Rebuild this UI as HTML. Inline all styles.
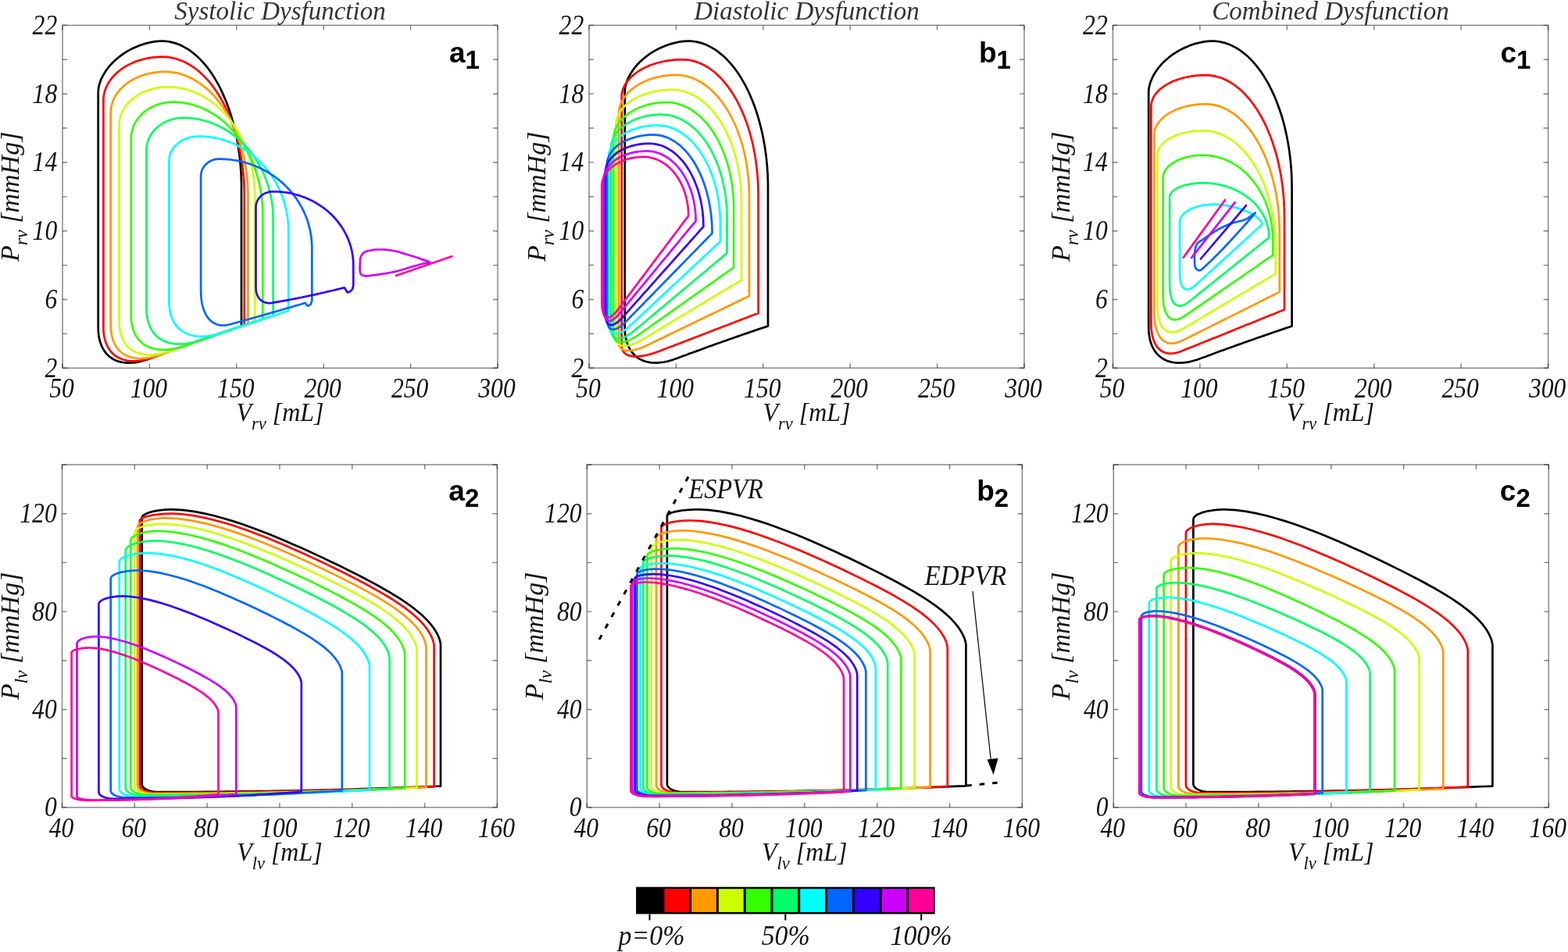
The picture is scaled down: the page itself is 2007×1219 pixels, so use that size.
<!DOCTYPE html><html><head><meta charset="utf-8"><style>html,body{margin:0;padding:0;background:#fff;overflow:hidden;}svg{display:block} .tk{font-family:"Liberation Serif", serif;font-style:italic;font-size:35.5px;fill:#111} .lab{font-family:"Liberation Serif", serif;font-style:italic;font-size:34px;fill:#111} .ttl{font-family:"Liberation Serif", serif;font-style:italic;font-size:33px;fill:#333} .pl{font-family:"Liberation Sans", sans-serif;font-weight:bold;font-size:37px;fill:#000}</style></head><body>
<svg width="2007" height="1219" viewBox="0 0 2007 1219">
<rect width="2007" height="1219" fill="#fff"/>
<text x="358.5" y="25" text-anchor="middle" class="ttl">Systolic Dysfunction</text>
<text x="1032.5" y="25" text-anchor="middle" class="ttl">Diastolic Dysfunction</text>
<text x="1703.0" y="25" text-anchor="middle" class="ttl">Combined Dysfunction</text>
<g fill="none" stroke-width="2.7" stroke-linejoin="round" stroke-linecap="round"><path d="M309.0 417.6L309.0 240.9L309.0 235.0L308.8 229.1L308.6 223.2L308.2 217.3L307.8 211.4L307.2 205.6L306.6 199.8L305.8 194.1L305.0 188.3L304.0 182.7L303.0 177.1L301.9 171.6L300.6 166.1L299.3 160.7L297.9 155.4L296.4 150.2L294.8 145.0L293.2 140.0L291.4 135.0L289.6 130.2L287.6 125.5L285.6 120.9L283.5 116.4L281.4 112.0L279.2 107.7L276.8 103.6L274.5 99.6L272.0 95.8L269.5 92.1L267.0 88.5L264.4 85.1L261.7 81.9L258.9 78.8L256.2 75.9L253.3 73.1L250.4 70.5L247.5 68.1L244.6 65.8L241.6 63.7L238.5 61.8L235.5 60.1L232.4 58.5L229.3 57.1L226.1 55.9L223.0 54.9L219.8 54.1L216.6 53.4L213.4 53.0L210.2 52.7L207.0 52.6L204.5 52.7L201.6 52.9L198.5 53.2L195.4 53.7L192.1 54.3L188.9 55.1L185.6 55.9L182.3 57.0L179.0 58.1L175.8 59.4L172.5 60.7L169.3 62.2L166.2 63.9L163.1 65.6L160.1 67.4L157.2 69.4L154.4 71.4L151.7 73.5L149.0 75.7L146.5 78.0L144.1 80.3L141.8 82.7L139.7 85.2L137.7 87.7L135.8 90.3L134.1 92.9L132.5 95.5L131.1 98.1L129.8 100.8L128.7 103.4L127.8 106.0L127.0 108.6L126.4 111.2L126.0 113.6L125.8 116.0L125.7 118.0L125.7 418.6L125.8 422.5L126.0 426.2L126.4 429.7L127.0 433.1L127.8 436.3L128.7 439.3L129.8 442.2L131.0 444.9L132.4 447.5L134.0 449.9L135.6 452.1L137.5 454.1L139.4 456.0L141.5 457.7L143.7 459.2L146.1 460.5L148.6 461.7L151.2 462.6L154.0 463.4L156.8 464.0L159.8 464.4L162.9 464.6L166.1 464.7L169.4 464.5L172.8 464.1L176.4 463.6L180.0 462.8L183.7 461.8L187.5 460.7L191.4 459.3L194.7 458.1L197.9 456.9L201.2 455.7L204.5 454.4L207.7 453.2L211.0 452.0L214.3 450.8L217.5 449.6L220.8 448.5L224.1 447.3L227.3 446.1L230.6 444.9L233.9 443.7L237.1 442.5L240.4 441.4L243.7 440.2L247.0 439.0L250.2 437.9L253.5 436.7L256.8 435.6L260.0 434.4L263.3 433.3L266.6 432.1L269.8 431.0L273.1 429.9L276.4 428.7L279.6 427.6L282.9 426.5L286.2 425.3L289.4 424.2L292.7 423.1L296.0 422.0L299.2 420.9L302.5 419.8L305.8 418.7L309.0 417.6Z" stroke="#000000"/><path d="M312.8 416.3L312.8 251.8L312.8 246.2L312.6 240.6L312.4 235.0L312.0 229.4L311.5 223.8L311.0 218.3L310.3 212.8L309.5 207.3L308.7 201.9L307.7 196.5L306.6 191.2L305.5 185.9L304.2 180.7L302.8 175.6L301.4 170.6L299.8 165.6L298.2 160.7L296.5 155.9L294.7 151.2L292.8 146.6L290.8 142.1L288.7 137.7L286.6 133.4L284.4 129.3L282.1 125.2L279.7 121.3L277.3 117.5L274.8 113.9L272.2 110.4L269.6 107.0L266.9 103.7L264.1 100.7L261.3 97.7L258.4 94.9L255.5 92.3L252.6 89.8L249.6 87.5L246.5 85.4L243.4 83.4L240.3 81.5L237.2 79.9L234.0 78.4L230.8 77.1L227.6 76.0L224.3 75.0L221.0 74.2L217.8 73.6L214.5 73.1L211.2 72.9L207.9 72.8L204.6 72.8L201.3 73.0L198.0 73.3L194.8 73.6L191.5 74.1L188.3 74.7L185.2 75.4L182.1 76.2L179.0 77.1L176.0 78.0L173.0 79.1L170.1 80.3L167.3 81.6L164.6 82.9L161.9 84.4L159.3 85.9L156.9 87.5L154.5 89.2L152.2 91.0L150.0 92.8L148.0 94.8L146.0 96.7L144.2 98.8L142.5 100.9L140.9 103.0L139.4 105.2L138.1 107.5L136.9 109.7L135.9 112.1L134.9 114.4L134.1 116.8L133.5 119.2L133.0 121.6L132.6 124.1L132.4 126.5L132.4 129.0L132.4 418.6L132.4 422.3L132.7 425.8L133.1 429.2L133.7 432.5L134.5 435.5L135.4 438.4L136.5 441.2L137.7 443.8L139.1 446.2L140.6 448.5L142.3 450.6L144.1 452.5L146.1 454.3L148.2 455.9L150.4 457.3L152.8 458.6L155.3 459.6L157.9 460.5L160.7 461.2L163.5 461.8L166.5 462.1L169.6 462.3L172.8 462.3L176.1 462.1L179.5 461.7L183.0 461.1L186.7 460.3L190.4 459.4L194.2 458.2L198.1 456.8L201.3 455.6L204.5 454.5L207.6 453.3L210.8 452.1L214.0 450.9L217.2 449.8L220.4 448.6L223.6 447.4L226.8 446.3L230.0 445.1L233.1 444.0L236.3 442.8L239.5 441.7L242.7 440.6L245.9 439.4L249.1 438.3L252.3 437.2L255.5 436.0L258.6 434.9L261.8 433.8L265.0 432.7L268.2 431.6L271.4 430.4L274.6 429.3L277.8 428.2L281.0 427.1L284.1 426.0L287.3 424.9L290.5 423.9L293.7 422.8L296.9 421.7L300.1 420.6L303.3 419.5L306.5 418.5L309.6 417.4L312.8 416.3Z" stroke="#ff0000"/><path d="M317.5 414.8L317.5 251.8L317.5 246.8L317.3 241.8L317.0 236.8L316.7 231.8L316.2 226.8L315.6 221.9L314.9 217.0L314.2 212.1L313.3 207.2L312.3 202.4L311.2 197.7L310.0 193.0L308.7 188.3L307.4 183.7L305.9 179.2L304.3 174.8L302.7 170.4L300.9 166.1L299.1 161.9L297.2 157.8L295.2 153.8L293.1 149.9L290.9 146.1L288.6 142.3L286.3 138.7L283.9 135.2L281.4 131.8L278.9 128.6L276.3 125.4L273.6 122.4L270.9 119.5L268.1 116.8L265.2 114.1L262.3 111.7L259.4 109.3L256.4 107.1L253.3 105.0L250.2 103.1L247.1 101.3L243.9 99.7L240.7 98.2L237.5 96.9L234.2 95.7L231.0 94.7L227.7 93.8L224.4 93.1L221.0 92.6L217.7 92.2L214.4 91.9L211.0 91.9L208.0 91.9L205.0 92.1L202.0 92.3L199.0 92.7L196.0 93.1L193.1 93.7L190.2 94.3L187.3 95.0L184.5 95.9L181.7 96.8L179.0 97.8L176.4 98.9L173.8 100.1L171.3 101.4L168.8 102.7L166.5 104.1L164.2 105.7L162.0 107.2L159.9 108.9L157.9 110.6L156.0 112.4L154.2 114.2L152.6 116.1L151.0 118.1L149.5 120.1L148.2 122.2L147.0 124.2L145.9 126.4L144.9 128.5L144.1 130.7L143.4 133.0L142.8 135.2L142.3 137.5L142.0 139.7L141.8 142.0L141.7 144.3L141.7 416.4L141.8 420.0L142.1 423.5L142.5 426.8L143.1 429.9L143.8 432.9L144.7 435.8L145.8 438.5L147.0 441.0L148.4 443.4L149.9 445.6L151.6 447.6L153.4 449.5L155.4 451.2L157.4 452.8L159.7 454.2L162.0 455.4L164.5 456.4L167.1 457.3L169.8 458.0L172.7 458.5L175.6 458.8L178.7 459.0L181.9 458.9L185.2 458.7L188.6 458.3L192.1 457.8L195.7 457.0L199.3 456.0L203.1 454.9L207.0 453.5L210.1 452.4L213.1 451.3L216.2 450.1L219.3 449.0L222.3 447.9L225.4 446.8L228.5 445.7L231.6 444.6L234.6 443.5L237.7 442.3L240.8 441.2L243.8 440.2L246.9 439.1L250.0 438.0L253.0 436.9L256.1 435.8L259.2 434.7L262.3 433.6L265.3 432.6L268.4 431.5L271.5 430.4L274.5 429.4L277.6 428.3L280.7 427.2L283.7 426.2L286.8 425.1L289.9 424.1L292.9 423.0L296.0 422.0L299.1 420.9L302.2 419.9L305.2 418.9L308.3 417.8L311.4 416.8L314.4 415.8L317.5 414.8Z" stroke="#ff9900"/><path d="M326.2 411.9L326.2 251.8L326.1 247.4L326.0 243.0L325.7 238.6L325.3 234.2L324.8 229.9L324.2 225.5L323.5 221.2L322.7 216.9L321.8 212.7L320.8 208.4L319.6 204.3L318.4 200.1L317.1 196.1L315.6 192.1L314.1 188.1L312.4 184.2L310.7 180.4L308.9 176.6L307.0 172.9L305.0 169.3L302.9 165.8L300.7 162.3L298.4 159.0L296.1 155.7L293.6 152.5L291.1 149.5L288.5 146.5L285.9 143.6L283.2 140.9L280.4 138.2L277.5 135.7L274.6 133.3L271.6 131.0L268.6 128.8L265.5 126.7L262.4 124.8L259.2 123.0L255.9 121.3L252.7 119.7L249.4 118.3L246.0 117.0L242.7 115.8L239.3 114.8L235.8 113.9L232.4 113.1L229.0 112.5L225.5 112.0L222.0 111.7L218.5 111.5L215.0 111.4L212.3 111.4L209.6 111.6L206.9 111.8L204.2 112.1L201.5 112.5L198.9 113.0L196.3 113.6L193.7 114.3L191.1 115.1L188.7 115.9L186.2 116.9L183.8 117.9L181.5 119.0L179.2 120.1L177.0 121.4L174.9 122.7L172.9 124.1L170.9 125.5L169.0 127.1L167.2 128.6L165.5 130.3L163.9 132.0L162.4 133.7L161.0 135.5L159.7 137.4L158.5 139.3L157.4 141.2L156.4 143.2L155.5 145.2L154.8 147.2L154.1 149.2L153.6 151.3L153.2 153.4L152.9 155.5L152.7 157.6L152.6 159.7L152.6 412.0L152.7 415.6L153.0 419.1L153.4 422.4L154.0 425.6L154.8 428.5L155.8 431.4L156.9 434.1L158.2 436.6L159.6 439.0L161.2 441.2L162.9 443.2L164.8 445.1L166.8 446.8L169.0 448.3L171.3 449.7L173.7 450.9L176.3 451.9L179.0 452.7L181.8 453.4L184.7 453.9L187.8 454.2L191.0 454.3L194.3 454.3L197.7 454.0L201.2 453.6L204.9 453.0L208.6 452.2L212.4 451.2L216.3 450.0L220.4 448.6L223.3 447.5L226.2 446.5L229.2 445.4L232.1 444.4L235.1 443.3L238.0 442.2L240.9 441.2L243.9 440.1L246.8 439.1L249.8 438.0L252.7 437.0L255.6 436.0L258.6 434.9L261.5 433.9L264.5 432.9L267.4 431.8L270.3 430.8L273.3 429.8L276.2 428.8L279.2 427.8L282.1 426.7L285.0 425.7L288.0 424.7L290.9 423.7L293.9 422.7L296.8 421.7L299.7 420.7L302.7 419.7L305.6 418.7L308.6 417.7L311.5 416.8L314.4 415.8L317.4 414.8L320.3 413.8L323.3 412.8L326.2 411.9Z" stroke="#ccff00"/><path d="M336.2 408.6L336.2 273.8L336.2 269.3L336.0 264.8L335.7 260.3L335.3 255.9L334.8 251.4L334.2 247.0L333.5 242.6L332.6 238.2L331.7 233.9L330.6 229.6L329.4 225.3L328.2 221.1L326.8 217.0L325.3 212.9L323.7 208.8L322.0 204.9L320.2 201.0L318.4 197.1L316.4 193.4L314.3 189.7L312.1 186.1L309.9 182.6L307.5 179.2L305.1 175.8L302.6 172.6L300.0 169.5L297.4 166.5L294.6 163.5L291.8 160.7L288.9 158.0L286.0 155.5L283.0 153.0L279.9 150.6L276.8 148.4L273.6 146.3L270.3 144.3L267.0 142.5L263.7 140.8L260.3 139.2L256.9 137.7L253.5 136.4L250.0 135.2L246.5 134.2L243.0 133.2L239.4 132.5L235.9 131.8L232.3 131.3L228.7 131.0L225.1 130.8L221.5 130.7L219.1 130.8L216.8 130.9L214.5 131.1L212.2 131.4L209.9 131.8L207.6 132.3L205.3 132.9L203.1 133.5L200.9 134.3L198.8 135.1L196.7 136.0L194.6 136.9L192.6 138.0L190.7 139.1L188.8 140.3L187.0 141.6L185.2 142.9L183.5 144.3L181.9 145.8L180.3 147.3L178.9 148.9L177.5 150.6L176.2 152.2L175.0 154.0L173.9 155.8L172.8 157.6L171.9 159.4L171.0 161.3L170.3 163.2L169.6 165.2L169.1 167.2L168.6 169.2L168.2 171.2L168.0 173.2L167.8 175.2L167.8 177.2L167.8 403.3L167.9 407.0L168.2 410.7L168.6 414.1L169.3 417.4L170.1 420.6L171.0 423.6L172.2 426.4L173.5 429.0L175.0 431.5L176.6 433.8L178.4 436.0L180.4 438.0L182.5 439.8L184.8 441.4L187.1 442.8L189.7 444.1L192.4 445.2L195.2 446.1L198.1 446.8L201.2 447.4L204.4 447.7L207.7 447.9L211.1 447.9L214.6 447.6L218.3 447.2L222.1 446.6L226.0 445.8L229.9 444.8L234.0 443.6L238.2 442.2L240.9 441.2L243.6 440.2L246.4 439.3L249.1 438.3L251.8 437.3L254.5 436.4L257.2 435.4L260.0 434.4L262.7 433.5L265.4 432.5L268.1 431.6L270.9 430.6L273.6 429.7L276.3 428.7L279.0 427.8L281.8 426.9L284.5 425.9L287.2 425.0L289.9 424.1L292.7 423.1L295.4 422.2L298.1 421.3L300.8 420.4L303.5 419.4L306.3 418.5L309.0 417.6L311.7 416.7L314.4 415.8L317.2 414.9L319.9 414.0L322.6 413.1L325.3 412.2L328.1 411.3L330.8 410.4L333.5 409.5L336.2 408.6Z" stroke="#33ff00"/><path d="M349.6 404.2L349.6 280.4L349.5 276.3L349.4 272.2L349.1 268.2L348.7 264.2L348.2 260.1L347.6 256.1L346.8 252.1L346.0 248.2L345.0 244.3L344.0 240.4L342.8 236.5L341.5 232.7L340.1 229.0L338.6 225.3L337.1 221.6L335.4 218.0L333.6 214.5L331.7 211.0L329.7 207.6L327.6 204.3L325.5 201.0L323.2 197.8L320.9 194.8L318.4 191.7L315.9 188.8L313.3 186.0L310.7 183.3L307.9 180.6L305.1 178.1L302.2 175.6L299.2 173.3L296.2 171.1L293.1 168.9L290.0 166.9L286.8 165.0L283.6 163.2L280.3 161.6L276.9 160.0L273.6 158.6L270.1 157.2L266.7 156.0L263.2 155.0L259.7 154.0L256.2 153.2L252.6 152.5L249.0 151.9L245.4 151.5L241.8 151.2L238.2 151.0L234.6 150.9L232.6 150.9L230.5 151.1L228.5 151.3L226.4 151.5L224.4 151.9L222.4 152.3L220.4 152.8L218.5 153.4L216.5 154.1L214.7 154.8L212.8 155.6L211.0 156.5L209.2 157.4L207.5 158.4L205.9 159.5L204.3 160.7L202.7 161.9L201.2 163.1L199.8 164.4L198.4 165.8L197.2 167.2L195.9 168.7L194.8 170.2L193.7 171.8L192.7 173.3L191.8 175.0L191.0 176.6L190.2 178.3L189.6 180.1L189.0 181.8L188.5 183.6L188.1 185.4L187.8 187.2L187.6 189.0L187.4 190.8L187.4 192.6L187.4 394.5L187.5 398.3L187.8 402.0L188.2 405.6L188.9 409.0L189.7 412.2L190.7 415.2L191.8 418.1L193.2 420.9L194.7 423.4L196.3 425.8L198.1 428.0L200.1 430.1L202.2 431.9L204.5 433.6L206.9 435.1L209.4 436.4L212.1 437.6L214.9 438.6L217.9 439.3L221.0 439.9L224.2 440.3L227.5 440.5L231.0 440.5L234.5 440.3L238.2 440.0L242.0 439.4L245.9 438.6L249.9 437.6L254.0 436.4L258.2 435.0L260.8 434.2L263.3 433.3L265.9 432.4L268.4 431.5L270.9 430.6L273.5 429.7L276.0 428.8L278.5 428.0L281.1 427.1L283.6 426.2L286.2 425.3L288.7 424.5L291.2 423.6L293.8 422.7L296.3 421.9L298.8 421.0L301.4 420.2L303.9 419.3L306.5 418.5L309.0 417.6L311.5 416.7L314.1 415.9L316.6 415.1L319.1 414.2L321.7 413.4L324.2 412.5L326.8 411.7L329.3 410.9L331.8 410.0L334.4 409.2L336.9 408.4L339.4 407.5L342.0 406.7L344.5 405.9L347.1 405.1L349.6 404.2Z" stroke="#00ff66"/><path d="M369.2 398.0L369.2 295.7L369.1 291.9L369.0 288.1L368.7 284.3L368.3 280.6L367.8 276.8L367.2 273.0L366.4 269.3L365.6 265.6L364.6 261.9L363.6 258.3L362.4 254.7L361.1 251.1L359.8 247.6L358.3 244.2L356.7 240.7L355.0 237.4L353.2 234.1L351.3 230.8L349.4 227.7L347.3 224.5L345.1 221.5L342.9 218.5L340.5 215.6L338.1 212.8L335.6 210.1L333.0 207.4L330.3 204.9L327.6 202.4L324.8 200.0L321.9 197.7L318.9 195.6L315.9 193.5L312.9 191.5L309.7 189.6L306.5 187.8L303.3 186.1L300.0 184.6L296.7 183.1L293.3 181.8L289.9 180.5L286.5 179.4L283.0 178.4L279.5 177.5L276.0 176.7L272.4 176.1L268.8 175.6L265.3 175.1L261.7 174.8L258.1 174.7L254.5 174.6L252.8 174.6L251.1 174.7L249.5 174.9L247.8 175.1L246.2 175.3L244.6 175.7L243.0 176.0L241.4 176.5L239.9 177.0L238.4 177.5L236.9 178.1L235.4 178.8L234.0 179.5L232.6 180.2L231.3 181.0L230.0 181.9L228.7 182.8L227.5 183.7L226.4 184.7L225.3 185.7L224.2 186.8L223.2 187.9L222.3 189.0L221.5 190.2L220.7 191.4L219.9 192.6L219.3 193.8L218.7 195.1L218.1 196.4L217.7 197.7L217.3 199.0L216.9 200.4L216.7 201.7L216.5 203.0L216.4 204.4L216.4 205.8L216.4 385.7L216.4 389.5L216.7 393.0L217.2 396.5L217.8 399.8L218.6 402.9L219.5 405.9L220.7 408.7L221.9 411.4L223.4 413.9L225.0 416.2L226.7 418.4L228.7 420.4L230.7 422.2L232.9 423.9L235.2 425.3L237.7 426.7L240.3 427.8L243.0 428.8L245.9 429.5L248.9 430.1L252.0 430.5L255.2 430.8L258.6 430.8L262.0 430.7L265.6 430.3L269.3 429.8L273.0 429.1L276.9 428.2L280.9 427.1L285.0 425.8L287.3 424.9L289.7 424.1L292.0 423.3L294.3 422.6L296.7 421.8L299.0 421.0L301.4 420.2L303.7 419.4L306.0 418.6L308.4 417.8L310.7 417.0L313.0 416.2L315.4 415.5L317.7 414.7L320.1 413.9L322.4 413.1L324.7 412.4L327.1 411.6L329.4 410.8L331.8 410.0L334.1 409.3L336.4 408.5L338.8 407.7L341.1 407.0L343.5 406.2L345.8 405.5L348.1 404.7L350.5 404.0L352.8 403.2L355.2 402.5L357.5 401.7L359.8 401.0L362.2 400.2L364.5 399.5L366.9 398.7L369.2 398.0Z" stroke="#00ffff"/><path d="M399.3 385.3L399.3 317.7L399.2 314.1L399.0 310.5L398.7 306.9L398.3 303.4L397.8 299.8L397.2 296.3L396.4 292.8L395.5 289.3L394.6 285.8L393.5 282.4L392.3 279.0L390.9 275.7L389.5 272.4L388.0 269.1L386.3 265.9L384.6 262.7L382.7 259.6L380.8 256.5L378.7 253.5L376.6 250.6L374.4 247.7L372.0 244.9L369.6 242.2L367.1 239.6L364.5 237.0L361.8 234.5L359.1 232.1L356.2 229.8L353.3 227.5L350.3 225.4L347.3 223.3L344.2 221.3L341.0 219.5L337.7 217.7L334.4 216.0L331.1 214.4L327.7 213.0L324.2 211.6L320.7 210.3L317.2 209.2L313.7 208.1L310.1 207.2L306.4 206.3L302.8 205.6L299.1 205.0L295.4 204.5L291.7 204.1L288.0 203.8L284.3 203.6L280.5 203.6L279.5 203.6L278.5 203.7L277.5 203.8L276.5 203.9L275.5 204.1L274.5 204.3L273.5 204.6L272.5 204.9L271.6 205.2L270.6 205.6L269.7 206.1L268.8 206.5L268.0 207.0L267.1 207.5L266.3 208.1L265.5 208.7L264.7 209.3L264.0 210.0L263.3 210.7L262.6 211.4L262.0 212.2L261.4 212.9L260.8 213.7L260.3 214.5L259.8 215.4L259.3 216.2L258.9 217.1L258.5 218.0L258.2 218.9L257.9 219.8L257.7 220.8L257.5 221.7L257.3 222.7L257.2 223.6L257.1 224.6L257.1 225.5L257.1 372.5L257.2 375.7L257.3 378.7L257.6 381.6L257.9 384.4L258.3 387.2L258.8 389.8L259.4 392.3L260.1 394.7L260.9 396.9L261.8 399.1L262.7 401.2L263.7 403.1L264.8 404.9L266.0 406.6L267.2 408.2L268.6 409.6L270.0 410.9L271.4 412.1L273.0 413.1L274.6 414.1L276.2 414.8L278.0 415.5L279.7 416.0L281.6 416.3L283.5 416.6L285.5 416.6L287.5 416.6L289.6 416.4L291.7 416.0L293.9 415.5L296.8 414.7L299.7 413.9L302.7 413.1L305.6 412.3L308.5 411.5L311.5 410.6L314.4 409.8L317.3 409.0L320.2 408.2L323.2 407.4L326.1 406.6L329.0 405.7L331.9 404.9L334.9 404.1L337.8 403.3L340.7 402.4L343.7 401.6L346.6 400.8L349.5 399.9L352.4 399.1L355.4 398.2L358.3 397.4L361.2 396.5L364.1 395.7L367.1 394.8L370.0 394.0L372.9 393.1L375.9 392.3L378.8 391.4L381.7 390.5L384.6 389.7L387.6 388.8L390.5 387.9L394.1 391.9L397.5 389.9Z" stroke="#0066ff"/><path d="M452.3 365.3L452.3 339.6L452.2 336.7L452.1 333.7L451.8 330.7L451.5 327.8L451.0 324.9L450.5 321.9L449.8 319.0L449.1 316.2L448.2 313.3L447.3 310.5L446.2 307.7L445.1 304.9L443.9 302.2L442.5 299.5L441.1 296.8L439.6 294.2L438.0 291.6L436.3 289.1L434.5 286.6L432.7 284.2L430.7 281.8L428.7 279.5L426.6 277.2L424.5 275.0L422.2 272.9L419.9 270.8L417.5 268.8L415.1 266.9L412.5 265.1L410.0 263.3L407.3 261.6L404.6 260.0L401.9 258.4L399.1 256.9L396.2 255.6L393.3 254.2L390.4 253.0L387.4 251.9L384.4 250.8L381.3 249.9L378.2 249.0L375.1 248.2L372.0 247.5L368.8 246.9L365.7 246.4L362.5 246.0L359.3 245.7L356.0 245.5L352.8 245.3L349.6 245.3L348.6 245.3L347.7 245.3L346.7 245.4L345.8 245.6L344.8 245.7L343.9 245.9L343.0 246.2L342.0 246.5L341.1 246.8L340.3 247.1L339.4 247.5L338.6 247.9L337.7 248.4L336.9 248.8L336.2 249.3L335.4 249.9L334.7 250.5L334.0 251.1L333.3 251.7L332.7 252.3L332.1 253.0L331.5 253.7L331.0 254.4L330.5 255.1L330.0 255.9L329.6 256.7L329.2 257.5L328.9 258.3L328.6 259.1L328.3 259.9L328.1 260.7L327.9 261.6L327.7 262.4L327.6 263.3L327.6 264.2L327.5 265.0L327.5 368.2L327.6 369.5L327.6 370.9L327.8 372.2L328.0 373.4L328.2 374.6L328.5 375.8L328.9 376.9L329.3 377.9L329.7 378.9L330.3 379.9L330.8 380.8L331.4 381.7L332.0 382.5L332.7 383.3L333.5 384.0L334.3 384.6L335.1 385.2L335.9 385.8L336.8 386.3L337.8 386.7L338.8 387.1L339.8 387.4L340.8 387.7L341.9 387.8L343.0 388.0L344.2 388.1L345.4 388.1L346.6 388.0L347.9 387.9L349.1 387.7L352.0 387.2L354.9 386.7L357.7 386.2L360.6 385.7L363.5 385.1L366.3 384.6L369.2 384.1L372.1 383.5L374.9 383.0L377.8 382.4L380.7 381.9L383.5 381.3L386.4 380.7L389.3 380.1L392.1 379.5L395.0 378.9L397.9 378.3L400.7 377.7L403.6 377.1L406.5 376.4L409.3 375.8L412.2 375.1L415.0 374.5L417.9 373.8L420.8 373.1L423.6 372.5L426.5 371.8L429.4 371.1L432.2 370.4L435.1 369.7L438.0 369.0L440.8 368.3L444.7 374.5L448.1 373.4L451.2 370.1Z" stroke="#3300ff"/><path d="M550.0 335.9L549.7 335.5L548.9 335.1L547.7 334.6L546.2 334.1L544.6 333.5L542.8 332.9L541.2 332.4L539.7 331.9L538.2 331.4L536.7 330.9L535.2 330.3L533.6 329.8L532.1 329.3L530.6 328.8L529.1 328.3L527.7 327.9L526.6 327.6L525.6 327.3L524.7 327.0L523.7 326.7L522.7 326.4L521.8 326.1L520.8 325.8L519.7 325.5L518.3 325.1L516.9 324.6L515.4 324.1L513.9 323.6L512.4 323.2L510.8 322.7L509.3 322.3L507.8 321.9L506.3 321.6L504.8 321.3L503.3 321.0L501.8 320.7L500.3 320.5L498.8 320.3L497.3 320.1L495.8 319.9L494.3 319.8L492.8 319.7L491.2 319.6L489.7 319.5L488.2 319.5L486.7 319.5L485.3 319.5L483.9 319.5L482.8 319.5L481.8 319.6L480.8 319.7L479.8 319.7L478.9 319.8L477.9 320.0L476.9 320.1L475.9 320.3L474.7 320.5L473.4 320.8L472.1 321.0L470.8 321.3L469.6 321.7L468.4 322.1L467.3 322.5L466.3 323.1L465.6 323.6L464.9 324.3L464.3 324.9L463.7 325.6L463.2 326.4L462.7 327.1L462.3 327.9L461.9 328.7L461.6 329.5L461.4 330.3L461.2 331.2L461.1 332.1L461.1 333.0L461.0 333.9L461.0 334.9L460.9 335.9L460.8 337.3L460.7 338.8L460.7 340.5L460.6 342.1L460.6 343.7L460.6 345.3L460.7 346.6L460.9 347.8L461.0 348.4L461.1 348.9L461.2 349.4L461.4 349.9L461.5 350.3L461.7 350.7L462.0 351.1L462.3 351.4L462.8 351.8L463.4 352.2L464.0 352.5L464.8 352.7L465.5 353.0L466.3 353.1L467.1 353.3L467.9 353.4L468.8 353.5L469.8 353.4L470.7 353.4L471.7 353.2L472.7 353.1L473.8 352.9L474.8 352.7L475.9 352.6L477.3 352.4L478.7 352.3L480.2 352.1L481.7 351.9L483.2 351.7L484.8 351.4L486.3 351.2L487.8 351.0L489.3 350.8L490.8 350.5L492.3 350.3L493.8 350.1L495.3 349.8L496.8 349.6L498.3 349.3L499.8 349.0L501.3 348.7L502.8 348.4L504.2 348.1L505.7 347.8L507.2 347.4L508.7 347.1L510.2 346.7L511.8 346.3L513.7 345.8L515.6 345.2L517.6 344.6L519.6 344.0L521.6 343.3L523.7 342.7L525.7 342.1L527.7 341.5L529.7 340.9L531.9 340.3L534.0 339.7L536.1 339.1L538.2 338.5L540.2 338.0L542.0 337.5L543.7 337.1L544.7 336.9L545.8 336.8L546.8 336.6L547.8 336.5L548.7 336.4L549.4 336.3L549.8 336.1Z" stroke="#cc00ff"/><path d="M507 353L578.4 328.3" stroke="#ff0099"/></g>
<g fill="none" stroke-width="2.7" stroke-linejoin="round" stroke-linecap="round"><path d="M983.0 417.5L983.0 240.8L983.0 234.9L982.8 229.0L982.6 223.1L982.2 217.2L981.8 211.4L981.2 205.6L980.6 199.8L979.8 194.0L979.0 188.3L978.0 182.7L977.0 177.1L975.9 171.5L974.6 166.1L973.3 160.7L971.9 155.4L970.4 150.1L968.8 145.0L967.2 140.0L965.4 135.0L963.6 130.2L961.6 125.5L959.6 120.8L957.5 116.3L955.4 112.0L953.2 107.7L950.8 103.6L948.5 99.6L946.0 95.8L943.5 92.1L941.0 88.5L938.4 85.1L935.7 81.9L932.9 78.8L930.2 75.9L927.3 73.1L924.4 70.5L921.5 68.1L918.6 65.8L915.6 63.7L912.5 61.8L909.5 60.1L906.4 58.5L903.3 57.1L900.1 55.9L897.0 54.9L893.8 54.1L890.6 53.4L887.4 53.0L884.2 52.7L881.0 52.6L878.5 52.7L875.6 52.9L872.5 53.2L869.4 53.7L866.1 54.3L862.9 55.1L859.6 55.9L856.3 57.0L853.0 58.1L849.8 59.4L846.5 60.7L843.3 62.2L840.2 63.9L837.1 65.6L834.1 67.4L831.2 69.3L828.4 71.4L825.7 73.5L823.0 75.7L820.5 78.0L818.1 80.3L815.8 82.7L813.7 85.2L811.7 87.7L809.8 90.3L808.1 92.9L806.5 95.5L805.1 98.1L803.8 100.8L802.7 103.4L801.8 106.0L801.0 108.6L800.4 111.2L800.0 113.6L799.8 116.0L799.7 118.0L799.7 418.5L799.8 422.4L800.0 426.1L800.4 429.6L801.0 433.0L801.8 436.2L802.7 439.2L803.8 442.1L805.0 444.8L806.4 447.4L808.0 449.8L809.6 452.0L811.5 454.0L813.4 455.9L815.5 457.6L817.7 459.1L820.1 460.4L822.6 461.6L825.2 462.5L828.0 463.3L830.8 463.9L833.8 464.3L836.9 464.5L840.1 464.6L843.4 464.4L846.8 464.0L850.4 463.5L854.0 462.7L857.7 461.7L861.5 460.6L865.4 459.2L868.7 458.0L871.9 456.8L875.2 455.6L878.5 454.4L881.7 453.1L885.0 451.9L888.3 450.7L891.5 449.6L894.8 448.4L898.1 447.2L901.3 446.0L904.6 444.8L907.9 443.6L911.1 442.5L914.4 441.3L917.7 440.1L921.0 438.9L924.2 437.8L927.5 436.6L930.8 435.5L934.0 434.3L937.3 433.2L940.6 432.0L943.8 430.9L947.1 429.8L950.4 428.6L953.6 427.5L956.9 426.4L960.2 425.3L963.4 424.1L966.7 423.0L970.0 421.9L973.2 420.8L976.5 419.7L979.8 418.6L983.0 417.5Z" stroke="#000000"/><path d="M970.6 401.0L970.6 249.6L970.5 244.2L970.4 238.7L970.1 233.3L969.8 227.9L969.4 222.5L968.8 217.1L968.2 211.8L967.5 206.5L966.7 201.2L965.8 196.0L964.8 190.9L963.8 185.8L962.6 180.8L961.3 175.8L960.0 170.9L958.6 166.1L957.1 161.4L955.5 156.7L953.8 152.2L952.1 147.7L950.2 143.4L948.3 139.1L946.3 135.0L944.3 131.0L942.2 127.0L940.0 123.3L937.7 119.6L935.4 116.1L933.0 112.7L930.6 109.4L928.1 106.3L925.6 103.3L923.0 100.4L920.3 97.7L917.6 95.2L914.9 92.8L912.1 90.5L909.3 88.5L906.5 86.5L903.6 84.8L900.7 83.2L897.7 81.7L894.8 80.5L891.8 79.4L888.8 78.4L885.8 77.6L882.8 77.0L879.7 76.6L876.7 76.4L873.6 76.3L870.2 76.3L866.8 76.5L863.5 76.7L860.1 77.0L856.8 77.4L853.5 77.9L850.2 78.5L847.0 79.2L843.8 80.0L840.7 80.8L837.6 81.7L834.7 82.7L831.7 83.8L828.9 85.0L826.2 86.3L823.5 87.6L821.0 89.0L818.5 90.4L816.2 91.9L813.9 93.5L811.8 95.2L809.8 96.9L807.9 98.6L806.1 100.4L804.5 102.3L803.0 104.1L801.6 106.1L800.4 108.0L799.3 110.0L798.3 112.1L797.5 114.1L796.8 116.2L796.3 118.2L796.0 120.3L795.7 122.4L795.7 124.5L795.7 442.7L795.7 444.2L795.9 445.6L796.2 446.9L796.7 448.1L797.2 449.3L797.9 450.3L798.7 451.3L799.6 452.2L800.6 453.0L801.7 453.8L803.0 454.4L804.3 454.9L805.7 455.4L807.3 455.8L808.9 456.1L810.6 456.3L812.5 456.4L814.4 456.4L816.4 456.3L818.5 456.2L820.7 455.9L822.9 455.6L825.3 455.2L827.7 454.7L830.2 454.1L832.8 453.4L835.4 452.6L838.1 451.7L840.9 450.7L843.8 449.7L847.3 448.3L850.8 447.0L854.4 445.6L857.9 444.3L861.4 442.9L864.9 441.6L868.4 440.2L872.0 438.9L875.5 437.5L879.0 436.2L882.5 434.8L886.0 433.5L889.6 432.1L893.1 430.7L896.6 429.4L900.1 428.0L903.7 426.7L907.2 425.3L910.7 424.0L914.2 422.6L917.7 421.3L921.3 419.9L924.8 418.6L928.3 417.2L931.8 415.9L935.3 414.5L938.9 413.2L942.4 411.8L945.9 410.5L949.4 409.1L953.0 407.8L956.5 406.4L960.0 405.0L963.5 403.7L967.0 402.3L970.6 401.0Z" stroke="#ff0000"/><path d="M959.0 379.1L959.0 251.8L958.9 246.9L958.8 242.0L958.6 237.1L958.2 232.3L957.8 227.4L957.3 222.6L956.7 217.8L956.0 213.1L955.3 208.3L954.4 203.7L953.4 199.0L952.4 194.5L951.3 189.9L950.1 185.5L948.8 181.1L947.4 176.8L945.9 172.5L944.4 168.3L942.8 164.2L941.1 160.2L939.3 156.3L937.5 152.5L935.6 148.8L933.6 145.2L931.6 141.7L929.5 138.2L927.3 135.0L925.0 131.8L922.8 128.7L920.4 125.8L918.0 123.0L915.5 120.3L913.0 117.7L910.5 115.3L907.9 113.0L905.2 110.9L902.6 108.8L899.8 107.0L897.1 105.2L894.3 103.7L891.5 102.2L888.7 100.9L885.8 99.8L882.9 98.8L880.0 97.9L877.1 97.3L874.2 96.7L871.3 96.3L868.3 96.1L865.4 96.0L862.2 96.1L859.0 96.2L855.8 96.5L852.6 96.8L849.5 97.2L846.4 97.7L843.3 98.4L840.3 99.1L837.3 99.9L834.3 100.8L831.5 101.7L828.6 102.8L825.9 103.9L823.2 105.2L820.6 106.5L818.1 107.8L815.7 109.3L813.4 110.8L811.2 112.4L809.1 114.1L807.1 115.8L805.2 117.5L803.4 119.4L801.7 121.3L800.2 123.2L798.8 125.2L797.5 127.2L796.3 129.2L795.3 131.3L794.4 133.4L793.6 135.6L793.0 137.7L792.5 139.9L792.2 142.1L791.9 144.3L791.9 146.5L791.9 438.3L791.9 439.5L792.1 440.7L792.3 441.8L792.6 442.8L793.1 443.8L793.6 444.6L794.2 445.4L794.9 446.1L795.6 446.8L796.5 447.3L797.4 447.8L798.5 448.2L799.6 448.5L800.7 448.8L802.0 448.9L803.3 449.0L804.7 449.0L806.2 449.0L807.7 448.8L809.3 448.6L811.0 448.3L812.7 447.9L814.5 447.4L816.3 446.9L818.3 446.3L820.2 445.6L822.2 444.8L824.3 443.9L826.5 443.0L828.6 441.9L832.3 440.2L835.9 438.4L839.5 436.7L843.1 435.0L846.7 433.2L850.4 431.5L854.0 429.7L857.6 428.0L861.2 426.2L864.8 424.5L868.5 422.7L872.1 421.0L875.7 419.2L879.3 417.5L882.9 415.7L886.6 414.0L890.2 412.2L893.8 410.5L897.4 408.8L901.0 407.0L904.7 405.3L908.3 403.5L911.9 401.8L915.5 400.0L919.2 398.3L922.8 396.5L926.4 394.8L930.0 393.0L933.6 391.3L937.3 389.5L940.9 387.8L944.5 386.0L948.1 384.3L951.7 382.5L955.4 380.8L959.0 379.1Z" stroke="#ff9900"/><path d="M949.0 358.6L949.0 258.4L948.9 253.9L948.8 249.4L948.6 244.9L948.3 240.4L947.9 235.9L947.4 231.5L946.8 227.1L946.2 222.7L945.4 218.4L944.6 214.0L943.7 209.8L942.7 205.6L941.7 201.4L940.5 197.3L939.3 193.2L938.0 189.3L936.6 185.3L935.1 181.5L933.6 177.7L932.0 174.0L930.3 170.4L928.6 166.9L926.8 163.5L924.9 160.2L923.0 156.9L921.0 153.8L918.9 150.8L916.8 147.8L914.6 145.0L912.4 142.3L910.1 139.7L907.8 137.2L905.4 134.9L903.0 132.6L900.5 130.5L898.0 128.6L895.5 126.7L892.9 125.0L890.3 123.4L887.7 121.9L885.0 120.6L882.3 119.4L879.6 118.4L876.9 117.4L874.1 116.7L871.4 116.0L868.6 115.5L865.8 115.2L863.1 115.0L860.3 114.9L857.1 114.9L854.0 115.1L850.9 115.3L847.8 115.6L844.7 116.0L841.7 116.4L838.7 117.0L835.7 117.6L832.8 118.3L830.0 119.1L827.1 120.0L824.4 120.9L821.7 121.9L819.1 123.0L816.6 124.1L814.2 125.4L811.8 126.7L809.5 128.0L807.4 129.4L805.3 130.9L803.4 132.4L801.5 134.0L799.8 135.6L798.1 137.3L796.6 139.0L795.3 140.7L794.0 142.5L792.9 144.3L791.9 146.2L791.0 148.1L790.2 150.0L789.6 151.9L789.1 153.8L788.8 155.8L788.6 157.7L788.5 159.7L788.5 431.7L788.6 433.1L788.7 434.3L788.9 435.5L789.3 436.6L789.7 437.6L790.1 438.5L790.7 439.4L791.3 440.1L792.1 440.8L792.9 441.3L793.8 441.8L794.7 442.2L795.8 442.5L796.9 442.8L798.0 442.9L799.3 442.9L800.6 442.9L802.0 442.8L803.4 442.5L804.9 442.2L806.5 441.8L808.1 441.4L809.8 440.8L811.5 440.1L813.3 439.4L815.2 438.5L817.1 437.6L819.0 436.6L821.0 435.5L823.1 434.3L826.6 432.2L830.1 430.1L833.6 428.0L837.1 425.9L840.6 423.8L844.0 421.7L847.5 419.6L851.0 417.5L854.5 415.4L858.0 413.3L861.5 411.2L865.0 409.1L868.5 407.0L872.0 404.9L875.5 402.8L879.0 400.7L882.5 398.6L886.0 396.5L889.5 394.4L893.0 392.3L896.5 390.2L900.0 388.1L903.5 386.0L907.0 383.9L910.5 381.8L914.0 379.7L917.5 377.6L921.0 375.5L924.5 373.4L928.0 371.3L931.5 369.2L935.0 367.0L938.5 364.9L942.0 362.8L945.5 360.7L949.0 358.6Z" stroke="#ccff00"/><path d="M939.1 342.4L939.1 267.2L939.1 262.9L939.0 258.6L938.8 254.4L938.5 250.1L938.1 245.9L937.6 241.7L937.1 237.5L936.5 233.3L935.7 229.2L934.9 225.1L934.1 221.1L933.1 217.1L932.1 213.1L931.0 209.2L929.8 205.4L928.5 201.6L927.2 197.9L925.8 194.3L924.3 190.7L922.8 187.2L921.1 183.8L919.5 180.5L917.7 177.2L915.9 174.0L914.0 171.0L912.1 168.0L910.1 165.1L908.0 162.3L905.9 159.7L903.8 157.1L901.6 154.7L899.3 152.3L897.0 150.1L894.7 148.0L892.3 146.0L889.9 144.1L887.4 142.3L884.9 140.7L882.4 139.2L879.9 137.8L877.3 136.5L874.7 135.4L872.1 134.4L869.4 133.5L866.8 132.8L864.1 132.2L861.4 131.7L858.8 131.4L856.1 131.2L853.4 131.1L850.4 131.2L847.4 131.3L844.5 131.5L841.5 131.8L838.6 132.2L835.7 132.7L832.9 133.3L830.1 133.9L827.3 134.7L824.6 135.5L821.9 136.4L819.3 137.4L816.7 138.4L814.3 139.6L811.9 140.8L809.5 142.1L807.3 143.4L805.2 144.8L803.1 146.3L801.1 147.8L799.3 149.4L797.5 151.1L795.9 152.8L794.3 154.5L792.9 156.3L791.6 158.1L790.4 160.0L789.3 161.9L788.3 163.8L787.5 165.8L786.8 167.7L786.2 169.7L785.8 171.8L785.5 173.8L785.3 175.8L785.2 177.9L785.2 427.3L785.2 428.7L785.4 430.0L785.6 431.2L785.9 432.4L786.3 433.4L786.8 434.3L787.3 435.1L788.0 435.9L788.7 436.5L789.5 437.0L790.4 437.5L791.3 437.8L792.3 438.1L793.4 438.2L794.6 438.3L795.8 438.2L797.1 438.1L798.4 437.8L799.9 437.5L801.4 437.1L802.9 436.5L804.5 435.9L806.2 435.2L807.9 434.4L809.7 433.4L811.5 432.4L813.4 431.3L815.3 430.1L817.3 428.8L819.3 427.4L822.6 425.0L825.9 422.7L829.3 420.3L832.6 418.0L835.9 415.6L839.3 413.2L842.6 410.9L845.9 408.5L849.2 406.2L852.6 403.8L855.9 401.4L859.2 399.1L862.6 396.7L865.9 394.3L869.2 392.0L872.6 389.6L875.9 387.3L879.2 384.9L882.5 382.5L885.9 380.2L889.2 377.8L892.5 375.5L895.9 373.1L899.2 370.7L902.5 368.4L905.9 366.0L909.2 363.7L912.5 361.3L915.8 358.9L919.2 356.6L922.5 354.2L925.8 351.9L929.2 349.5L932.5 347.1L935.8 344.8L939.1 342.4Z" stroke="#33ff00"/><path d="M930.5 324.2L930.5 278.1L930.4 274.0L930.3 269.9L930.1 265.8L929.8 261.7L929.4 257.6L929.0 253.5L928.4 249.5L927.8 245.4L927.1 241.5L926.3 237.5L925.5 233.6L924.6 229.7L923.5 225.9L922.5 222.2L921.3 218.5L920.1 214.8L918.8 211.2L917.4 207.7L915.9 204.3L914.4 200.9L912.8 197.6L911.2 194.4L909.5 191.2L907.7 188.2L905.9 185.2L904.0 182.3L902.0 179.5L900.0 176.9L897.9 174.3L895.8 171.8L893.7 169.4L891.5 167.2L889.2 165.0L886.9 163.0L884.6 161.0L882.2 159.2L879.8 157.5L877.4 155.9L874.9 154.5L872.4 153.1L869.9 151.9L867.4 150.8L864.8 149.9L862.2 149.0L859.6 148.3L857.0 147.7L854.4 147.3L851.7 147.0L849.1 146.8L846.5 146.7L843.7 146.7L840.9 146.9L838.1 147.1L835.3 147.4L832.5 147.7L829.8 148.2L827.1 148.7L824.4 149.3L821.8 150.0L819.2 150.8L816.7 151.6L814.3 152.5L811.9 153.5L809.5 154.5L807.3 155.6L805.1 156.8L803.0 158.1L800.9 159.4L799.0 160.7L797.1 162.1L795.4 163.6L793.7 165.1L792.2 166.7L790.7 168.3L789.3 170.0L788.1 171.7L787.0 173.4L786.0 175.1L785.1 176.9L784.3 178.7L783.6 180.6L783.1 182.4L782.6 184.3L782.3 186.2L782.1 188.0L782.1 189.9L782.1 420.7L782.1 422.3L782.2 423.8L782.4 425.2L782.7 426.5L783.1 427.7L783.5 428.8L784.0 429.7L784.6 430.6L785.3 431.3L786.0 432.0L786.8 432.5L787.7 432.9L788.6 433.3L789.6 433.5L790.7 433.6L791.8 433.6L793.0 433.4L794.3 433.2L795.6 432.9L797.0 432.5L798.4 431.9L799.9 431.3L801.4 430.5L803.0 429.6L804.6 428.6L806.3 427.6L808.0 426.4L809.8 425.0L811.6 423.6L813.5 422.1L816.7 419.4L820.0 416.7L823.2 414.0L826.5 411.2L829.7 408.5L833.0 405.8L836.2 403.1L839.5 400.4L842.7 397.6L846.0 394.9L849.2 392.2L852.5 389.5L855.7 386.8L859.0 384.0L862.2 381.3L865.5 378.6L868.7 375.9L872.0 373.2L875.2 370.4L878.5 367.7L881.7 365.0L885.0 362.3L888.2 359.6L891.5 356.8L894.7 354.1L898.0 351.4L901.2 348.7L904.5 346.0L907.7 343.2L911.0 340.5L914.2 337.8L917.5 335.1L920.7 332.4L924.0 329.6L927.2 326.9L930.5 324.2Z" stroke="#00ff66"/><path d="M922.0 309.1L922.0 286.9L922.0 282.9L921.8 279.0L921.6 275.0L921.4 271.1L921.0 267.1L920.6 263.2L920.0 259.3L919.5 255.5L918.8 251.6L918.0 247.9L917.2 244.1L916.3 240.4L915.4 236.7L914.3 233.1L913.2 229.5L912.0 226.0L910.8 222.6L909.4 219.2L908.0 215.9L906.6 212.6L905.1 209.4L903.5 206.3L901.8 203.3L900.1 200.4L898.4 197.5L896.5 194.8L894.7 192.1L892.7 189.5L890.8 187.0L888.7 184.7L886.7 182.4L884.6 180.2L882.4 178.1L880.2 176.2L878.0 174.3L875.7 172.6L873.4 170.9L871.0 169.4L868.7 168.0L866.3 166.7L863.8 165.5L861.4 164.5L858.9 163.6L856.5 162.8L854.0 162.1L851.4 161.5L848.9 161.1L846.4 160.8L843.9 160.6L841.3 160.5L838.6 160.6L835.9 160.7L833.3 160.9L830.6 161.1L827.9 161.5L825.3 161.9L822.7 162.4L820.2 162.9L817.6 163.6L815.2 164.3L812.7 165.0L810.4 165.8L808.1 166.7L805.8 167.7L803.6 168.7L801.5 169.8L799.5 171.0L797.5 172.2L795.7 173.4L793.9 174.7L792.2 176.1L790.6 177.5L789.1 178.9L787.7 180.4L786.4 181.9L785.2 183.5L784.1 185.0L783.1 186.7L782.3 188.3L781.5 190.0L780.9 191.6L780.3 193.3L779.9 195.1L779.6 196.8L779.5 198.5L779.4 200.2L779.4 414.2L779.4 415.8L779.5 417.3L779.7 418.8L780.0 420.1L780.3 421.3L780.7 422.4L781.2 423.4L781.7 424.3L782.3 425.1L782.9 425.7L783.7 426.3L784.4 426.7L785.3 427.1L786.2 427.3L787.1 427.5L788.1 427.5L789.2 427.4L790.3 427.2L791.5 426.9L792.7 426.4L794.0 425.9L795.3 425.3L796.7 424.5L798.1 423.7L799.5 422.7L801.0 421.6L802.6 420.4L804.2 419.1L805.8 417.7L807.5 416.2L810.7 413.2L813.8 410.2L817.0 407.3L820.2 404.3L823.4 401.3L826.6 398.3L829.7 395.4L832.9 392.4L836.1 389.4L839.3 386.4L842.5 383.5L845.6 380.5L848.8 377.5L852.0 374.5L855.2 371.6L858.4 368.6L861.6 365.6L864.7 362.6L867.9 359.7L871.1 356.7L874.3 353.7L877.5 350.7L880.6 347.8L883.8 344.8L887.0 341.8L890.2 338.8L893.4 335.8L896.5 332.9L899.7 329.9L902.9 326.9L906.1 323.9L909.3 321.0L912.4 318.0L915.6 315.0L918.8 312.0L922.0 309.1Z" stroke="#00ffff"/><path d="M911.5 298.8L911.5 294.8L911.4 290.8L911.2 286.9L910.9 282.9L910.6 279.0L910.2 275.1L909.7 271.2L909.2 267.4L908.5 263.6L907.8 259.8L907.1 256.0L906.2 252.3L905.3 248.6L904.4 245.0L903.3 241.5L902.2 238.0L901.0 234.5L899.8 231.2L898.5 227.8L897.1 224.6L895.7 221.4L894.2 218.3L892.7 215.3L891.1 212.4L889.5 209.5L887.8 206.8L886.0 204.1L884.2 201.5L882.4 199.1L880.5 196.7L878.5 194.4L876.6 192.2L874.5 190.2L872.5 188.2L870.4 186.3L868.3 184.6L866.1 183.0L863.9 181.5L861.7 180.1L859.5 178.8L857.2 177.6L854.9 176.6L852.6 175.6L850.3 174.8L848.0 174.1L845.7 173.6L843.3 173.2L840.9 172.8L838.6 172.7L836.2 172.6L833.6 172.6L831.0 172.7L828.5 172.9L825.9 173.2L823.4 173.5L820.9 173.9L818.4 174.4L815.9 174.9L813.5 175.5L811.2 176.2L808.8 176.9L806.6 177.7L804.4 178.5L802.2 179.5L800.1 180.4L798.1 181.5L796.2 182.6L794.3 183.7L792.5 184.9L790.8 186.2L789.2 187.4L787.7 188.8L786.2 190.2L784.9 191.6L783.6 193.0L782.5 194.5L781.5 196.0L780.5 197.6L779.7 199.1L779.0 200.7L778.4 202.3L777.8 204.0L777.5 205.6L777.2 207.2L777.0 208.9L776.9 210.6L776.9 407.6L777.0 409.3L777.1 410.8L777.2 412.3L777.5 413.7L777.7 415.0L778.1 416.1L778.5 417.2L778.9 418.1L779.4 419.0L780.0 419.7L780.6 420.3L781.3 420.8L782.0 421.3L782.8 421.6L783.6 421.8L784.5 421.8L785.4 421.8L786.4 421.7L787.4 421.5L788.5 421.1L789.6 420.7L790.7 420.1L791.9 419.4L793.1 418.7L794.4 417.8L795.7 416.8L797.0 415.7L798.4 414.5L799.8 413.1L801.2 411.7L804.3 408.6L807.4 405.4L810.4 402.3L813.5 399.1L816.6 396.0L819.6 392.9L822.7 389.7L825.7 386.6L828.8 383.5L831.9 380.3L834.9 377.2L838.0 374.0L841.1 370.9L844.1 367.8L847.2 364.6L850.2 361.5L853.3 358.4L856.4 355.2L859.4 352.1L862.5 349.0L865.6 345.8L868.6 342.7L871.7 339.5L874.8 336.4L877.8 333.3L880.9 330.1L883.9 327.0L887.0 323.9L890.1 320.7L893.1 317.6L896.2 314.4L899.3 311.3L902.3 308.2L905.4 305.0L908.5 301.9L911.5 298.8Z" stroke="#0066ff"/><path d="M900.4 290.2L900.3 286.9L900.2 283.5L900.1 280.2L899.8 276.9L899.5 273.5L899.2 270.3L898.7 267.0L898.2 263.7L897.6 260.5L897.0 257.3L896.3 254.2L895.5 251.0L894.7 247.9L893.8 244.9L892.8 241.9L891.8 238.9L890.7 236.0L889.6 233.2L888.4 230.4L887.1 227.6L885.8 225.0L884.5 222.4L883.1 219.8L881.6 217.4L880.1 215.0L878.5 212.6L876.9 210.4L875.3 208.2L873.6 206.1L871.8 204.1L870.0 202.2L868.2 200.4L866.4 198.6L864.5 196.9L862.5 195.4L860.6 193.9L858.6 192.5L856.6 191.3L854.6 190.1L852.5 189.0L850.4 188.0L848.3 187.1L846.2 186.3L844.1 185.7L841.9 185.1L839.8 184.6L837.6 184.3L835.4 184.0L833.3 183.8L831.1 183.8L828.6 183.8L826.2 183.9L823.7 184.1L821.3 184.4L818.9 184.7L816.5 185.1L814.1 185.5L811.8 186.0L809.5 186.6L807.3 187.3L805.1 188.0L802.9 188.8L800.8 189.6L798.8 190.5L796.8 191.5L794.9 192.5L793.0 193.6L791.2 194.7L789.5 195.9L787.9 197.1L786.4 198.4L784.9 199.7L783.5 201.0L782.3 202.4L781.1 203.9L780.0 205.3L779.0 206.8L778.1 208.3L777.3 209.9L776.6 211.4L776.1 213.0L775.6 214.6L775.2 216.2L774.9 217.8L774.8 219.5L774.7 221.1L774.7 401.0L774.7 402.8L774.8 404.4L775.0 406.0L775.2 407.4L775.4 408.7L775.8 410.0L776.1 411.1L776.5 412.1L777.0 413.0L777.5 413.8L778.1 414.4L778.7 415.0L779.4 415.5L780.1 415.8L780.8 416.1L781.6 416.2L782.5 416.2L783.4 416.1L784.3 415.9L785.3 415.6L786.3 415.2L787.3 414.6L788.4 414.0L789.5 413.2L790.7 412.3L791.9 411.3L793.1 410.2L794.4 409.0L795.7 407.7L797.0 406.2L799.9 403.0L802.7 399.8L805.6 396.6L808.5 393.4L811.4 390.1L814.2 386.9L817.1 383.7L820.0 380.5L822.8 377.2L825.7 374.0L828.6 370.8L831.5 367.6L834.3 364.3L837.2 361.1L840.1 357.9L842.9 354.7L845.8 351.4L848.7 348.2L851.6 345.0L854.4 341.8L857.3 338.6L860.2 335.3L863.0 332.1L865.9 328.9L868.8 325.7L871.7 322.4L874.5 319.2L877.4 316.0L880.3 312.8L883.1 309.5L886.0 306.3L888.9 303.1L891.8 299.9L894.6 296.6L897.5 293.4L900.4 290.2Z" stroke="#3300ff"/><path d="M890.6 283.0L890.5 280.1L890.5 277.3L890.3 274.5L890.1 271.7L889.8 269.0L889.5 266.2L889.1 263.4L888.6 260.7L888.1 258.0L887.5 255.3L886.9 252.6L886.2 250.0L885.4 247.4L884.6 244.8L883.7 242.3L882.8 239.8L881.8 237.4L880.8 235.0L879.7 232.6L878.6 230.3L877.4 228.1L876.2 225.9L874.9 223.8L873.5 221.7L872.2 219.7L870.8 217.7L869.3 215.8L867.8 214.0L866.3 212.2L864.7 210.5L863.1 208.9L861.4 207.4L859.7 205.9L858.0 204.5L856.3 203.2L854.5 202.0L852.7 200.8L850.9 199.7L849.0 198.7L847.2 197.8L845.3 197.0L843.4 196.3L841.5 195.6L839.5 195.0L837.6 194.5L835.6 194.1L833.7 193.8L831.7 193.6L829.7 193.5L827.7 193.4L825.3 193.5L822.9 193.6L820.5 193.8L818.2 194.0L815.8 194.3L813.5 194.7L811.2 195.1L808.9 195.6L806.6 196.2L804.4 196.9L802.3 197.6L800.2 198.3L798.1 199.1L796.1 200.0L794.2 201.0L792.3 202.0L790.5 203.0L788.8 204.1L787.1 205.3L785.5 206.4L784.0 207.7L782.6 209.0L781.2 210.3L780.0 211.6L778.8 213.0L777.8 214.5L776.8 215.9L775.9 217.4L775.2 218.9L774.5 220.4L773.9 222.0L773.4 223.5L773.1 225.1L772.8 226.7L772.7 228.3L772.6 229.9L772.6 394.4L772.6 396.2L772.7 398.0L772.8 399.6L773.0 401.1L773.3 402.5L773.5 403.8L773.9 405.0L774.2 406.1L774.6 407.0L775.1 407.9L775.6 408.7L776.2 409.3L776.8 409.8L777.4 410.2L778.1 410.6L778.8 410.8L779.6 410.8L780.4 410.8L781.2 410.7L782.1 410.4L783.0 410.1L783.9 409.6L784.9 409.0L785.9 408.3L786.9 407.5L788.0 406.6L789.1 405.5L790.2 404.4L791.4 403.1L792.5 401.7L795.3 398.4L798.0 395.1L800.7 391.8L803.4 388.5L806.2 385.2L808.9 381.9L811.6 378.6L814.3 375.3L817.1 372.0L819.8 368.7L822.5 365.4L825.2 362.1L827.9 358.8L830.7 355.5L833.4 352.2L836.1 348.9L838.8 345.6L841.6 342.3L844.3 339.0L847.0 335.7L849.7 332.4L852.5 329.1L855.2 325.8L857.9 322.5L860.6 319.2L863.3 315.9L866.1 312.6L868.8 309.3L871.5 306.0L874.2 302.7L877.0 299.4L879.7 296.1L882.4 292.8L885.1 289.6L887.9 286.3L890.6 283.0Z" stroke="#cc00ff"/><path d="M881.2 276.4L881.2 274.0L881.1 271.6L881.0 269.3L880.8 266.9L880.5 264.6L880.2 262.2L879.8 259.9L879.4 257.6L878.9 255.3L878.4 253.1L877.8 250.8L877.2 248.6L876.5 246.4L875.7 244.2L875.0 242.1L874.1 240.0L873.2 238.0L872.3 235.9L871.3 234.0L870.2 232.0L869.2 230.1L868.0 228.3L866.9 226.5L865.6 224.7L864.4 223.0L863.1 221.4L861.8 219.8L860.4 218.2L859.0 216.7L857.5 215.3L856.0 214.0L854.5 212.6L853.0 211.4L851.4 210.2L849.8 209.1L848.2 208.1L846.6 207.1L844.9 206.2L843.2 205.4L841.5 204.6L839.8 203.9L838.0 203.3L836.3 202.7L834.5 202.2L832.7 201.8L830.9 201.5L829.1 201.2L827.3 201.0L825.5 200.9L823.7 200.9L821.4 200.9L819.1 201.0L816.8 201.2L814.5 201.5L812.2 201.8L809.9 202.2L807.7 202.6L805.4 203.1L803.3 203.7L801.1 204.4L799.0 205.1L797.0 205.9L795.0 206.7L793.1 207.6L791.2 208.6L789.4 209.6L787.6 210.6L785.9 211.8L784.3 212.9L782.8 214.1L781.3 215.4L779.9 216.7L778.6 218.1L777.4 219.4L776.3 220.9L775.3 222.3L774.3 223.8L773.5 225.3L772.7 226.8L772.1 228.4L771.5 230.0L771.1 231.5L770.7 233.1L770.5 234.7L770.3 236.4L770.3 238.0L770.3 385.6L770.3 387.9L770.4 390.0L770.5 392.0L770.7 393.8L770.9 395.6L771.2 397.2L771.5 398.7L771.9 400.0L772.3 401.3L772.8 402.4L773.3 403.4L773.9 404.2L774.5 405.0L775.1 405.6L775.8 406.0L776.5 406.4L777.3 406.6L778.1 406.7L778.9 406.6L779.8 406.4L780.7 406.1L781.6 405.7L782.6 405.1L783.6 404.4L784.7 403.5L785.7 402.5L786.8 401.4L788.0 400.1L789.1 398.7L790.3 397.2L792.8 393.9L795.4 390.5L797.9 387.1L800.4 383.8L802.9 380.4L805.5 377.1L808.0 373.7L810.5 370.4L813.0 367.0L815.6 363.7L818.1 360.3L820.6 356.9L823.1 353.6L825.7 350.2L828.2 346.9L830.7 343.5L833.2 340.2L835.8 336.8L838.3 333.4L840.8 330.1L843.3 326.7L845.9 323.4L848.4 320.0L850.9 316.7L853.4 313.3L856.0 309.9L858.5 306.6L861.0 303.2L863.5 299.9L866.1 296.5L868.6 293.2L871.1 289.8L873.6 286.4L876.2 283.1L878.7 279.7L881.2 276.4Z" stroke="#ff0099"/></g>
<g fill="none" stroke-width="2.7" stroke-linejoin="round" stroke-linecap="round"><path d="M1653.6 417.6L1653.6 240.9L1653.5 235.0L1653.4 229.1L1653.1 223.2L1652.8 217.3L1652.3 211.4L1651.8 205.6L1651.1 199.8L1650.4 194.1L1649.5 188.3L1648.6 182.7L1647.5 177.1L1646.4 171.6L1645.2 166.1L1643.9 160.7L1642.5 155.4L1641.0 150.2L1639.4 145.0L1637.7 140.0L1635.9 135.0L1634.1 130.2L1632.2 125.5L1630.2 120.9L1628.1 116.4L1625.9 112.0L1623.7 107.7L1621.4 103.6L1619.0 99.6L1616.6 95.8L1614.1 92.1L1611.5 88.5L1608.9 85.1L1606.2 81.9L1603.5 78.8L1600.7 75.9L1597.9 73.1L1595.0 70.5L1592.1 68.1L1589.1 65.8L1586.1 63.7L1583.1 61.8L1580.0 60.1L1576.9 58.5L1573.8 57.1L1570.6 55.9L1567.5 54.9L1564.3 54.1L1561.1 53.4L1557.9 53.0L1554.7 52.7L1551.5 52.6L1549.0 52.7L1546.1 52.9L1543.1 53.2L1539.9 53.7L1536.7 54.3L1533.4 55.1L1530.1 55.9L1526.8 57.0L1523.5 58.1L1520.3 59.4L1517.1 60.7L1513.9 62.2L1510.7 63.9L1507.7 65.6L1504.7 67.4L1501.7 69.4L1498.9 71.4L1496.2 73.5L1493.5 75.7L1491.0 78.0L1488.6 80.3L1486.4 82.7L1484.2 85.2L1482.2 87.7L1480.3 90.3L1478.6 92.9L1477.0 95.5L1475.6 98.1L1474.4 100.8L1473.3 103.4L1472.3 106.0L1471.6 108.6L1471.0 111.2L1470.5 113.6L1470.3 116.0L1470.2 118.0L1470.2 418.6L1470.3 422.5L1470.5 426.2L1471.0 429.7L1471.6 433.1L1472.3 436.3L1473.2 439.3L1474.3 442.2L1475.5 444.9L1476.9 447.5L1478.5 449.9L1480.1 452.1L1482.0 454.1L1483.9 456.0L1486.0 457.7L1488.3 459.2L1490.6 460.5L1493.1 461.7L1495.7 462.6L1498.5 463.4L1501.3 464.0L1504.3 464.4L1507.4 464.6L1510.6 464.7L1513.9 464.5L1517.4 464.1L1520.9 463.6L1524.5 462.8L1528.2 461.8L1532.0 460.7L1535.9 459.3L1539.2 458.1L1542.5 456.9L1545.7 455.7L1549.0 454.4L1552.3 453.2L1555.5 452.0L1558.8 450.8L1562.1 449.6L1565.3 448.5L1568.6 447.3L1571.9 446.1L1575.1 444.9L1578.4 443.7L1581.7 442.5L1584.9 441.4L1588.2 440.2L1591.5 439.0L1594.7 437.9L1598.0 436.7L1601.3 435.6L1604.6 434.4L1607.8 433.3L1611.1 432.1L1614.4 431.0L1617.6 429.9L1620.9 428.7L1624.2 427.6L1627.4 426.5L1630.7 425.3L1634.0 424.2L1637.2 423.1L1640.5 422.0L1643.8 420.9L1647.0 419.8L1650.3 418.7L1653.6 417.6Z" stroke="#000000"/><path d="M1644.0 396.5L1644.0 278.2L1643.9 272.5L1643.8 266.8L1643.5 261.1L1643.2 255.4L1642.8 249.7L1642.2 244.1L1641.6 238.5L1640.8 232.9L1640.0 227.4L1639.1 222.0L1638.0 216.6L1636.9 211.2L1635.7 205.9L1634.4 200.7L1633.0 195.6L1631.5 190.5L1629.9 185.6L1628.3 180.7L1626.5 175.9L1624.7 171.3L1622.8 166.7L1620.8 162.2L1618.8 157.9L1616.6 153.6L1614.4 149.5L1612.2 145.6L1609.8 141.7L1607.4 138.0L1604.9 134.4L1602.4 131.0L1599.8 127.7L1597.1 124.6L1594.4 121.6L1591.7 118.8L1588.9 116.1L1586.0 113.6L1583.1 111.2L1580.2 109.0L1577.2 107.0L1574.2 105.2L1571.2 103.5L1568.2 102.0L1565.1 100.6L1562.0 99.5L1558.8 98.5L1555.7 97.7L1552.6 97.1L1549.4 96.6L1546.2 96.3L1543.1 96.3L1540.0 96.3L1537.0 96.4L1533.9 96.6L1530.9 96.9L1528.0 97.2L1525.0 97.6L1522.1 98.1L1519.2 98.7L1516.4 99.3L1513.6 100.0L1510.8 100.8L1508.2 101.7L1505.6 102.6L1503.0 103.6L1500.6 104.6L1498.2 105.7L1495.9 106.9L1493.7 108.1L1491.6 109.4L1489.6 110.7L1487.7 112.1L1485.9 113.5L1484.2 114.9L1482.6 116.4L1481.2 118.0L1479.8 119.6L1478.6 121.2L1477.5 122.8L1476.5 124.5L1475.7 126.2L1475.0 127.9L1474.4 129.6L1473.9 131.4L1473.6 133.1L1473.4 134.9L1473.3 136.6L1473.3 412.9L1473.4 416.1L1473.5 419.2L1473.7 422.1L1474.1 424.9L1474.5 427.6L1475.0 430.2L1475.7 432.6L1476.4 434.9L1477.2 437.0L1478.1 439.1L1479.0 440.9L1480.1 442.7L1481.3 444.3L1482.5 445.8L1483.8 447.1L1485.2 448.3L1486.7 449.4L1488.2 450.3L1489.8 451.0L1491.5 451.6L1493.3 452.1L1495.2 452.4L1497.1 452.6L1499.1 452.6L1501.2 452.5L1503.3 452.2L1505.5 451.8L1507.8 451.2L1510.1 450.5L1512.5 449.6L1516.2 448.1L1519.8 446.6L1523.5 445.1L1527.1 443.7L1530.8 442.2L1534.4 440.7L1538.1 439.2L1541.7 437.8L1545.4 436.3L1549.0 434.8L1552.7 433.3L1556.3 431.9L1560.0 430.4L1563.7 428.9L1567.3 427.4L1571.0 426.0L1574.6 424.5L1578.3 423.0L1581.9 421.5L1585.6 420.1L1589.2 418.6L1592.9 417.1L1596.5 415.6L1600.2 414.2L1603.8 412.7L1607.5 411.2L1611.1 409.7L1614.8 408.3L1618.4 406.8L1622.1 405.3L1625.7 403.8L1629.4 402.4L1633.0 400.9L1636.7 399.4L1640.3 397.9L1644.0 396.5Z" stroke="#ff0000"/><path d="M1637.8 373.9L1637.8 297.9L1637.7 292.8L1637.6 287.6L1637.3 282.4L1637.0 277.3L1636.6 272.2L1636.1 267.1L1635.5 262.0L1634.8 257.0L1634.0 252.0L1633.1 247.1L1632.2 242.2L1631.1 237.3L1630.0 232.6L1628.7 227.9L1627.4 223.2L1626.0 218.6L1624.6 214.2L1623.0 209.7L1621.4 205.4L1619.7 201.2L1617.9 197.1L1616.0 193.0L1614.1 189.1L1612.1 185.3L1610.0 181.6L1607.9 178.0L1605.7 174.5L1603.4 171.1L1601.1 167.9L1598.7 164.8L1596.3 161.8L1593.8 159.0L1591.3 156.3L1588.7 153.7L1586.0 151.3L1583.4 149.0L1580.7 146.9L1577.9 144.9L1575.1 143.1L1572.3 141.4L1569.5 139.9L1566.6 138.5L1563.7 137.3L1560.8 136.3L1557.9 135.4L1554.9 134.6L1552.0 134.1L1549.0 133.7L1546.0 133.4L1543.1 133.3L1540.2 133.4L1537.3 133.5L1534.5 133.7L1531.6 133.9L1528.8 134.3L1526.0 134.7L1523.3 135.2L1520.6 135.7L1517.9 136.4L1515.3 137.0L1512.7 137.8L1510.2 138.6L1507.7 139.5L1505.3 140.5L1503.0 141.5L1500.8 142.6L1498.6 143.7L1496.6 144.9L1494.6 146.2L1492.7 147.5L1490.9 148.8L1489.2 150.2L1487.6 151.6L1486.1 153.1L1484.7 154.6L1483.5 156.2L1482.3 157.7L1481.3 159.3L1480.4 161.0L1479.6 162.6L1478.9 164.3L1478.3 166.0L1477.9 167.7L1477.6 169.4L1477.4 171.1L1477.3 172.8L1477.3 398.9L1477.4 402.2L1477.5 405.5L1477.7 408.5L1478.0 411.5L1478.4 414.3L1478.9 417.0L1479.5 419.5L1480.2 421.9L1480.9 424.1L1481.8 426.2L1482.7 428.2L1483.7 430.0L1484.7 431.6L1485.9 433.1L1487.1 434.5L1488.4 435.7L1489.8 436.7L1491.2 437.6L1492.7 438.3L1494.3 438.9L1496.0 439.3L1497.7 439.6L1499.5 439.7L1501.4 439.6L1503.3 439.4L1505.3 439.0L1507.3 438.5L1509.4 437.8L1511.6 436.9L1513.9 435.8L1517.3 434.1L1520.7 432.4L1524.2 430.7L1527.6 429.0L1531.1 427.2L1534.5 425.5L1538.0 423.8L1541.4 422.1L1544.8 420.4L1548.3 418.6L1551.7 416.9L1555.2 415.2L1558.6 413.5L1562.0 411.7L1565.5 410.0L1568.9 408.3L1572.4 406.6L1575.8 404.9L1579.2 403.1L1582.7 401.4L1586.1 399.7L1589.6 398.0L1593.0 396.2L1596.5 394.5L1599.9 392.8L1603.3 391.1L1606.8 389.4L1610.2 387.6L1613.7 385.9L1617.1 384.2L1620.5 382.5L1624.0 380.8L1627.4 379.0L1630.9 377.3L1634.3 375.6L1637.8 373.9Z" stroke="#ff9900"/><path d="M1632.9 350.4L1632.9 317.7L1632.8 313.0L1632.7 308.2L1632.4 303.5L1632.1 298.8L1631.7 294.2L1631.2 289.5L1630.6 284.9L1629.9 280.3L1629.2 275.7L1628.3 271.2L1627.4 266.8L1626.3 262.3L1625.2 258.0L1624.0 253.7L1622.7 249.4L1621.4 245.3L1619.9 241.2L1618.4 237.1L1616.8 233.2L1615.1 229.3L1613.4 225.6L1611.5 221.9L1609.6 218.3L1607.7 214.8L1605.6 211.4L1603.5 208.1L1601.4 204.9L1599.2 201.9L1596.9 198.9L1594.6 196.1L1592.2 193.4L1589.7 190.8L1587.2 188.3L1584.7 186.0L1582.1 183.7L1579.5 181.7L1576.8 179.7L1574.1 177.9L1571.4 176.2L1568.6 174.7L1565.9 173.3L1563.0 172.1L1560.2 171.0L1557.3 170.0L1554.5 169.2L1551.6 168.5L1548.7 168.0L1545.8 167.7L1542.8 167.4L1539.9 167.4L1537.4 167.4L1534.8 167.5L1532.3 167.6L1529.8 167.8L1527.3 168.1L1524.8 168.4L1522.4 168.8L1520.0 169.2L1517.6 169.7L1515.3 170.2L1513.0 170.8L1510.7 171.5L1508.6 172.2L1506.4 172.9L1504.4 173.7L1502.4 174.5L1500.5 175.4L1498.6 176.4L1496.9 177.3L1495.2 178.3L1493.6 179.4L1492.1 180.5L1490.7 181.6L1489.4 182.7L1488.1 183.9L1487.0 185.1L1486.0 186.3L1485.1 187.6L1484.2 188.8L1483.5 190.1L1482.9 191.4L1482.4 192.7L1482.0 194.1L1481.8 195.4L1481.6 196.7L1481.5 198.1L1481.5 391.6L1481.6 394.6L1481.7 397.4L1481.9 400.1L1482.2 402.7L1482.6 405.1L1483.0 407.4L1483.6 409.6L1484.2 411.6L1484.9 413.5L1485.6 415.3L1486.5 416.9L1487.4 418.4L1488.4 419.7L1489.4 420.9L1490.5 422.0L1491.7 422.9L1493.0 423.7L1494.3 424.3L1495.7 424.8L1497.2 425.2L1498.7 425.3L1500.3 425.4L1502.0 425.3L1503.7 425.0L1505.5 424.6L1507.3 424.1L1509.2 423.4L1511.1 422.5L1513.1 421.5L1515.2 420.4L1518.5 418.4L1521.7 416.5L1525.0 414.5L1528.3 412.6L1531.5 410.6L1534.8 408.7L1538.1 406.8L1541.3 404.8L1544.6 402.9L1547.9 400.9L1551.1 399.0L1554.4 397.0L1557.7 395.1L1561.0 393.2L1564.2 391.2L1567.5 389.3L1570.8 387.3L1574.0 385.4L1577.3 383.4L1580.6 381.5L1583.8 379.5L1587.1 377.6L1590.4 375.7L1593.6 373.7L1596.9 371.8L1600.2 369.8L1603.4 367.9L1606.7 365.9L1610.0 364.0L1613.2 362.0L1616.5 360.1L1619.8 358.2L1623.1 356.2L1626.3 354.3L1629.6 352.3L1632.9 350.4Z" stroke="#ccff00"/><path d="M1629.3 326.7L1629.3 307.8L1629.2 304.4L1629.1 301.0L1628.9 297.5L1628.6 294.1L1628.2 290.7L1627.7 287.4L1627.1 284.0L1626.5 280.7L1625.7 277.4L1624.9 274.1L1624.0 270.9L1623.0 267.7L1621.9 264.5L1620.8 261.4L1619.6 258.3L1618.2 255.3L1616.8 252.3L1615.4 249.4L1613.8 246.5L1612.2 243.7L1610.5 241.0L1608.8 238.3L1607.0 235.7L1605.1 233.1L1603.1 230.7L1601.1 228.3L1599.0 226.0L1596.9 223.8L1594.7 221.6L1592.5 219.6L1590.2 217.6L1587.8 215.7L1585.4 213.9L1583.0 212.2L1580.5 210.6L1578.0 209.1L1575.4 207.7L1572.8 206.4L1570.2 205.2L1567.5 204.1L1564.9 203.1L1562.2 202.2L1559.4 201.4L1556.7 200.7L1553.9 200.1L1551.1 199.6L1548.3 199.2L1545.5 199.0L1542.7 198.8L1539.9 198.7L1537.7 198.8L1535.5 198.9L1533.2 199.0L1531.0 199.2L1528.8 199.4L1526.7 199.7L1524.5 200.1L1522.4 200.5L1520.3 200.9L1518.3 201.5L1516.3 202.0L1514.3 202.6L1512.4 203.3L1510.5 204.0L1508.7 204.7L1507.0 205.5L1505.3 206.4L1503.7 207.2L1502.1 208.1L1500.7 209.1L1499.3 210.1L1497.9 211.1L1496.7 212.1L1495.5 213.2L1494.5 214.3L1493.5 215.5L1492.6 216.6L1491.8 217.8L1491.1 219.0L1490.4 220.2L1489.9 221.4L1489.5 222.7L1489.1 223.9L1488.9 225.2L1488.7 226.4L1488.7 227.7L1488.7 377.6L1488.7 380.4L1488.8 383.1L1489.0 385.6L1489.2 388.1L1489.5 390.4L1489.9 392.5L1490.4 394.6L1490.9 396.5L1491.4 398.3L1492.1 399.9L1492.8 401.5L1493.5 402.9L1494.3 404.1L1495.2 405.3L1496.1 406.3L1497.1 407.1L1498.2 407.8L1499.3 408.4L1500.4 408.9L1501.6 409.2L1502.9 409.4L1504.2 409.4L1505.6 409.3L1507.0 409.0L1508.5 408.7L1510.0 408.1L1511.6 407.4L1513.2 406.6L1514.8 405.6L1516.5 404.5L1519.7 402.4L1522.8 400.2L1525.9 398.0L1529.1 395.9L1532.2 393.7L1535.3 391.5L1538.5 389.4L1541.6 387.2L1544.7 385.1L1547.9 382.9L1551.0 380.7L1554.1 378.6L1557.3 376.4L1560.4 374.3L1563.5 372.1L1566.6 369.9L1569.8 367.8L1572.9 365.6L1576.0 363.4L1579.2 361.3L1582.3 359.1L1585.4 357.0L1588.6 354.8L1591.7 352.6L1594.8 350.5L1598.0 348.3L1601.1 346.1L1604.2 344.0L1607.4 341.8L1610.5 339.7L1613.6 337.5L1616.8 335.3L1619.9 333.2L1623.0 331.0L1626.2 328.8L1629.3 326.7Z" stroke="#33ff00"/><path d="M1624.4 304.1L1624.3 301.9L1624.2 299.7L1624.0 297.5L1623.7 295.3L1623.3 293.2L1622.9 291.0L1622.4 288.9L1621.7 286.7L1621.0 284.6L1620.3 282.5L1619.4 280.4L1618.5 278.4L1617.4 276.4L1616.3 274.4L1615.2 272.4L1613.9 270.5L1612.6 268.6L1611.2 266.7L1609.8 264.9L1608.3 263.1L1606.7 261.3L1605.0 259.6L1603.3 257.9L1601.5 256.3L1599.7 254.7L1597.7 253.2L1595.8 251.7L1593.8 250.3L1591.7 248.9L1589.6 247.6L1587.4 246.4L1585.2 245.2L1582.9 244.0L1580.6 242.9L1578.3 241.9L1575.9 240.9L1573.5 240.0L1571.0 239.2L1568.5 238.4L1566.0 237.7L1563.5 237.1L1560.9 236.5L1558.4 236.0L1555.8 235.5L1553.1 235.2L1550.5 234.8L1547.9 234.6L1545.2 234.4L1542.6 234.3L1539.9 234.3L1538.1 234.3L1536.2 234.4L1534.3 234.4L1532.5 234.6L1530.7 234.7L1528.9 234.9L1527.1 235.1L1525.3 235.4L1523.6 235.7L1521.8 236.0L1520.2 236.3L1518.5 236.7L1516.9 237.1L1515.4 237.5L1513.9 238.0L1512.4 238.5L1511.0 239.0L1509.7 239.6L1508.4 240.1L1507.2 240.7L1506.0 241.3L1504.9 242.0L1503.8 242.6L1502.9 243.3L1502.0 244.0L1501.2 244.7L1500.4 245.4L1499.7 246.1L1499.1 246.9L1498.6 247.6L1498.2 248.4L1497.8 249.2L1497.5 249.9L1497.3 250.7L1497.2 251.5L1497.1 252.3L1497.1 363.6L1497.2 366.1L1497.3 368.6L1497.4 370.9L1497.6 373.2L1497.9 375.3L1498.3 377.2L1498.7 379.1L1499.1 380.8L1499.6 382.4L1500.2 383.9L1500.8 385.3L1501.5 386.5L1502.2 387.6L1503.0 388.5L1503.9 389.4L1504.8 390.1L1505.7 390.7L1506.7 391.1L1507.8 391.4L1508.9 391.6L1510.0 391.7L1511.2 391.6L1512.4 391.4L1513.7 391.0L1515.0 390.5L1516.4 389.9L1517.8 389.1L1519.3 388.2L1520.8 387.2L1522.3 386.0L1525.2 383.7L1528.0 381.4L1530.8 379.2L1533.7 376.9L1536.5 374.6L1539.3 372.3L1542.2 370.1L1545.0 367.8L1547.8 365.5L1550.7 363.2L1553.5 361.0L1556.3 358.7L1559.2 356.4L1562.0 354.1L1564.9 351.9L1567.7 349.6L1570.5 347.3L1573.4 345.0L1576.2 342.8L1579.0 340.5L1581.9 338.2L1584.7 335.9L1587.5 333.7L1590.4 331.4L1593.2 329.1L1596.0 326.8L1598.9 324.6L1601.7 322.3L1604.5 320.0L1607.4 317.7L1610.2 315.5L1613.0 313.2L1615.9 310.9L1618.7 308.6L1621.6 306.4L1624.4 304.1Z" stroke="#00ff66"/><path d="M1615.5 287.4L1615.4 287.0L1615.3 286.4L1615.2 285.8L1614.9 285.2L1614.6 284.5L1614.2 283.8L1613.7 283.1L1613.2 282.4L1612.6 281.7L1611.9 281.0L1611.2 280.2L1610.4 279.5L1609.5 278.7L1608.6 278.0L1607.6 277.3L1606.6 276.5L1605.5 275.8L1604.3 275.1L1603.1 274.4L1601.9 273.7L1600.5 273.0L1599.2 272.3L1597.8 271.6L1596.3 271.0L1594.8 270.3L1593.3 269.7L1591.7 269.1L1590.1 268.5L1588.4 267.9L1586.8 267.4L1585.1 266.9L1583.4 266.4L1581.6 265.9L1579.9 265.4L1578.1 265.0L1576.4 264.6L1574.6 264.2L1572.8 263.8L1571.0 263.5L1569.3 263.2L1567.5 262.9L1565.8 262.7L1564.0 262.5L1562.4 262.3L1560.7 262.1L1559.1 262.0L1557.6 261.9L1556.1 261.8L1554.8 261.7L1553.7 261.7L1551.8 261.7L1549.9 261.8L1548.0 261.9L1546.2 262.1L1544.3 262.3L1542.4 262.5L1540.6 262.8L1538.8 263.1L1537.0 263.4L1535.3 263.8L1533.6 264.3L1531.9 264.8L1530.3 265.3L1528.7 265.8L1527.2 266.4L1525.7 267.0L1524.2 267.7L1522.9 268.3L1521.5 269.1L1520.3 269.8L1519.1 270.6L1518.0 271.4L1516.9 272.2L1515.9 273.0L1515.0 273.9L1514.2 274.8L1513.4 275.7L1512.7 276.6L1512.1 277.5L1511.6 278.5L1511.1 279.4L1510.7 280.4L1510.4 281.4L1510.2 282.4L1510.1 283.3L1510.1 284.3L1510.1 349.5L1510.1 351.6L1510.2 353.5L1510.3 355.4L1510.5 357.1L1510.7 358.8L1511.0 360.3L1511.3 361.7L1511.7 363.1L1512.1 364.3L1512.6 365.4L1513.1 366.4L1513.7 367.3L1514.3 368.1L1514.9 368.8L1515.6 369.4L1516.4 369.8L1517.1 370.2L1517.9 370.4L1518.8 370.6L1519.7 370.6L1520.7 370.5L1521.6 370.3L1522.6 370.0L1523.7 369.6L1524.8 369.0L1525.9 368.4L1527.1 367.6L1528.3 366.7L1529.5 365.7L1530.8 364.6L1533.1 362.5L1535.5 360.3L1537.9 358.2L1540.2 356.0L1542.6 353.9L1544.9 351.8L1547.3 349.6L1549.6 347.5L1552.0 345.3L1554.3 343.2L1556.7 341.0L1559.0 338.9L1561.4 336.7L1563.7 334.6L1566.1 332.4L1568.4 330.3L1570.8 328.2L1573.1 326.0L1575.5 323.9L1577.8 321.7L1580.2 319.6L1582.5 317.4L1584.9 315.3L1587.2 313.1L1589.6 311.0L1592.0 308.9L1594.3 306.7L1596.7 304.6L1599.0 302.4L1601.4 300.3L1603.7 298.1L1606.1 296.0L1608.4 293.8L1610.8 291.7L1613.1 289.5L1615.5 287.4Z" stroke="#00ffff"/><path d="M1606.8 272.5L1606.7 272.8L1606.1 273.6L1605.2 274.6L1604.1 275.9L1602.8 277.4L1601.3 279.0L1599.8 280.7L1598.4 282.3L1595.6 285.5L1592.3 289.2L1588.6 293.3L1584.7 297.7L1580.6 302.2L1576.6 306.6L1572.6 310.9L1568.9 314.8L1565.7 318.2L1562.4 321.6L1559.1 325.0L1555.8 328.3L1552.6 331.5L1549.6 334.5L1546.8 337.1L1544.3 339.4L1543.0 340.6L1541.8 341.8L1540.6 342.9L1539.5 344.0L1538.4 344.9L1537.4 345.6L1536.4 346.1L1535.4 346.3L1534.7 346.3L1534.0 346.1L1533.3 345.8L1532.7 345.5L1532.0 345.0L1531.5 344.5L1530.9 343.9L1530.5 343.3L1530.0 342.4L1529.7 341.3L1529.4 340.2L1529.3 338.9L1529.2 337.6L1529.1 336.2L1529.1 334.8L1529.0 333.5L1528.9 332.0L1528.9 330.4L1528.9 328.7L1528.9 327.0L1529.0 325.4L1529.1 323.8L1529.3 322.2L1529.5 320.7L1529.7 319.5L1530.0 318.3L1530.3 317.1L1530.6 316.0L1531.0 314.8L1531.4 313.8L1531.9 312.8L1532.5 311.9L1533.2 311.1L1533.9 310.4L1534.7 309.8L1535.6 309.2L1536.5 308.7L1537.5 308.1L1538.5 307.5L1539.4 306.9L1540.5 306.1L1541.7 305.3L1542.8 304.4L1544.0 303.5L1545.3 302.7L1546.5 301.8L1547.9 300.9L1549.2 300.0L1550.9 298.9L1552.7 297.8L1554.5 296.6L1556.4 295.5L1558.3 294.3L1560.2 293.2L1562.1 292.2L1564.0 291.2L1565.8 290.3L1567.6 289.5L1569.5 288.7L1571.3 288.0L1573.1 287.3L1575.0 286.6L1576.8 285.9L1578.7 285.3L1580.6 284.7L1582.5 284.2L1584.5 283.8L1586.4 283.3L1588.3 282.9L1590.2 282.4L1591.9 281.9L1593.5 281.3L1594.7 280.8L1595.7 280.2L1596.8 279.6L1597.8 278.9L1598.7 278.3L1599.6 277.6L1600.5 277.0L1601.4 276.4L1602.2 275.8L1603.1 275.2L1603.9 274.5L1604.8 273.9L1605.5 273.3L1606.1 272.8L1606.6 272.5Z" stroke="#0066ff"/><path d="M1536.9 331.5L1595 263.1" stroke="#3300ff"/><path d="M1525.1 330.1L1580.7 259.2" stroke="#cc00ff"/><path d="M1514.8 329.6L1567.9 256.2" stroke="#ff0099"/></g>
<g fill="none" stroke-width="2.7" stroke-linejoin="round" stroke-linecap="round"><path d="M564.0 1006.6L564.0 825.7L563.9 824.2L563.5 822.0L562.8 819.4L561.8 816.6L560.6 813.7L559.1 810.7L557.3 807.6L555.2 804.5L552.9 801.3L550.3 798.1L547.4 794.8L544.2 791.6L540.8 788.3L537.1 785.0L533.1 781.7L528.9 778.3L524.4 775.0L519.6 771.6L514.5 768.2L509.1 764.7L503.5 761.3L497.6 757.7L491.4 754.2L485.0 750.5L478.3 746.9L471.3 743.1L464.0 739.3L456.5 735.4L448.6 731.5L440.5 727.4L432.2 723.3L423.5 719.2L414.6 714.9L405.4 710.6L396.0 706.2L386.2 701.8L376.2 697.4L365.9 692.9L355.3 688.5L344.5 684.1L333.4 679.7L322.0 675.4L310.4 671.3L298.4 667.4L286.2 663.7L273.7 660.3L261.0 657.4L247.9 654.9L234.6 653.2L221.0 652.4L219.3 652.4L217.6 652.4L215.9 652.5L214.2 652.5L212.5 652.6L210.8 652.7L209.2 652.9L207.6 653.0L205.9 653.2L204.4 653.4L202.8 653.6L201.3 653.8L199.9 654.1L198.4 654.4L197.0 654.6L195.7 654.9L194.4 655.3L193.2 655.6L192.0 655.9L190.8 656.3L189.7 656.7L188.7 657.0L187.8 657.4L186.9 657.9L186.1 658.3L185.3 658.7L184.6 659.1L184.0 659.6L183.4 660.0L182.9 660.5L182.5 661.0L182.2 661.4L181.9 661.9L181.7 662.4L181.6 662.9L181.6 663.3L181.6 1003.8L181.6 1004.5L181.8 1005.2L182.0 1005.8L182.3 1006.5L182.7 1007.1L183.2 1007.8L183.8 1008.4L184.4 1009.0L185.1 1009.6L185.9 1010.1L186.8 1010.6L187.7 1011.1L188.7 1011.6L189.8 1012.0L190.9 1012.4L192.0 1012.8L193.2 1013.1L194.5 1013.4L195.8 1013.6L197.1 1013.8L198.4 1014.0L199.8 1014.1L201.1 1014.1L202.5 1014.1L212.5 1014.1L222.6 1014.1L232.6 1014.1L242.7 1014.1L252.7 1014.0L262.7 1013.9L272.8 1013.9L282.8 1013.8L292.9 1013.7L302.9 1013.6L312.9 1013.4L323.0 1013.3L333.0 1013.2L343.1 1013.0L353.1 1012.8L363.2 1012.7L373.2 1012.5L383.2 1012.3L393.3 1012.1L403.3 1011.8L413.4 1011.6L423.4 1011.3L433.5 1011.1L443.5 1010.8L453.5 1010.5L463.6 1010.2L473.6 1009.9L483.7 1009.6L493.7 1009.3L503.7 1008.9L513.8 1008.6L523.8 1008.2L533.9 1007.8L543.9 1007.4L554.0 1007.0L564.0 1006.6Z" stroke="#000000"/><path d="M555.6 1007.3L555.6 827.0L555.5 825.5L555.1 823.3L554.4 820.8L553.5 818.1L552.3 815.3L550.8 812.3L549.1 809.3L547.1 806.2L544.8 803.1L542.3 800.0L539.5 796.8L536.4 793.6L533.0 790.4L529.4 787.2L525.5 783.9L521.4 780.7L517.0 777.4L512.3 774.1L507.3 770.8L502.1 767.4L496.6 764.0L490.9 760.6L484.8 757.1L478.6 753.6L472.0 750.0L465.2 746.3L458.1 742.6L450.7 738.8L443.1 734.9L435.2 731.0L427.0 727.0L418.6 722.9L409.9 718.8L400.9 714.6L391.7 710.3L382.2 706.0L372.4 701.7L362.4 697.3L352.1 693.0L341.5 688.6L330.7 684.4L319.6 680.2L308.2 676.2L296.5 672.3L284.6 668.7L272.4 665.5L260.0 662.6L247.3 660.2L234.3 658.5L221.0 657.7L219.2 657.7L217.4 657.7L215.5 657.8L213.7 657.8L211.9 657.9L210.1 658.0L208.3 658.1L206.6 658.3L204.9 658.4L203.2 658.6L201.5 658.8L199.9 659.0L198.4 659.2L196.8 659.4L195.3 659.6L193.9 659.9L192.5 660.2L191.2 660.5L189.9 660.8L188.7 661.1L187.5 661.4L186.5 661.7L185.4 662.1L184.5 662.4L183.6 662.8L182.8 663.1L182.0 663.5L181.4 663.9L180.8 664.3L180.3 664.7L179.8 665.1L179.5 665.5L179.2 665.9L179.0 666.3L178.9 666.7L178.8 667.1L178.8 1004.7L178.9 1005.4L179.0 1006.1L179.2 1006.8L179.5 1007.4L179.9 1008.1L180.4 1008.7L181.0 1009.3L181.6 1009.9L182.3 1010.5L183.1 1011.0L184.0 1011.6L184.9 1012.1L185.9 1012.5L187.0 1013.0L188.1 1013.3L189.3 1013.7L190.5 1014.0L191.7 1014.3L193.0 1014.5L194.3 1014.7L195.6 1014.9L197.0 1015.0L198.3 1015.1L199.7 1015.1L209.6 1015.1L219.5 1015.1L229.4 1015.0L239.2 1015.0L249.1 1014.9L259.0 1014.9L268.9 1014.8L278.8 1014.7L288.7 1014.6L298.6 1014.5L308.5 1014.4L318.3 1014.2L328.2 1014.1L338.1 1013.9L348.0 1013.7L357.9 1013.5L367.8 1013.3L377.7 1013.1L387.6 1012.9L397.4 1012.7L407.3 1012.4L417.2 1012.2L427.1 1011.9L437.0 1011.6L446.9 1011.3L456.8 1011.0L466.7 1010.7L476.5 1010.3L486.4 1010.0L496.3 1009.6L506.2 1009.3L516.1 1008.9L526.0 1008.5L535.9 1008.1L545.8 1007.7L555.6 1007.3Z" stroke="#ff0000"/><path d="M545.4 1007.9L545.4 828.6L545.3 827.1L544.9 825.0L544.2 822.5L543.3 819.9L542.1 817.1L540.7 814.2L539.0 811.3L537.0 808.3L534.7 805.3L532.2 802.2L529.4 799.1L526.4 796.0L523.1 792.9L519.5 789.7L515.7 786.6L511.6 783.4L507.2 780.2L502.6 777.0L497.7 773.7L492.5 770.4L487.1 767.1L481.4 763.7L475.4 760.3L469.2 756.9L462.7 753.4L456.0 749.8L449.0 746.2L441.7 742.5L434.1 738.7L426.3 734.9L418.2 731.0L409.9 727.0L401.3 722.9L392.4 718.8L383.3 714.7L373.9 710.5L364.2 706.2L354.3 702.0L344.1 697.8L333.7 693.5L322.9 689.4L312.0 685.3L300.7 681.4L289.2 677.6L277.4 674.1L265.4 670.9L253.1 668.1L240.5 665.8L227.7 664.1L214.5 663.3L212.9 663.4L211.2 663.4L209.5 663.4L207.9 663.5L206.2 663.6L204.6 663.7L203.0 663.9L201.4 664.0L199.8 664.2L198.3 664.4L196.8 664.7L195.3 664.9L193.9 665.2L192.5 665.4L191.1 665.7L189.8 666.1L188.5 666.4L187.3 666.7L186.1 667.1L185.0 667.5L184.0 667.9L183.0 668.3L182.1 668.7L181.2 669.1L180.4 669.6L179.6 670.0L179.0 670.5L178.4 671.0L177.8 671.5L177.3 671.9L176.9 672.4L176.6 672.9L176.4 673.4L176.2 673.9L176.1 674.4L176.0 674.9L176.0 1005.7L176.1 1006.4L176.2 1007.0L176.4 1007.7L176.7 1008.4L177.1 1009.0L177.6 1009.6L178.2 1010.3L178.8 1010.9L179.5 1011.4L180.3 1012.0L181.2 1012.5L182.1 1013.0L183.1 1013.5L184.2 1013.9L185.3 1014.3L186.5 1014.6L187.7 1015.0L188.9 1015.2L190.2 1015.5L191.5 1015.7L192.8 1015.8L194.2 1015.9L195.5 1016.0L196.9 1016.0L206.6 1016.0L216.3 1016.0L226.0 1016.0L235.6 1015.9L245.3 1015.9L255.0 1015.8L264.7 1015.7L274.4 1015.6L284.0 1015.5L293.7 1015.4L303.4 1015.3L313.1 1015.1L322.8 1015.0L332.5 1014.8L342.1 1014.6L351.8 1014.4L361.5 1014.2L371.2 1014.0L380.9 1013.8L390.5 1013.5L400.2 1013.3L409.9 1013.0L419.6 1012.7L429.3 1012.4L438.9 1012.1L448.6 1011.8L458.3 1011.4L468.0 1011.1L477.7 1010.7L487.4 1010.4L497.0 1010.0L506.7 1009.6L516.4 1009.2L526.1 1008.8L535.8 1008.3L545.4 1007.9Z" stroke="#ff9900"/><path d="M533.4 1008.5L533.4 831.7L533.2 830.3L532.9 828.2L532.2 825.8L531.3 823.2L530.1 820.5L528.7 817.8L527.0 814.9L525.1 812.0L522.9 809.0L520.4 806.0L517.7 803.0L514.7 800.0L511.4 796.9L507.9 793.9L504.2 790.8L500.2 787.7L495.9 784.6L491.3 781.5L486.5 778.3L481.5 775.1L476.2 771.9L470.6 768.6L464.7 765.3L458.6 761.9L452.3 758.5L445.7 755.0L438.8 751.5L431.6 747.9L424.2 744.2L416.6 740.5L408.7 736.7L400.5 732.8L392.1 728.9L383.4 724.9L374.4 720.8L365.2 716.7L355.7 712.6L346.0 708.5L336.0 704.4L325.8 700.3L315.3 696.2L304.5 692.3L293.5 688.4L282.2 684.8L270.6 681.4L258.8 678.2L246.7 675.5L234.4 673.2L221.8 671.6L209.0 670.9L207.4 670.9L205.8 670.9L204.2 671.0L202.6 671.0L201.0 671.1L199.5 671.2L198.0 671.4L196.4 671.5L194.9 671.7L193.5 671.9L192.1 672.1L190.6 672.3L189.3 672.6L188.0 672.9L186.7 673.1L185.4 673.4L184.2 673.7L183.1 674.1L181.9 674.4L180.9 674.8L179.9 675.2L178.9 675.5L178.1 675.9L177.2 676.4L176.5 676.8L175.8 677.2L175.1 677.6L174.5 678.1L174.0 678.5L173.6 679.0L173.2 679.5L172.9 679.9L172.6 680.4L172.5 680.9L172.4 681.4L172.3 681.8L172.3 1006.3L172.4 1007.0L172.5 1007.7L172.7 1008.4L173.0 1009.1L173.4 1009.7L173.9 1010.4L174.5 1011.0L175.1 1011.6L175.8 1012.2L176.6 1012.8L177.5 1013.3L178.4 1013.8L179.4 1014.3L180.5 1014.8L181.6 1015.2L182.8 1015.5L184.0 1015.9L185.2 1016.2L186.5 1016.4L187.8 1016.6L189.1 1016.8L190.5 1016.9L191.8 1016.9L193.2 1017.0L202.6 1017.0L212.1 1016.9L221.5 1016.9L231.0 1016.9L240.4 1016.8L249.9 1016.7L259.3 1016.7L268.8 1016.6L278.2 1016.4L287.7 1016.3L297.1 1016.2L306.6 1016.0L316.0 1015.9L325.5 1015.7L334.9 1015.5L344.4 1015.3L353.8 1015.1L363.3 1014.9L372.7 1014.6L382.2 1014.4L391.6 1014.1L401.1 1013.8L410.5 1013.5L420.0 1013.2L429.4 1012.9L438.9 1012.6L448.3 1012.2L457.8 1011.9L467.2 1011.5L476.7 1011.1L486.1 1010.7L495.6 1010.3L505.0 1009.9L514.5 1009.4L523.9 1009.0L533.4 1008.5Z" stroke="#ccff00"/><path d="M518.1 1009.1L518.1 837.3L517.9 835.9L517.6 833.9L516.9 831.6L516.0 829.1L514.9 826.4L513.5 823.7L511.9 820.9L510.0 818.0L507.9 815.1L505.5 812.2L502.9 809.3L500.0 806.3L496.8 803.3L493.4 800.3L489.8 797.3L485.9 794.3L481.7 791.2L477.3 788.2L472.7 785.1L467.8 782.0L462.6 778.8L457.2 775.6L451.6 772.4L445.7 769.1L439.5 765.7L433.1 762.3L426.4 758.9L419.5 755.3L412.4 751.8L405.0 748.1L397.3 744.4L389.4 740.6L381.2 736.7L372.8 732.8L364.1 728.9L355.2 724.9L346.0 720.8L336.6 716.8L326.9 712.7L317.0 708.7L306.8 704.8L296.4 700.9L285.7 697.1L274.8 693.6L263.6 690.2L252.1 687.2L240.4 684.5L228.5 682.3L216.3 680.7L203.9 680.0L202.3 680.0L200.7 680.0L199.1 680.1L197.5 680.1L195.9 680.2L194.4 680.4L192.8 680.5L191.3 680.7L189.8 680.9L188.4 681.1L186.9 681.3L185.5 681.6L184.2 681.9L182.8 682.2L181.6 682.5L180.3 682.8L179.1 683.2L177.9 683.5L176.8 683.9L175.8 684.3L174.8 684.7L173.8 685.2L173.0 685.6L172.1 686.1L171.4 686.5L170.6 687.0L170.0 687.5L169.4 688.0L168.9 688.5L168.5 689.0L168.1 689.5L167.8 690.1L167.5 690.6L167.4 691.1L167.2 691.7L167.2 692.2L167.2 1007.6L167.3 1008.2L167.4 1008.9L167.6 1009.6L167.9 1010.2L168.3 1010.9L168.8 1011.5L169.4 1012.1L170.0 1012.7L170.7 1013.3L171.5 1013.9L172.4 1014.4L173.3 1014.9L174.3 1015.3L175.4 1015.8L176.5 1016.2L177.7 1016.5L178.9 1016.8L180.1 1017.1L181.4 1017.4L182.7 1017.6L184.0 1017.7L185.4 1017.8L186.7 1017.9L188.1 1017.9L197.3 1017.9L206.4 1017.9L215.6 1017.9L224.8 1017.8L233.9 1017.7L243.1 1017.7L252.3 1017.6L261.4 1017.5L270.6 1017.4L279.8 1017.2L288.9 1017.1L298.1 1016.9L307.2 1016.8L316.4 1016.6L325.6 1016.4L334.7 1016.2L343.9 1016.0L353.1 1015.7L362.2 1015.5L371.4 1015.2L380.6 1014.9L389.7 1014.6L398.9 1014.3L408.1 1014.0L417.2 1013.7L426.4 1013.3L435.6 1013.0L444.7 1012.6L453.9 1012.2L463.1 1011.8L472.2 1011.4L481.4 1011.0L490.6 1010.5L499.7 1010.1L508.9 1009.6L518.1 1009.1Z" stroke="#33ff00"/><path d="M498.6 1010.1L498.6 842.7L498.4 841.3L498.1 839.4L497.5 837.2L496.7 834.8L495.6 832.3L494.3 829.7L492.7 827.0L490.9 824.3L488.9 821.5L486.6 818.7L484.1 815.9L481.4 813.1L478.4 810.2L475.1 807.4L471.7 804.5L468.0 801.6L464.0 798.7L459.8 795.8L455.4 792.8L450.7 789.8L445.8 786.8L440.7 783.8L435.3 780.7L429.7 777.5L423.8 774.3L417.8 771.1L411.4 767.8L404.8 764.4L398.0 761.0L391.0 757.5L383.7 754.0L376.2 750.3L368.4 746.7L360.4 742.9L352.1 739.2L343.6 735.3L334.9 731.5L325.9 727.6L316.7 723.8L307.3 719.9L297.6 716.2L287.7 712.5L277.5 708.9L267.1 705.5L256.5 702.3L245.6 699.4L234.5 696.8L223.1 694.7L211.5 693.2L199.7 692.5L198.0 692.5L196.3 692.5L194.6 692.6L192.9 692.7L191.3 692.8L189.6 692.9L188.0 693.1L186.4 693.3L184.8 693.5L183.2 693.7L181.7 693.9L180.2 694.2L178.8 694.5L177.3 694.8L176.0 695.1L174.6 695.4L173.4 695.8L172.1 696.2L171.0 696.6L169.8 697.0L168.8 697.4L167.8 697.8L166.8 698.3L165.9 698.8L165.1 699.2L164.4 699.7L163.7 700.2L163.1 700.7L162.5 701.3L162.0 701.8L161.6 702.3L161.3 702.9L161.0 703.4L160.9 703.9L160.8 704.5L160.7 705.0L160.7 1008.8L160.8 1009.5L160.9 1010.1L161.1 1010.8L161.4 1011.4L161.8 1012.0L162.3 1012.7L162.9 1013.3L163.5 1013.8L164.2 1014.4L165.0 1014.9L165.9 1015.4L166.8 1015.9L167.8 1016.4L168.9 1016.8L170.0 1017.2L171.2 1017.5L172.4 1017.8L173.6 1018.1L174.9 1018.3L176.2 1018.5L177.5 1018.7L178.9 1018.8L180.2 1018.8L181.6 1018.9L190.4 1018.8L199.2 1018.8L208.0 1018.8L216.8 1018.7L225.6 1018.7L234.4 1018.6L243.2 1018.5L252.0 1018.4L260.8 1018.3L269.6 1018.2L278.4 1018.0L287.3 1017.9L296.1 1017.7L304.9 1017.5L313.7 1017.3L322.5 1017.1L331.3 1016.9L340.1 1016.7L348.9 1016.4L357.7 1016.1L366.5 1015.9L375.3 1015.6L384.1 1015.3L392.9 1015.0L401.7 1014.6L410.5 1014.3L419.3 1013.9L428.1 1013.5L436.9 1013.2L445.7 1012.8L454.5 1012.3L463.3 1011.9L472.2 1011.5L481.0 1011.0L489.8 1010.6L498.6 1010.1Z" stroke="#00ff66"/><path d="M473.0 1011.3L473.0 853.3L472.9 852.0L472.6 850.2L472.0 848.0L471.2 845.7L470.2 843.3L469.0 840.7L467.5 838.2L465.8 835.5L463.9 832.9L461.7 830.2L459.4 827.4L456.8 824.7L453.9 822.0L450.9 819.2L447.6 816.4L444.1 813.6L440.4 810.8L436.4 808.0L432.2 805.1L427.8 802.2L423.2 799.3L418.3 796.4L413.2 793.4L407.9 790.4L402.4 787.3L396.6 784.1L390.6 781.0L384.4 777.7L378.0 774.4L371.3 771.0L364.4 767.6L357.3 764.1L349.9 760.5L342.4 756.9L334.6 753.3L326.5 749.6L318.3 745.9L309.8 742.1L301.1 738.4L292.2 734.7L283.0 731.1L273.6 727.5L264.0 724.0L254.2 720.7L244.1 717.6L233.8 714.8L223.3 712.3L212.6 710.3L201.6 708.8L190.4 708.2L188.8 708.2L187.1 708.2L185.5 708.3L183.9 708.3L182.3 708.4L180.7 708.6L179.1 708.7L177.6 708.9L176.0 709.0L174.5 709.2L173.1 709.4L171.6 709.7L170.2 709.9L168.9 710.2L167.5 710.5L166.3 710.8L165.0 711.1L163.8 711.5L162.7 711.8L161.6 712.2L160.6 712.6L159.6 713.0L158.7 713.4L157.9 713.8L157.1 714.2L156.3 714.7L155.7 715.1L155.1 715.6L154.6 716.1L154.1 716.5L153.7 717.0L153.4 717.5L153.1 718.0L153.0 718.5L152.9 719.0L152.8 719.5L152.8 1010.1L152.9 1010.7L153.0 1011.4L153.2 1012.0L153.5 1012.7L153.9 1013.3L154.4 1013.9L155.0 1014.5L155.6 1015.1L156.3 1015.6L157.1 1016.2L158.0 1016.7L158.9 1017.2L159.9 1017.6L161.0 1018.0L162.1 1018.4L163.3 1018.8L164.5 1019.1L165.7 1019.3L167.0 1019.6L168.3 1019.8L169.6 1019.9L171.0 1020.0L172.3 1020.1L173.7 1020.1L182.0 1020.1L190.3 1020.1L198.7 1020.0L207.0 1020.0L215.3 1019.9L223.6 1019.9L231.9 1019.8L240.2 1019.7L248.5 1019.6L256.9 1019.4L265.2 1019.3L273.5 1019.1L281.8 1019.0L290.1 1018.8L298.4 1018.6L306.7 1018.4L315.1 1018.1L323.4 1017.9L331.7 1017.7L340.0 1017.4L348.3 1017.1L356.6 1016.8L364.9 1016.5L373.3 1016.2L381.6 1015.9L389.9 1015.5L398.2 1015.2L406.5 1014.8L414.8 1014.4L423.2 1014.0L431.5 1013.6L439.8 1013.2L448.1 1012.7L456.4 1012.3L464.7 1011.8L473.0 1011.3Z" stroke="#00ffff"/><path d="M437.8 1012.3L437.8 861.8L437.7 860.6L437.4 858.9L436.8 857.0L436.1 854.9L435.2 852.7L434.0 850.4L432.7 848.1L431.1 845.7L429.3 843.3L427.4 840.8L425.2 838.4L422.8 835.9L420.2 833.4L417.4 830.9L414.3 828.4L411.1 825.9L407.7 823.3L404.0 820.8L400.2 818.2L396.1 815.6L391.8 812.9L387.4 810.3L382.7 807.6L377.8 804.8L372.7 802.0L367.4 799.2L361.9 796.3L356.1 793.4L350.2 790.4L344.0 787.3L337.7 784.2L331.1 781.0L324.4 777.8L317.4 774.6L310.2 771.2L302.8 767.9L295.2 764.5L287.4 761.2L279.4 757.8L271.1 754.4L262.7 751.1L254.1 747.9L245.2 744.8L236.2 741.8L226.9 739.0L217.4 736.5L207.7 734.2L197.8 732.4L187.7 731.0L177.4 730.4L175.9 730.4L174.3 730.5L172.8 730.5L171.2 730.6L169.7 730.7L168.2 730.8L166.7 730.9L165.2 731.1L163.7 731.2L162.3 731.4L160.9 731.6L159.6 731.9L158.2 732.1L156.9 732.4L155.7 732.6L154.5 732.9L153.3 733.2L152.2 733.6L151.1 733.9L150.0 734.2L149.1 734.6L148.1 735.0L147.3 735.4L146.5 735.8L145.7 736.2L145.0 736.6L144.4 737.0L143.8 737.4L143.3 737.9L142.9 738.3L142.5 738.8L142.2 739.2L142.0 739.7L141.8 740.2L141.7 740.6L141.7 741.1L141.7 1012.3L141.7 1012.9L141.9 1013.5L142.1 1014.0L142.4 1014.6L142.8 1015.2L143.3 1015.7L143.8 1016.3L144.5 1016.8L145.2 1017.3L146.0 1017.8L146.9 1018.3L147.8 1018.7L148.8 1019.1L149.9 1019.5L151.0 1019.8L152.1 1020.1L153.3 1020.4L154.6 1020.7L155.9 1020.9L157.2 1021.1L158.5 1021.2L159.8 1021.3L161.2 1021.3L162.6 1021.4L170.2 1021.4L177.9 1021.3L185.5 1021.3L193.1 1021.2L200.8 1021.2L208.4 1021.1L216.1 1021.0L223.7 1020.9L231.4 1020.8L239.0 1020.7L246.7 1020.5L254.3 1020.3L261.9 1020.2L269.6 1020.0L277.2 1019.8L284.9 1019.6L292.5 1019.3L300.2 1019.1L307.8 1018.8L315.5 1018.6L323.1 1018.3L330.7 1018.0L338.4 1017.6L346.0 1017.3L353.7 1017.0L361.3 1016.6L369.0 1016.2L376.6 1015.9L384.3 1015.5L391.9 1015.0L399.5 1014.6L407.2 1014.2L414.8 1013.7L422.5 1013.3L430.1 1012.8L437.8 1012.3Z" stroke="#0066ff"/><path d="M385.8 1013.8L385.8 874.6L385.7 873.7L385.4 872.2L385.0 870.6L384.3 868.8L383.5 866.9L382.5 865.0L381.3 863.0L379.9 861.0L378.4 858.9L376.7 856.9L374.7 854.8L372.6 852.7L370.4 850.6L367.9 848.5L365.2 846.3L362.4 844.2L359.4 842.1L356.2 839.9L352.8 837.7L349.3 835.5L345.5 833.2L341.6 831.0L337.5 828.7L333.2 826.4L328.7 824.0L324.1 821.6L319.2 819.2L314.2 816.7L309.0 814.1L303.6 811.5L298.0 808.9L292.3 806.2L286.3 803.5L280.2 800.7L273.9 797.9L267.4 795.1L260.8 792.2L253.9 789.4L246.9 786.5L239.7 783.7L232.3 780.9L224.7 778.2L216.9 775.5L209.0 773.0L200.8 770.6L192.5 768.4L184.0 766.6L175.4 765.0L166.5 763.9L157.5 763.3L156.1 763.4L154.8 763.4L153.4 763.4L152.1 763.5L150.7 763.6L149.4 763.7L148.1 763.8L146.8 764.0L145.6 764.1L144.3 764.3L143.1 764.5L141.9 764.7L140.8 765.0L139.6 765.2L138.5 765.5L137.5 765.8L136.5 766.1L135.5 766.4L134.5 766.7L133.6 767.0L132.8 767.4L132.0 767.8L131.2 768.1L130.5 768.5L129.9 768.9L129.3 769.3L128.7 769.7L128.2 770.2L127.8 770.6L127.4 771.0L127.1 771.5L126.8 771.9L126.6 772.3L126.5 772.8L126.4 773.2L126.4 773.7L126.4 1014.5L126.4 1015.0L126.6 1015.6L126.8 1016.1L127.1 1016.7L127.5 1017.2L128.0 1017.7L128.5 1018.2L129.2 1018.7L129.9 1019.2L130.7 1019.6L131.6 1020.0L132.5 1020.4L133.5 1020.8L134.5 1021.2L135.7 1021.5L136.8 1021.8L138.0 1022.1L139.3 1022.3L140.5 1022.5L141.9 1022.6L143.2 1022.8L144.5 1022.9L145.9 1022.9L147.3 1022.9L153.9 1022.9L160.5 1022.9L167.1 1022.9L173.8 1022.8L180.4 1022.8L187.0 1022.7L193.6 1022.6L200.3 1022.5L206.9 1022.4L213.5 1022.2L220.1 1022.1L226.8 1021.9L233.4 1021.7L240.0 1021.6L246.6 1021.3L253.3 1021.1L259.9 1020.9L266.5 1020.7L273.2 1020.4L279.8 1020.1L286.4 1019.8L293.0 1019.5L299.7 1019.2L306.3 1018.9L312.9 1018.5L319.5 1018.2L326.2 1017.8L332.8 1017.4L339.4 1017.0L346.0 1016.6L352.7 1016.2L359.3 1015.7L365.9 1015.3L372.5 1014.8L379.2 1014.3L385.8 1013.8Z" stroke="#3300ff"/><path d="M302.3 1017.0L302.3 905.4L302.2 904.6L302.0 903.4L301.6 902.1L301.1 900.6L300.5 899.1L299.7 897.5L298.8 895.9L297.7 894.3L296.5 892.6L295.1 891.0L293.6 889.3L292.0 887.6L290.2 885.9L288.3 884.1L286.2 882.4L284.0 880.7L281.6 878.9L279.1 877.2L276.5 875.4L273.7 873.6L270.7 871.8L267.7 869.9L264.5 868.1L261.1 866.2L257.6 864.3L253.9 862.3L250.2 860.3L246.2 858.3L242.2 856.3L237.9 854.2L233.6 852.0L229.1 849.9L224.4 847.6L219.6 845.4L214.7 843.1L209.6 840.8L204.4 838.5L199.1 836.2L193.6 833.9L187.9 831.6L182.1 829.3L176.2 827.1L170.1 824.9L163.9 822.9L157.5 821.0L151.0 819.2L144.4 817.7L137.6 816.4L130.7 815.5L123.6 815.1L122.5 815.1L121.4 815.1L120.3 815.2L119.2 815.2L118.2 815.3L117.1 815.4L116.1 815.5L115.0 815.6L114.0 815.8L113.0 815.9L112.0 816.1L111.1 816.3L110.1 816.5L109.2 816.7L108.3 817.0L107.5 817.2L106.7 817.5L105.9 817.7L105.1 818.0L104.4 818.3L103.7 818.6L103.1 819.0L102.5 819.3L101.9 819.6L101.4 820.0L100.9 820.3L100.4 820.7L100.0 821.1L99.7 821.4L99.4 821.8L99.1 822.2L98.9 822.6L98.7 823.0L98.6 823.4L98.6 823.8L98.5 824.2L98.5 1019.8L98.6 1020.1L98.7 1020.4L98.9 1020.7L99.2 1021.0L99.6 1021.3L100.1 1021.6L100.7 1021.9L101.3 1022.1L102.0 1022.4L102.8 1022.7L103.7 1022.9L104.6 1023.1L105.6 1023.3L106.7 1023.5L107.8 1023.7L109.0 1023.9L110.2 1024.0L111.4 1024.1L112.7 1024.2L114.0 1024.3L115.3 1024.4L116.7 1024.5L118.0 1024.5L119.4 1024.5L124.5 1024.5L129.6 1024.5L134.6 1024.4L139.7 1024.4L144.8 1024.3L149.9 1024.3L155.0 1024.2L160.0 1024.1L165.1 1024.0L170.2 1023.9L175.3 1023.8L180.4 1023.7L185.4 1023.5L190.5 1023.4L195.6 1023.2L200.7 1023.0L205.8 1022.8L210.8 1022.6L215.9 1022.4L221.0 1022.2L226.1 1021.9L231.2 1021.7L236.2 1021.4L241.3 1021.2L246.4 1020.9L251.5 1020.6L256.5 1020.3L261.6 1019.9L266.7 1019.6L271.8 1019.3L276.9 1018.9L281.9 1018.6L287.0 1018.2L292.1 1017.8L297.2 1017.4L302.3 1017.0Z" stroke="#cc00ff"/><path d="M279.5 1017.3L279.5 912.6L279.5 911.8L279.3 910.8L278.9 909.5L278.5 908.2L277.9 906.8L277.2 905.4L276.3 903.9L275.3 902.4L274.2 900.9L272.9 899.3L271.6 897.8L270.1 896.2L268.4 894.6L266.6 893.0L264.7 891.5L262.7 889.9L260.5 888.2L258.2 886.6L255.8 885.0L253.2 883.3L250.5 881.7L247.7 880.0L244.8 878.3L241.7 876.5L238.4 874.8L235.1 873.0L231.6 871.2L228.0 869.3L224.3 867.4L220.4 865.5L216.4 863.5L212.2 861.5L208.0 859.5L203.6 857.4L199.0 855.3L194.4 853.2L189.6 851.1L184.6 848.9L179.6 846.8L174.4 844.7L169.1 842.6L163.6 840.5L158.0 838.6L152.3 836.7L146.4 834.9L140.5 833.3L134.4 831.9L128.1 830.7L121.7 829.9L115.2 829.5L114.2 829.5L113.2 829.5L112.1 829.6L111.1 829.6L110.1 829.6L109.1 829.7L108.1 829.8L107.1 829.9L106.2 830.0L105.2 830.1L104.3 830.2L103.4 830.3L102.5 830.5L101.7 830.6L100.8 830.8L100.0 831.0L99.2 831.1L98.5 831.3L97.8 831.5L97.1 831.7L96.5 832.0L95.8 832.2L95.3 832.4L94.7 832.6L94.2 832.9L93.8 833.1L93.4 833.4L93.0 833.6L92.7 833.9L92.4 834.1L92.1 834.4L91.9 834.7L91.8 834.9L91.7 835.2L91.6 835.5L91.6 835.8L91.6 1019.2L91.6 1019.5L91.7 1019.9L92.0 1020.3L92.3 1020.6L92.7 1021.0L93.2 1021.3L93.7 1021.7L94.4 1022.0L95.1 1022.3L95.9 1022.6L96.7 1022.9L97.7 1023.2L98.7 1023.4L99.7 1023.6L100.8 1023.9L102.0 1024.1L103.2 1024.2L104.5 1024.4L105.7 1024.5L107.0 1024.6L108.4 1024.7L109.7 1024.8L111.1 1024.8L112.4 1024.8L117.1 1024.8L121.7 1024.8L126.4 1024.8L131.0 1024.7L135.7 1024.7L140.3 1024.6L144.9 1024.5L149.6 1024.4L154.2 1024.3L158.9 1024.2L163.5 1024.1L168.1 1024.0L172.8 1023.8L177.4 1023.7L182.1 1023.5L186.7 1023.3L191.3 1023.1L196.0 1022.9L200.6 1022.7L205.3 1022.5L209.9 1022.2L214.5 1022.0L219.2 1021.7L223.8 1021.5L228.5 1021.2L233.1 1020.9L237.8 1020.6L242.4 1020.3L247.0 1019.9L251.7 1019.6L256.3 1019.2L261.0 1018.9L265.6 1018.5L270.2 1018.1L274.9 1017.7L279.5 1017.3Z" stroke="#ff0099"/></g>
<g fill="none" stroke-width="2.7" stroke-linejoin="round" stroke-linecap="round"><path d="M1236.4 1006.3L1236.4 826.0L1236.3 824.5L1235.9 822.3L1235.2 819.7L1234.3 816.9L1233.0 814.0L1231.5 811.0L1229.7 807.9L1227.7 804.8L1225.4 801.6L1222.8 798.3L1219.9 795.1L1216.8 791.8L1213.3 788.5L1209.7 785.2L1205.7 781.9L1201.5 778.6L1196.9 775.2L1192.2 771.8L1187.1 768.4L1181.8 764.9L1176.2 761.5L1170.3 757.9L1164.1 754.3L1157.7 750.7L1151.0 747.0L1144.0 743.3L1136.8 739.5L1129.3 735.6L1121.5 731.6L1113.4 727.6L1105.1 723.5L1096.5 719.3L1087.6 715.0L1078.4 710.7L1069.0 706.3L1059.3 701.9L1049.3 697.5L1039.1 693.0L1028.6 688.5L1017.8 684.1L1006.7 679.7L995.3 675.5L983.7 671.3L971.8 667.4L959.7 663.7L947.2 660.3L934.5 657.4L921.5 654.9L908.3 653.2L894.8 652.4L893.0 652.4L891.2 652.4L889.4 652.4L887.7 652.5L885.9 652.6L884.2 652.7L882.5 652.8L880.8 652.9L879.1 653.0L877.5 653.2L875.9 653.3L874.3 653.5L872.8 653.7L871.3 653.9L869.9 654.1L868.5 654.4L867.2 654.6L865.9 654.8L864.6 655.1L863.5 655.4L862.3 655.7L861.3 656.0L860.3 656.3L859.4 656.6L858.5 656.9L857.7 657.3L857.0 657.6L856.4 657.9L855.8 658.3L855.3 658.6L854.9 659.0L854.5 659.4L854.2 659.7L854.1 660.1L853.9 660.5L853.9 660.8L853.9 1003.8L853.9 1004.5L854.1 1005.2L854.3 1005.8L854.6 1006.5L855.0 1007.1L855.5 1007.8L856.1 1008.4L856.7 1009.0L857.4 1009.6L858.2 1010.1L859.1 1010.6L860.0 1011.1L861.0 1011.6L862.1 1012.0L863.2 1012.4L864.3 1012.8L865.6 1013.1L866.8 1013.4L868.1 1013.6L869.4 1013.8L870.7 1014.0L872.1 1014.1L873.4 1014.1L874.8 1014.1L884.8 1014.1L894.9 1014.1L904.9 1014.1L915.0 1014.1L925.0 1014.0L935.1 1013.9L945.1 1013.9L955.2 1013.8L965.2 1013.7L975.2 1013.5L985.3 1013.4L995.3 1013.3L1005.4 1013.1L1015.4 1013.0L1025.5 1012.8L1035.5 1012.6L1045.6 1012.4L1055.6 1012.2L1065.7 1012.0L1075.7 1011.7L1085.8 1011.5L1095.8 1011.2L1105.8 1011.0L1115.9 1010.7L1125.9 1010.4L1136.0 1010.1L1146.0 1009.7L1156.1 1009.4L1166.1 1009.1L1176.2 1008.7L1186.2 1008.3L1196.3 1008.0L1206.3 1007.6L1216.3 1007.2L1226.4 1006.7L1236.4 1006.3Z" stroke="#000000"/><path d="M1212.8 1006.9L1212.8 829.5L1212.6 828.0L1212.2 825.9L1211.6 823.5L1210.7 820.9L1209.5 818.2L1208.0 815.4L1206.3 812.5L1204.4 809.5L1202.1 806.5L1199.6 803.5L1196.9 800.4L1193.9 797.4L1190.6 794.3L1187.0 791.2L1183.2 788.1L1179.2 784.9L1174.8 781.8L1170.2 778.6L1165.4 775.4L1160.2 772.1L1154.9 768.9L1149.2 765.6L1143.3 762.2L1137.1 758.8L1130.7 755.3L1124.0 751.8L1117.1 748.2L1109.8 744.6L1102.3 740.8L1094.6 737.1L1086.6 733.2L1078.3 729.3L1069.8 725.3L1061.0 721.2L1051.9 717.1L1042.6 713.0L1033.0 708.8L1023.2 704.6L1013.1 700.4L1002.7 696.3L992.1 692.2L981.2 688.2L970.0 684.3L958.6 680.6L946.9 677.1L935.0 673.9L922.7 671.2L910.3 668.9L897.5 667.2L884.5 666.5L882.9 666.5L881.2 666.5L879.6 666.6L877.9 666.6L876.3 666.7L874.7 666.8L873.1 666.9L871.5 667.0L870.0 667.2L868.5 667.4L867.0 667.5L865.5 667.7L864.1 668.0L862.7 668.2L861.4 668.4L860.1 668.7L858.8 668.9L857.6 669.2L856.5 669.5L855.4 669.8L854.3 670.2L853.4 670.5L852.4 670.8L851.6 671.2L850.8 671.5L850.0 671.9L849.4 672.3L848.8 672.7L848.2 673.1L847.8 673.4L847.4 673.8L847.0 674.2L846.8 674.7L846.6 675.1L846.5 675.5L846.5 675.9L846.5 1004.7L846.5 1005.4L846.6 1006.1L846.9 1006.7L847.2 1007.3L847.6 1008.0L848.1 1008.6L848.6 1009.2L849.3 1009.8L850.0 1010.3L850.8 1010.9L851.7 1011.4L852.6 1011.8L853.6 1012.3L854.6 1012.7L855.8 1013.1L856.9 1013.4L858.1 1013.7L859.4 1014.0L860.6 1014.2L862.0 1014.4L863.3 1014.6L864.6 1014.7L866.0 1014.8L867.4 1014.8L877.0 1014.8L886.6 1014.8L896.1 1014.7L905.7 1014.7L915.3 1014.6L924.9 1014.6L934.5 1014.5L944.1 1014.4L953.7 1014.3L963.3 1014.2L972.9 1014.0L982.5 1013.9L992.1 1013.8L1001.7 1013.6L1011.3 1013.4L1020.9 1013.2L1030.5 1013.0L1040.1 1012.8L1049.7 1012.6L1059.3 1012.4L1068.8 1012.1L1078.4 1011.8L1088.0 1011.6L1097.6 1011.3L1107.2 1011.0L1116.8 1010.7L1126.4 1010.4L1136.0 1010.0L1145.6 1009.7L1155.2 1009.3L1164.8 1009.0L1174.4 1008.6L1184.0 1008.2L1193.6 1007.8L1203.2 1007.4L1212.8 1006.9Z" stroke="#ff0000"/><path d="M1190.5 1007.9L1190.5 833.3L1190.4 831.9L1190.0 829.9L1189.3 827.6L1188.5 825.2L1187.3 822.6L1185.9 819.9L1184.3 817.2L1182.4 814.4L1180.3 811.6L1177.9 808.7L1175.2 805.8L1172.3 802.9L1169.1 800.0L1165.7 797.1L1162.1 794.1L1158.2 791.2L1154.0 788.2L1149.6 785.2L1144.9 782.2L1140.0 779.1L1134.8 776.0L1129.4 772.9L1123.7 769.7L1117.7 766.5L1111.6 763.2L1105.1 759.9L1098.4 756.5L1091.5 753.1L1084.3 749.6L1076.8 746.0L1069.1 742.3L1061.2 738.6L1053.0 734.9L1044.5 731.0L1035.8 727.2L1026.8 723.2L1017.6 719.3L1008.1 715.3L998.4 711.4L988.4 707.5L978.2 703.6L967.7 699.8L957.0 696.1L946.0 692.6L934.8 689.4L923.3 686.4L911.5 683.8L899.5 681.6L887.3 680.0L874.8 679.3L873.3 679.3L871.8 679.4L870.2 679.4L868.7 679.5L867.3 679.6L865.8 679.7L864.3 679.8L862.9 680.0L861.5 680.1L860.1 680.3L858.7 680.5L857.4 680.7L856.1 681.0L854.8 681.2L853.6 681.5L852.4 681.8L851.3 682.0L850.2 682.4L849.1 682.7L848.1 683.0L847.2 683.4L846.3 683.7L845.4 684.1L844.6 684.5L843.9 684.9L843.2 685.3L842.6 685.7L842.1 686.1L841.6 686.6L841.2 687.0L840.8 687.4L840.5 687.9L840.3 688.3L840.1 688.8L840.0 689.2L840.0 689.7L840.0 1005.7L840.0 1006.3L840.2 1007.0L840.4 1007.6L840.7 1008.2L841.1 1008.8L841.6 1009.4L842.1 1010.0L842.8 1010.5L843.5 1011.1L844.3 1011.6L845.2 1012.1L846.1 1012.6L847.1 1013.0L848.1 1013.4L849.3 1013.8L850.4 1014.1L851.6 1014.4L852.9 1014.7L854.1 1014.9L855.5 1015.1L856.8 1015.2L858.1 1015.3L859.5 1015.4L860.9 1015.4L870.0 1015.4L879.2 1015.4L888.3 1015.4L897.5 1015.3L906.6 1015.3L915.8 1015.2L925.0 1015.1L934.1 1015.0L943.3 1014.9L952.4 1014.8L961.6 1014.7L970.7 1014.6L979.9 1014.4L989.0 1014.3L998.2 1014.1L1007.4 1013.9L1016.5 1013.7L1025.7 1013.5L1034.8 1013.3L1044.0 1013.1L1053.1 1012.8L1062.3 1012.6L1071.5 1012.3L1080.6 1012.1L1089.8 1011.8L1098.9 1011.5L1108.1 1011.2L1117.2 1010.9L1126.4 1010.5L1135.5 1010.2L1144.7 1009.8L1153.9 1009.5L1163.0 1009.1L1172.2 1008.7L1181.3 1008.3L1190.5 1007.9Z" stroke="#ff9900"/><path d="M1170.5 1008.8L1170.5 838.6L1170.4 837.3L1170.0 835.4L1169.4 833.2L1168.6 830.9L1167.5 828.4L1166.2 825.8L1164.6 823.2L1162.8 820.5L1160.8 817.8L1158.5 815.1L1156.0 812.3L1153.2 809.5L1150.2 806.8L1146.9 803.9L1143.4 801.1L1139.7 798.3L1135.7 795.4L1131.5 792.6L1127.1 789.7L1122.4 786.7L1117.5 783.8L1112.3 780.8L1106.9 777.8L1101.2 774.7L1095.3 771.5L1089.2 768.4L1082.8 765.1L1076.2 761.8L1069.3 758.5L1062.2 755.0L1054.9 751.6L1047.3 748.0L1039.5 744.4L1031.4 740.7L1023.1 737.0L1014.6 733.3L1005.8 729.5L996.8 725.7L987.5 721.9L978.0 718.2L968.2 714.5L958.2 710.8L948.0 707.3L937.6 704.0L926.8 700.9L915.9 698.0L904.7 695.5L893.3 693.4L881.6 691.9L869.7 691.2L868.1 691.3L866.6 691.3L865.0 691.3L863.5 691.4L861.9 691.5L860.4 691.6L858.9 691.7L857.5 691.9L856.0 692.1L854.6 692.2L853.2 692.4L851.8 692.7L850.5 692.9L849.2 693.2L847.9 693.4L846.7 693.7L845.5 694.0L844.4 694.4L843.3 694.7L842.3 695.1L841.3 695.4L840.4 695.8L839.5 696.2L838.7 696.6L838.0 697.0L837.3 697.4L836.7 697.8L836.1 698.3L835.6 698.7L835.2 699.1L834.8 699.6L834.5 700.1L834.2 700.5L834.1 701.0L834.0 701.4L833.9 701.9L833.9 1006.6L834.0 1007.2L834.1 1007.9L834.3 1008.5L834.6 1009.1L835.0 1009.6L835.5 1010.2L836.1 1010.8L836.7 1011.3L837.5 1011.9L838.3 1012.4L839.1 1012.8L840.1 1013.3L841.1 1013.7L842.1 1014.1L843.2 1014.4L844.4 1014.8L845.6 1015.1L846.8 1015.3L848.1 1015.5L849.4 1015.7L850.8 1015.8L852.1 1016.0L853.5 1016.0L854.8 1016.0L863.6 1016.0L872.4 1016.0L881.1 1016.0L889.9 1015.9L898.7 1015.9L907.4 1015.8L916.2 1015.8L925.0 1015.7L933.8 1015.6L942.5 1015.5L951.3 1015.4L960.1 1015.2L968.8 1015.1L977.6 1014.9L986.4 1014.8L995.1 1014.6L1003.9 1014.4L1012.7 1014.2L1021.4 1014.0L1030.2 1013.8L1039.0 1013.6L1047.7 1013.3L1056.5 1013.1L1065.3 1012.8L1074.1 1012.6L1082.8 1012.3L1091.6 1012.0L1100.4 1011.7L1109.1 1011.4L1117.9 1011.0L1126.7 1010.7L1135.4 1010.3L1144.2 1010.0L1153.0 1009.6L1161.7 1009.2L1170.5 1008.8Z" stroke="#ccff00"/><path d="M1153.3 1009.4L1153.3 844.2L1153.2 843.0L1152.9 841.1L1152.3 839.0L1151.5 836.8L1150.5 834.4L1149.2 831.9L1147.7 829.4L1145.9 826.8L1144.0 824.2L1141.8 821.6L1139.4 818.9L1136.7 816.2L1133.8 813.5L1130.7 810.8L1127.4 808.1L1123.8 805.4L1120.0 802.6L1115.9 799.9L1111.6 797.1L1107.1 794.3L1102.4 791.4L1097.4 788.5L1092.2 785.6L1086.8 782.6L1081.1 779.6L1075.3 776.5L1069.1 773.4L1062.8 770.2L1056.2 767.0L1049.4 763.7L1042.3 760.3L1035.1 756.9L1027.6 753.4L1019.8 749.9L1011.8 746.3L1003.6 742.7L995.2 739.1L986.6 735.4L977.7 731.8L968.5 728.2L959.2 724.6L949.6 721.1L939.8 717.7L929.7 714.5L919.4 711.5L908.9 708.7L898.2 706.3L887.2 704.3L876.0 702.9L864.6 702.2L863.0 702.2L861.4 702.3L859.9 702.3L858.3 702.4L856.7 702.4L855.2 702.5L853.7 702.7L852.2 702.8L850.7 702.9L849.3 703.1L847.9 703.3L846.5 703.5L845.1 703.7L843.8 703.9L842.5 704.2L841.3 704.4L840.1 704.7L839.0 705.0L837.9 705.3L836.8 705.6L835.8 705.9L834.9 706.2L834.0 706.6L833.2 706.9L832.5 707.3L831.8 707.6L831.1 708.0L830.5 708.4L830.0 708.8L829.6 709.2L829.2 709.6L828.9 710.0L828.7 710.4L828.5 710.8L828.4 711.2L828.4 711.6L828.4 1007.6L828.4 1008.2L828.5 1008.8L828.8 1009.3L829.1 1009.9L829.5 1010.5L830.0 1011.0L830.5 1011.6L831.2 1012.1L831.9 1012.6L832.7 1013.1L833.5 1013.6L834.5 1014.0L835.5 1014.4L836.5 1014.8L837.7 1015.1L838.8 1015.4L840.0 1015.7L841.3 1016.0L842.5 1016.2L843.8 1016.3L845.2 1016.5L846.5 1016.6L847.9 1016.6L849.3 1016.7L857.7 1016.7L866.2 1016.6L874.6 1016.6L883.0 1016.6L891.5 1016.5L899.9 1016.5L908.4 1016.4L916.8 1016.3L925.3 1016.2L933.7 1016.1L942.2 1016.0L950.6 1015.9L959.1 1015.7L967.5 1015.6L976.0 1015.4L984.4 1015.2L992.9 1015.0L1001.3 1014.9L1009.7 1014.6L1018.2 1014.4L1026.6 1014.2L1035.1 1014.0L1043.5 1013.7L1052.0 1013.5L1060.4 1013.2L1068.9 1012.9L1077.3 1012.6L1085.8 1012.3L1094.2 1012.0L1102.7 1011.7L1111.1 1011.3L1119.6 1011.0L1128.0 1010.6L1136.4 1010.2L1144.9 1009.8L1153.3 1009.4Z" stroke="#33ff00"/><path d="M1136.2 1010.4L1136.2 849.6L1136.1 848.3L1135.7 846.6L1135.2 844.5L1134.4 842.3L1133.4 840.0L1132.2 837.6L1130.7 835.2L1129.0 832.6L1127.1 830.1L1125.0 827.6L1122.7 825.0L1120.1 822.4L1117.3 819.8L1114.3 817.1L1111.1 814.5L1107.6 811.8L1104.0 809.2L1100.1 806.5L1095.9 803.8L1091.6 801.0L1087.0 798.3L1082.2 795.5L1077.2 792.6L1072.0 789.7L1066.5 786.8L1060.8 783.8L1054.9 780.8L1048.8 777.7L1042.5 774.5L1035.9 771.3L1029.1 768.1L1022.1 764.8L1014.8 761.4L1007.4 758.0L999.7 754.5L991.8 751.0L983.6 747.4L975.3 743.9L966.7 740.4L957.9 736.8L948.9 733.4L939.6 730.0L930.1 726.7L920.5 723.6L910.5 720.6L900.4 717.9L890.0 715.6L879.5 713.7L868.6 712.3L857.6 711.6L856.1 711.6L854.6 711.7L853.1 711.7L851.6 711.8L850.2 711.8L848.7 711.9L847.3 712.0L845.9 712.2L844.5 712.3L843.1 712.4L841.8 712.6L840.4 712.8L839.2 713.0L837.9 713.2L836.7 713.4L835.5 713.7L834.4 713.9L833.3 714.2L832.3 714.5L831.3 714.8L830.4 715.1L829.5 715.4L828.6 715.7L827.9 716.0L827.1 716.3L826.5 716.7L825.9 717.0L825.3 717.4L824.8 717.8L824.4 718.1L824.1 718.5L823.8 718.9L823.6 719.3L823.4 719.6L823.3 720.0L823.3 720.4L823.3 1008.5L823.3 1009.1L823.4 1009.7L823.7 1010.2L824.0 1010.8L824.4 1011.3L824.8 1011.9L825.4 1012.4L826.1 1012.9L826.8 1013.4L827.6 1013.9L828.4 1014.3L829.4 1014.7L830.4 1015.1L831.4 1015.5L832.5 1015.8L833.7 1016.1L834.9 1016.4L836.2 1016.6L837.4 1016.8L838.7 1017.0L840.1 1017.1L841.4 1017.2L842.8 1017.3L844.1 1017.3L852.3 1017.3L860.4 1017.3L868.5 1017.2L876.6 1017.2L884.7 1017.2L892.8 1017.1L900.9 1017.0L909.0 1016.9L917.2 1016.9L925.3 1016.8L933.4 1016.6L941.5 1016.5L949.6 1016.4L957.7 1016.2L965.8 1016.1L973.9 1015.9L982.0 1015.7L990.2 1015.6L998.3 1015.4L1006.4 1015.2L1014.5 1014.9L1022.6 1014.7L1030.7 1014.5L1038.8 1014.2L1046.9 1014.0L1055.0 1013.7L1063.2 1013.4L1071.3 1013.1L1079.4 1012.8L1087.5 1012.5L1095.6 1012.2L1103.7 1011.8L1111.8 1011.5L1119.9 1011.1L1128.1 1010.8L1136.2 1010.4Z" stroke="#00ff66"/><path d="M1120.8 1011.3L1120.8 854.9L1120.7 853.7L1120.4 852.0L1119.9 850.0L1119.1 847.9L1118.1 845.6L1116.9 843.3L1115.5 840.9L1113.9 838.5L1112.1 836.1L1110.0 833.6L1107.7 831.1L1105.2 828.6L1102.5 826.0L1099.6 823.5L1096.4 820.9L1093.1 818.4L1089.5 815.8L1085.7 813.2L1081.7 810.6L1077.5 807.9L1073.0 805.2L1068.4 802.5L1063.5 799.8L1058.4 797.0L1053.1 794.1L1047.5 791.2L1041.8 788.3L1035.8 785.3L1029.6 782.3L1023.2 779.2L1016.6 776.0L1009.8 772.8L1002.7 769.5L995.5 766.2L988.0 762.8L980.3 759.4L972.4 756.0L964.2 752.6L955.9 749.2L947.3 745.8L938.5 742.4L929.5 739.1L920.3 735.9L910.9 732.9L901.2 730.1L891.4 727.5L881.3 725.2L871.0 723.3L860.5 722.0L849.7 721.3L848.4 721.3L847.1 721.4L845.8 721.4L844.5 721.4L843.2 721.5L841.9 721.6L840.6 721.6L839.4 721.7L838.2 721.8L837.0 721.9L835.8 722.0L834.6 722.2L833.5 722.3L832.4 722.5L831.4 722.6L830.3 722.8L829.3 723.0L828.4 723.2L827.5 723.4L826.6 723.6L825.8 723.8L825.0 724.0L824.3 724.2L823.6 724.5L823.0 724.7L822.4 725.0L821.8 725.2L821.4 725.5L820.9 725.7L820.6 726.0L820.3 726.3L820.0 726.5L819.8 726.8L819.7 727.1L819.6 727.3L819.5 727.6L819.5 1009.4L819.6 1010.0L819.7 1010.6L819.9 1011.1L820.3 1011.6L820.7 1012.2L821.1 1012.7L821.7 1013.2L822.3 1013.7L823.1 1014.1L823.9 1014.6L824.7 1015.0L825.7 1015.4L826.7 1015.8L827.7 1016.2L828.8 1016.5L830.0 1016.8L831.2 1017.0L832.4 1017.3L833.7 1017.5L835.0 1017.6L836.4 1017.7L837.7 1017.8L839.1 1017.9L840.4 1017.9L848.2 1017.9L856.0 1017.9L863.8 1017.9L871.6 1017.8L879.4 1017.8L887.2 1017.7L895.0 1017.7L902.7 1017.6L910.5 1017.5L918.3 1017.4L926.1 1017.3L933.9 1017.2L941.7 1017.1L949.5 1016.9L957.3 1016.8L965.1 1016.6L972.9 1016.4L980.6 1016.3L988.4 1016.1L996.2 1015.9L1004.0 1015.7L1011.8 1015.5L1019.6 1015.2L1027.4 1015.0L1035.2 1014.7L1043.0 1014.5L1050.7 1014.2L1058.5 1013.9L1066.3 1013.6L1074.1 1013.3L1081.9 1013.0L1089.7 1012.7L1097.5 1012.4L1105.3 1012.0L1113.1 1011.7L1120.8 1011.3Z" stroke="#00ffff"/><path d="M1108.3 1012.0L1108.3 860.5L1108.2 859.4L1107.9 857.7L1107.3 855.7L1106.6 853.6L1105.6 851.4L1104.5 849.1L1103.1 846.7L1101.5 844.4L1099.7 841.9L1097.6 839.5L1095.4 837.0L1093.0 834.5L1090.3 832.0L1087.4 829.5L1084.3 827.0L1081.0 824.4L1077.5 821.9L1073.8 819.3L1069.8 816.7L1065.7 814.1L1061.3 811.4L1056.7 808.8L1051.9 806.0L1046.9 803.3L1041.7 800.5L1036.3 797.6L1030.6 794.7L1024.7 791.8L1018.7 788.8L1012.4 785.7L1005.9 782.6L999.2 779.4L992.2 776.2L985.1 772.9L977.7 769.6L970.2 766.2L962.4 762.8L954.4 759.4L946.2 756.0L937.8 752.7L929.1 749.4L920.3 746.1L911.2 743.0L901.9 740.0L892.5 737.2L882.8 734.6L872.8 732.3L862.7 730.5L852.4 729.2L841.8 728.6L840.7 728.6L839.5 728.6L838.4 728.6L837.2 728.6L836.1 728.7L835.0 728.8L833.9 728.8L832.8 728.9L831.7 729.0L830.6 729.1L829.6 729.3L828.6 729.4L827.6 729.5L826.7 729.7L825.7 729.8L824.8 730.0L824.0 730.2L823.1 730.4L822.3 730.6L821.6 730.8L820.8 731.0L820.2 731.2L819.5 731.5L818.9 731.7L818.4 731.9L817.8 732.2L817.4 732.4L817.0 732.7L816.6 732.9L816.3 733.2L816.0 733.5L815.8 733.7L815.6 734.0L815.5 734.3L815.4 734.5L815.4 734.8L815.4 1010.4L815.4 1010.9L815.5 1011.5L815.8 1012.0L816.1 1012.5L816.5 1013.0L817.0 1013.5L817.5 1014.0L818.2 1014.5L818.9 1014.9L819.7 1015.3L820.6 1015.8L821.5 1016.2L822.5 1016.5L823.5 1016.9L824.7 1017.2L825.8 1017.4L827.0 1017.7L828.3 1017.9L829.5 1018.1L830.9 1018.3L832.2 1018.4L833.5 1018.5L834.9 1018.5L836.3 1018.5L843.8 1018.5L851.4 1018.5L858.9 1018.5L866.5 1018.5L874.0 1018.4L881.6 1018.4L889.2 1018.3L896.7 1018.2L904.3 1018.1L911.8 1018.0L919.4 1017.9L926.9 1017.8L934.5 1017.7L942.1 1017.5L949.6 1017.4L957.2 1017.2L964.7 1017.1L972.3 1016.9L979.8 1016.7L987.4 1016.5L995.0 1016.3L1002.5 1016.1L1010.1 1015.9L1017.6 1015.6L1025.2 1015.4L1032.7 1015.1L1040.3 1014.8L1047.9 1014.6L1055.4 1014.3L1063.0 1014.0L1070.5 1013.7L1078.1 1013.3L1085.6 1013.0L1093.2 1012.7L1100.8 1012.3L1108.3 1012.0Z" stroke="#0066ff"/><path d="M1097.2 1012.6L1097.2 864.0L1097.1 862.8L1096.8 861.2L1096.2 859.3L1095.5 857.2L1094.6 855.1L1093.4 852.8L1092.1 850.5L1090.5 848.2L1088.8 845.8L1086.8 843.4L1084.6 841.0L1082.2 838.6L1079.6 836.1L1076.8 833.7L1073.8 831.2L1070.6 828.7L1067.2 826.3L1063.5 823.7L1059.7 821.2L1055.6 818.6L1051.4 816.1L1046.9 813.4L1042.3 810.8L1037.4 808.1L1032.3 805.4L1027.0 802.6L1021.5 799.7L1015.8 796.9L1009.9 793.9L1003.7 790.9L997.4 787.9L990.9 784.8L984.1 781.6L977.2 778.4L970.0 775.2L962.6 771.9L955.1 768.6L947.3 765.3L939.3 762.0L931.1 758.7L922.7 755.4L914.1 752.3L905.2 749.2L896.2 746.3L887.0 743.5L877.5 741.0L867.9 738.8L858.0 737.0L847.9 735.7L837.7 735.1L836.6 735.1L835.5 735.2L834.4 735.2L833.3 735.2L832.2 735.3L831.2 735.3L830.1 735.4L829.1 735.5L828.1 735.5L827.1 735.6L826.1 735.7L825.1 735.8L824.2 736.0L823.3 736.1L822.4 736.2L821.5 736.4L820.7 736.5L819.9 736.7L819.2 736.9L818.4 737.0L817.8 737.2L817.1 737.4L816.5 737.6L815.9 737.8L815.4 738.0L814.9 738.2L814.5 738.4L814.1 738.6L813.7 738.9L813.4 739.1L813.2 739.3L813.0 739.5L812.8 739.8L812.7 740.0L812.6 740.2L812.6 740.5L812.6 1011.3L812.6 1011.8L812.8 1012.4L813.0 1012.9L813.3 1013.4L813.7 1013.8L814.2 1014.3L814.7 1014.8L815.4 1015.2L816.1 1015.7L816.9 1016.1L817.8 1016.5L818.7 1016.9L819.7 1017.2L820.8 1017.5L821.9 1017.8L823.0 1018.1L824.2 1018.4L825.5 1018.6L826.8 1018.7L828.1 1018.9L829.4 1019.0L830.7 1019.1L832.1 1019.1L833.5 1019.2L840.8 1019.2L848.1 1019.1L855.4 1019.1L862.8 1019.1L870.1 1019.0L877.4 1019.0L884.7 1018.9L892.1 1018.8L899.4 1018.8L906.7 1018.7L914.0 1018.6L921.4 1018.4L928.7 1018.3L936.0 1018.2L943.3 1018.0L950.7 1017.9L958.0 1017.7L965.3 1017.5L972.6 1017.3L980.0 1017.1L987.3 1016.9L994.6 1016.7L1001.9 1016.5L1009.3 1016.2L1016.6 1016.0L1023.9 1015.7L1031.2 1015.5L1038.6 1015.2L1045.9 1014.9L1053.2 1014.6L1060.5 1014.3L1067.9 1014.0L1075.2 1013.6L1082.5 1013.3L1089.8 1012.9L1097.2 1012.6Z" stroke="#3300ff"/><path d="M1088.3 1013.2L1088.3 866.5L1088.2 865.4L1087.9 863.7L1087.4 861.9L1086.7 859.9L1085.8 857.8L1084.7 855.6L1083.3 853.3L1081.8 851.0L1080.0 848.7L1078.1 846.4L1075.9 844.0L1073.6 841.6L1071.0 839.3L1068.3 836.9L1065.3 834.5L1062.1 832.0L1058.7 829.6L1055.1 827.1L1051.3 824.6L1047.3 822.1L1043.1 819.6L1038.7 817.1L1034.1 814.5L1029.3 811.8L1024.3 809.1L1019.1 806.4L1013.6 803.7L1008.0 800.8L1002.1 798.0L996.1 795.0L989.8 792.0L983.4 789.0L976.7 785.9L969.8 782.8L962.8 779.6L955.5 776.4L948.0 773.2L940.3 769.9L932.4 766.7L924.3 763.5L916.0 760.3L907.5 757.2L898.8 754.2L889.9 751.4L880.8 748.7L871.4 746.2L861.9 744.1L852.2 742.3L842.2 741.0L832.1 740.5L831.1 740.5L830.1 740.5L829.1 740.5L828.1 740.5L827.2 740.6L826.2 740.6L825.2 740.7L824.3 740.8L823.4 740.8L822.5 740.9L821.6 741.0L820.7 741.1L819.9 741.2L819.0 741.4L818.2 741.5L817.5 741.6L816.7 741.8L816.0 741.9L815.3 742.1L814.7 742.3L814.0 742.4L813.4 742.6L812.9 742.8L812.4 743.0L811.9 743.2L811.5 743.4L811.1 743.6L810.7 743.8L810.4 744.0L810.1 744.2L809.9 744.4L809.7 744.6L809.5 744.8L809.4 745.0L809.4 745.3L809.3 745.5L809.3 1012.0L809.4 1012.4L809.5 1012.9L809.7 1013.4L810.0 1013.9L810.4 1014.4L810.9 1014.8L811.5 1015.3L812.1 1015.7L812.9 1016.1L813.6 1016.5L814.5 1016.9L815.5 1017.3L816.4 1017.6L817.5 1017.9L818.6 1018.2L819.8 1018.5L821.0 1018.7L822.2 1018.9L823.5 1019.1L824.8 1019.2L826.1 1019.3L827.5 1019.4L828.9 1019.5L830.2 1019.5L837.4 1019.5L844.6 1019.5L851.7 1019.4L858.9 1019.4L866.1 1019.4L873.2 1019.3L880.4 1019.2L887.6 1019.2L894.8 1019.1L901.9 1019.0L909.1 1018.9L916.3 1018.8L923.4 1018.7L930.6 1018.5L937.8 1018.4L944.9 1018.2L952.1 1018.1L959.3 1017.9L966.5 1017.7L973.6 1017.5L980.8 1017.3L988.0 1017.1L995.1 1016.9L1002.3 1016.7L1009.5 1016.5L1016.6 1016.2L1023.8 1016.0L1031.0 1015.7L1038.2 1015.4L1045.3 1015.1L1052.5 1014.8L1059.7 1014.5L1066.8 1014.2L1074.0 1013.9L1081.2 1013.6L1088.3 1013.2Z" stroke="#cc00ff"/><path d="M1080.0 1014.1L1080.0 869.3L1079.9 868.2L1079.6 866.6L1079.1 864.8L1078.4 862.8L1077.5 860.7L1076.4 858.6L1075.0 856.4L1073.5 854.1L1071.8 851.9L1069.9 849.6L1067.8 847.2L1065.5 844.9L1062.9 842.6L1060.2 840.2L1057.3 837.8L1054.2 835.4L1050.8 833.0L1047.3 830.6L1043.6 828.2L1039.7 825.7L1035.5 823.3L1031.2 820.7L1026.6 818.2L1021.9 815.6L1017.0 813.0L1011.8 810.3L1006.5 807.6L1000.9 804.8L995.2 802.0L989.2 799.1L983.1 796.2L976.7 793.2L970.2 790.2L963.4 787.1L956.5 784.0L949.3 780.8L941.9 777.6L934.4 774.5L926.6 771.3L918.7 768.1L910.5 765.0L902.1 762.0L893.5 759.0L884.8 756.2L875.8 753.6L866.6 751.2L857.2 749.0L847.7 747.3L837.9 746.0L827.9 745.5L827.0 745.5L826.1 745.5L825.2 745.5L824.4 745.6L823.5 745.6L822.6 745.7L821.8 745.7L820.9 745.8L820.1 745.9L819.3 745.9L818.5 746.0L817.7 746.2L816.9 746.3L816.2 746.4L815.5 746.5L814.8 746.7L814.1 746.8L813.5 746.9L812.8 747.1L812.3 747.3L811.7 747.4L811.2 747.6L810.7 747.8L810.2 748.0L809.8 748.2L809.4 748.4L809.0 748.6L808.7 748.8L808.4 749.0L808.2 749.2L808.0 749.4L807.8 749.6L807.6 749.8L807.6 750.1L807.5 750.3L807.5 750.5L807.5 1012.6L807.5 1013.1L807.7 1013.5L807.9 1014.0L808.2 1014.4L808.6 1014.9L809.1 1015.3L809.6 1015.8L810.3 1016.2L811.0 1016.6L811.8 1017.0L812.7 1017.3L813.6 1017.7L814.6 1018.0L815.6 1018.3L816.8 1018.6L817.9 1018.8L819.1 1019.0L820.4 1019.2L821.7 1019.4L823.0 1019.5L824.3 1019.7L825.6 1019.7L827.0 1019.8L828.4 1019.8L835.4 1019.8L842.3 1019.8L849.3 1019.8L856.3 1019.7L863.3 1019.7L870.3 1019.6L877.3 1019.6L884.3 1019.5L891.3 1019.4L898.3 1019.4L905.3 1019.3L912.2 1019.2L919.2 1019.1L926.2 1018.9L933.2 1018.8L940.2 1018.7L947.2 1018.5L954.2 1018.4L961.2 1018.2L968.2 1018.1L975.1 1017.9L982.1 1017.7L989.1 1017.5L996.1 1017.3L1003.1 1017.1L1010.1 1016.8L1017.1 1016.6L1024.1 1016.4L1031.1 1016.1L1038.1 1015.9L1045.0 1015.6L1052.0 1015.3L1059.0 1015.1L1066.0 1014.8L1073.0 1014.5L1080.0 1014.1Z" stroke="#ff0099"/></g>
<g fill="none" stroke-width="2.7" stroke-linejoin="round" stroke-linecap="round"><path d="M1910.4 1006.6L1910.4 826.0L1910.2 824.5L1909.8 822.3L1909.1 819.7L1908.2 816.9L1906.9 814.0L1905.4 811.0L1903.6 807.9L1901.6 804.8L1899.3 801.6L1896.7 798.3L1893.8 795.1L1890.6 791.8L1887.2 788.5L1883.5 785.2L1879.6 781.9L1875.3 778.6L1870.8 775.2L1866.0 771.8L1861.0 768.4L1855.6 764.9L1850.0 761.5L1844.1 757.9L1838.0 754.3L1831.5 750.7L1824.8 747.0L1817.9 743.3L1810.6 739.5L1803.1 735.6L1795.3 731.6L1787.2 727.6L1778.9 723.5L1770.2 719.3L1761.3 715.0L1752.2 710.7L1742.7 706.3L1733.0 701.9L1723.0 697.5L1712.8 693.0L1702.2 688.5L1691.4 684.1L1680.3 679.7L1669.0 675.5L1657.3 671.3L1645.4 667.4L1633.3 663.7L1620.8 660.3L1608.1 657.4L1595.1 654.9L1581.8 653.2L1568.3 652.4L1566.5 652.4L1564.7 652.4L1562.9 652.5L1561.2 652.6L1559.4 652.7L1557.7 652.8L1556.0 653.0L1554.3 653.1L1552.6 653.3L1551.0 653.6L1549.4 653.8L1547.8 654.1L1546.3 654.4L1544.8 654.7L1543.4 655.0L1542.0 655.4L1540.7 655.7L1539.4 656.1L1538.1 656.5L1537.0 657.0L1535.9 657.4L1534.8 657.9L1533.8 658.3L1532.9 658.8L1532.0 659.3L1531.2 659.8L1530.5 660.3L1529.9 660.8L1529.3 661.4L1528.8 661.9L1528.4 662.4L1528.0 663.0L1527.8 663.5L1527.6 664.1L1527.5 664.7L1527.4 665.2L1527.4 1003.8L1527.5 1004.5L1527.6 1005.2L1527.8 1005.8L1528.1 1006.5L1528.5 1007.1L1529.0 1007.8L1529.6 1008.4L1530.2 1009.0L1530.9 1009.6L1531.7 1010.1L1532.6 1010.6L1533.5 1011.1L1534.5 1011.6L1535.6 1012.0L1536.7 1012.4L1537.9 1012.8L1539.1 1013.1L1540.3 1013.4L1541.6 1013.6L1542.9 1013.8L1544.2 1014.0L1545.6 1014.1L1546.9 1014.1L1548.3 1014.1L1558.4 1014.1L1568.4 1014.1L1578.5 1014.1L1588.5 1014.1L1598.6 1014.0L1608.6 1013.9L1618.7 1013.9L1628.8 1013.8L1638.8 1013.7L1648.9 1013.6L1658.9 1013.4L1669.0 1013.3L1679.0 1013.2L1689.1 1013.0L1699.2 1012.8L1709.2 1012.7L1719.3 1012.5L1729.3 1012.3L1739.4 1012.1L1749.4 1011.8L1759.5 1011.6L1769.6 1011.3L1779.6 1011.1L1789.7 1010.8L1799.7 1010.5L1809.8 1010.2L1819.8 1009.9L1829.9 1009.6L1840.0 1009.3L1850.0 1008.9L1860.1 1008.6L1870.1 1008.2L1880.2 1007.8L1890.2 1007.4L1900.3 1007.0L1910.4 1006.6Z" stroke="#000000"/><path d="M1878.8 1007.6L1878.8 833.3L1878.7 831.8L1878.3 829.7L1877.6 827.3L1876.7 824.7L1875.5 822.0L1874.1 819.2L1872.4 816.3L1870.5 813.3L1868.2 810.4L1865.8 807.3L1863.0 804.3L1860.0 801.2L1856.8 798.2L1853.3 795.1L1849.5 792.0L1845.5 788.8L1841.2 785.7L1836.6 782.5L1831.8 779.3L1826.7 776.1L1821.4 772.9L1815.8 769.6L1809.9 766.2L1803.8 762.8L1797.4 759.4L1790.8 755.9L1783.9 752.3L1776.8 748.7L1769.3 745.0L1761.7 741.2L1753.7 737.3L1745.5 733.4L1737.1 729.4L1728.3 725.4L1719.4 721.3L1710.1 717.2L1700.6 713.0L1690.9 708.9L1680.8 704.7L1670.5 700.5L1660.0 696.5L1649.2 692.5L1638.1 688.6L1626.8 684.9L1615.2 681.5L1603.4 678.3L1591.3 675.5L1578.9 673.3L1566.3 671.6L1553.4 670.9L1551.9 670.9L1550.3 670.9L1548.8 671.0L1547.2 671.0L1545.7 671.1L1544.2 671.3L1542.7 671.4L1541.3 671.6L1539.8 671.8L1538.4 672.0L1537.0 672.2L1535.7 672.5L1534.3 672.7L1533.0 673.0L1531.8 673.3L1530.6 673.7L1529.4 674.0L1528.3 674.4L1527.2 674.7L1526.2 675.1L1525.2 675.5L1524.3 675.9L1523.5 676.4L1522.7 676.8L1521.9 677.3L1521.2 677.7L1520.6 678.2L1520.0 678.7L1519.5 679.2L1519.1 679.7L1518.7 680.2L1518.4 680.7L1518.2 681.2L1518.0 681.7L1517.9 682.3L1517.9 682.8L1517.9 1005.1L1517.9 1005.7L1518.1 1006.4L1518.3 1007.1L1518.6 1007.7L1519.0 1008.4L1519.5 1009.0L1520.1 1009.6L1520.7 1010.2L1521.4 1010.8L1522.2 1011.4L1523.1 1011.9L1524.0 1012.4L1525.0 1012.8L1526.1 1013.3L1527.2 1013.7L1528.3 1014.0L1529.6 1014.3L1530.8 1014.6L1532.1 1014.9L1533.4 1015.1L1534.7 1015.2L1536.1 1015.3L1537.4 1015.4L1538.8 1015.4L1548.2 1015.4L1557.7 1015.4L1567.1 1015.3L1576.6 1015.3L1586.0 1015.3L1595.5 1015.2L1604.9 1015.1L1614.3 1015.0L1623.8 1014.9L1633.2 1014.8L1642.7 1014.7L1652.1 1014.5L1661.6 1014.4L1671.0 1014.2L1680.5 1014.0L1689.9 1013.9L1699.3 1013.7L1708.8 1013.4L1718.2 1013.2L1727.7 1013.0L1737.1 1012.7L1746.6 1012.5L1756.0 1012.2L1765.5 1011.9L1774.9 1011.6L1784.3 1011.3L1793.8 1011.0L1803.2 1010.7L1812.7 1010.3L1822.1 1010.0L1831.6 1009.6L1841.0 1009.2L1850.5 1008.8L1859.9 1008.4L1869.3 1008.0L1878.8 1007.6Z" stroke="#ff0000"/><path d="M1847.2 1010.1L1847.2 835.1L1847.1 833.8L1846.7 832.0L1846.1 829.8L1845.3 827.5L1844.2 825.0L1842.8 822.5L1841.3 819.9L1839.4 817.3L1837.4 814.6L1835.1 811.9L1832.5 809.2L1829.7 806.4L1826.7 803.6L1823.4 800.9L1819.9 798.1L1816.1 795.3L1812.1 792.5L1807.8 789.6L1803.3 786.7L1798.6 783.8L1793.6 780.9L1788.4 778.0L1782.9 775.0L1777.2 771.9L1771.2 768.8L1765.0 765.7L1758.6 762.5L1751.9 759.2L1745.0 755.9L1737.8 752.5L1730.4 749.0L1722.7 745.5L1714.8 742.0L1706.6 738.3L1698.3 734.7L1689.6 731.0L1680.7 727.2L1671.6 723.5L1662.3 719.7L1652.6 716.0L1642.8 712.3L1632.7 708.8L1622.4 705.3L1611.8 702.0L1601.0 698.9L1589.9 696.0L1578.6 693.6L1567.0 691.5L1555.2 690.0L1543.2 689.4L1541.7 689.4L1540.2 689.4L1538.7 689.5L1537.2 689.5L1535.7 689.6L1534.2 689.7L1532.7 689.9L1531.3 690.0L1529.9 690.2L1528.5 690.4L1527.1 690.6L1525.8 690.9L1524.5 691.1L1523.2 691.4L1522.0 691.7L1520.8 692.0L1519.7 692.3L1518.6 692.7L1517.5 693.0L1516.5 693.4L1515.6 693.8L1514.7 694.2L1513.8 694.6L1513.0 695.0L1512.3 695.4L1511.6 695.9L1511.0 696.3L1510.5 696.8L1510.0 697.3L1509.6 697.7L1509.2 698.2L1508.9 698.7L1508.7 699.2L1508.5 699.7L1508.4 700.2L1508.4 700.6L1508.4 1006.3L1508.4 1007.0L1508.6 1007.7L1508.8 1008.3L1509.1 1009.0L1509.5 1009.6L1510.0 1010.3L1510.5 1010.9L1511.2 1011.5L1511.9 1012.1L1512.7 1012.6L1513.6 1013.1L1514.5 1013.6L1515.5 1014.1L1516.6 1014.5L1517.7 1014.9L1518.8 1015.3L1520.0 1015.6L1521.3 1015.9L1522.6 1016.1L1523.9 1016.3L1525.2 1016.5L1526.5 1016.6L1527.9 1016.6L1529.3 1016.7L1538.1 1016.7L1546.9 1016.6L1555.8 1016.6L1564.6 1016.6L1573.4 1016.5L1582.3 1016.5L1591.1 1016.4L1599.9 1016.3L1608.8 1016.2L1617.6 1016.1L1626.4 1016.0L1635.3 1015.9L1644.1 1015.8L1652.9 1015.7L1661.8 1015.5L1670.6 1015.4L1679.4 1015.2L1688.3 1015.0L1697.1 1014.8L1705.9 1014.6L1714.7 1014.4L1723.6 1014.2L1732.4 1014.0L1741.2 1013.7L1750.1 1013.5L1758.9 1013.2L1767.7 1013.0L1776.6 1012.7L1785.4 1012.4L1794.2 1012.1L1803.1 1011.8L1811.9 1011.5L1820.7 1011.1L1829.6 1010.8L1838.4 1010.4L1847.2 1010.1Z" stroke="#ff9900"/><path d="M1816.6 1011.3L1816.6 843.9L1816.5 842.7L1816.1 841.0L1815.6 839.0L1814.8 836.8L1813.8 834.5L1812.5 832.2L1811.0 829.7L1809.3 827.3L1807.4 824.8L1805.2 822.3L1802.8 819.7L1800.2 817.2L1797.4 814.6L1794.3 812.0L1791.0 809.4L1787.5 806.8L1783.8 804.2L1779.8 801.5L1775.6 798.8L1771.1 796.2L1766.5 793.4L1761.6 790.7L1756.5 787.9L1751.1 785.0L1745.6 782.2L1739.8 779.2L1733.8 776.2L1727.5 773.2L1721.0 770.1L1714.3 766.9L1707.4 763.7L1700.2 760.5L1692.9 757.1L1685.2 753.8L1677.4 750.4L1669.3 746.9L1661.0 743.4L1652.5 739.9L1643.8 736.4L1634.8 733.0L1625.6 729.6L1616.2 726.2L1606.5 723.0L1596.6 719.9L1586.5 717.0L1576.2 714.4L1565.6 712.1L1554.8 710.2L1543.8 708.8L1532.5 708.2L1531.0 708.2L1529.6 708.2L1528.1 708.3L1526.6 708.3L1525.2 708.4L1523.8 708.5L1522.3 708.6L1520.9 708.8L1519.6 708.9L1518.2 709.1L1516.9 709.3L1515.6 709.5L1514.3 709.7L1513.1 710.0L1511.9 710.2L1510.7 710.5L1509.6 710.8L1508.6 711.1L1507.5 711.4L1506.6 711.8L1505.6 712.1L1504.8 712.5L1503.9 712.8L1503.2 713.2L1502.5 713.6L1501.8 714.0L1501.2 714.4L1500.7 714.8L1500.2 715.2L1499.8 715.6L1499.4 716.0L1499.2 716.5L1498.9 716.9L1498.8 717.3L1498.7 717.8L1498.6 718.2L1498.6 1007.6L1498.7 1008.2L1498.8 1008.9L1499.0 1009.6L1499.4 1010.2L1499.7 1010.9L1500.2 1011.5L1500.8 1012.1L1501.4 1012.7L1502.2 1013.3L1503.0 1013.9L1503.8 1014.4L1504.8 1014.9L1505.8 1015.3L1506.8 1015.8L1507.9 1016.2L1509.1 1016.5L1510.3 1016.8L1511.5 1017.1L1512.8 1017.4L1514.1 1017.6L1515.5 1017.7L1516.8 1017.8L1518.2 1017.9L1519.5 1017.9L1527.8 1017.9L1536.0 1017.9L1544.3 1017.9L1552.5 1017.8L1560.8 1017.8L1569.0 1017.7L1577.3 1017.7L1585.5 1017.6L1593.8 1017.5L1602.0 1017.4L1610.3 1017.3L1618.5 1017.2L1626.8 1017.1L1635.1 1016.9L1643.3 1016.8L1651.6 1016.6L1659.8 1016.4L1668.1 1016.3L1676.3 1016.1L1684.6 1015.9L1692.8 1015.7L1701.1 1015.5L1709.3 1015.2L1717.6 1015.0L1725.8 1014.7L1734.1 1014.5L1742.3 1014.2L1750.6 1013.9L1758.8 1013.6L1767.1 1013.3L1775.3 1013.0L1783.6 1012.7L1791.8 1012.4L1800.1 1012.0L1808.3 1011.7L1816.6 1011.3Z" stroke="#ccff00"/><path d="M1785.0 1012.6L1785.0 858.7L1784.9 857.5L1784.6 855.8L1784.1 853.8L1783.3 851.7L1782.4 849.5L1781.2 847.2L1779.9 844.9L1778.3 842.5L1776.5 840.1L1774.5 837.6L1772.3 835.2L1769.9 832.7L1767.3 830.2L1764.4 827.7L1761.4 825.2L1758.1 822.6L1754.7 820.1L1751.0 817.5L1747.1 814.9L1743.0 812.3L1738.7 809.7L1734.2 807.0L1729.4 804.3L1724.5 801.5L1719.3 798.7L1714.0 795.9L1708.4 793.0L1702.6 790.1L1696.7 787.1L1690.5 784.0L1684.0 780.9L1677.4 777.7L1670.6 774.5L1663.5 771.2L1656.3 767.9L1648.8 764.5L1641.2 761.2L1633.3 757.8L1625.2 754.4L1616.9 751.1L1608.4 747.7L1599.7 744.5L1590.7 741.4L1581.6 738.4L1572.2 735.6L1562.7 733.0L1552.9 730.8L1542.9 728.9L1532.7 727.6L1522.3 727.0L1520.9 727.0L1519.5 727.0L1518.0 727.1L1516.6 727.1L1515.2 727.2L1513.8 727.3L1512.5 727.4L1511.1 727.5L1509.8 727.7L1508.5 727.8L1507.2 728.0L1505.9 728.2L1504.7 728.4L1503.5 728.6L1502.4 728.9L1501.3 729.1L1500.2 729.4L1499.2 729.6L1498.2 729.9L1497.2 730.2L1496.3 730.5L1495.5 730.9L1494.7 731.2L1494.0 731.5L1493.3 731.9L1492.7 732.2L1492.1 732.6L1491.6 733.0L1491.1 733.3L1490.7 733.7L1490.4 734.1L1490.1 734.5L1489.9 734.9L1489.7 735.3L1489.6 735.7L1489.6 736.1L1489.6 1008.8L1489.6 1009.5L1489.8 1010.1L1490.0 1010.8L1490.3 1011.4L1490.7 1012.0L1491.2 1012.7L1491.7 1013.3L1492.4 1013.8L1493.1 1014.4L1493.9 1014.9L1494.8 1015.4L1495.7 1015.9L1496.7 1016.4L1497.8 1016.8L1498.9 1017.2L1500.0 1017.5L1501.2 1017.8L1502.5 1018.1L1503.8 1018.3L1505.1 1018.5L1506.4 1018.7L1507.7 1018.8L1509.1 1018.8L1510.5 1018.9L1518.1 1018.8L1525.7 1018.8L1533.4 1018.8L1541.0 1018.8L1548.6 1018.7L1556.2 1018.7L1563.9 1018.6L1571.5 1018.5L1579.1 1018.5L1586.7 1018.4L1594.4 1018.3L1602.0 1018.2L1609.6 1018.0L1617.2 1017.9L1624.9 1017.8L1632.5 1017.6L1640.1 1017.5L1647.8 1017.3L1655.4 1017.1L1663.0 1016.9L1670.6 1016.7L1678.3 1016.5L1685.9 1016.3L1693.5 1016.1L1701.1 1015.8L1708.8 1015.6L1716.4 1015.3L1724.0 1015.1L1731.6 1014.8L1739.3 1014.5L1746.9 1014.2L1754.5 1013.9L1762.1 1013.6L1769.8 1013.3L1777.4 1012.9L1785.0 1012.6Z" stroke="#33ff00"/><path d="M1753.5 1013.8L1753.5 862.1L1753.4 861.1L1753.1 859.6L1752.6 857.9L1751.9 856.0L1751.0 854.1L1749.9 852.0L1748.6 850.0L1747.1 847.9L1745.5 845.7L1743.6 843.6L1741.5 841.4L1739.2 839.2L1736.7 837.0L1734.1 834.8L1731.2 832.6L1728.1 830.4L1724.9 828.1L1721.4 825.9L1717.7 823.6L1713.9 821.3L1709.8 819.0L1705.6 816.6L1701.1 814.2L1696.5 811.8L1691.6 809.3L1686.6 806.8L1681.3 804.3L1675.9 801.7L1670.2 799.0L1664.4 796.3L1658.4 793.6L1652.1 790.8L1645.7 788.0L1639.1 785.1L1632.2 782.1L1625.2 779.2L1618.0 776.2L1610.6 773.2L1602.9 770.3L1595.1 767.3L1587.1 764.4L1578.9 761.5L1570.5 758.8L1561.9 756.1L1553.1 753.7L1544.1 751.4L1534.9 749.4L1525.5 747.8L1515.9 746.6L1506.1 746.1L1504.9 746.1L1503.8 746.1L1502.7 746.2L1501.6 746.2L1500.5 746.3L1499.4 746.4L1498.3 746.5L1497.3 746.6L1496.2 746.7L1495.2 746.8L1494.2 747.0L1493.2 747.1L1492.2 747.3L1491.3 747.5L1490.4 747.7L1489.5 747.9L1488.7 748.1L1487.8 748.3L1487.1 748.5L1486.3 748.8L1485.6 749.1L1485.0 749.3L1484.3 749.6L1483.8 749.9L1483.2 750.2L1482.7 750.5L1482.3 750.8L1481.9 751.1L1481.5 751.4L1481.2 751.7L1480.9 752.0L1480.7 752.3L1480.5 752.6L1480.4 753.0L1480.3 753.3L1480.3 753.6L1480.3 1010.4L1480.3 1011.0L1480.5 1011.6L1480.7 1012.2L1481.0 1012.8L1481.4 1013.4L1481.9 1014.0L1482.5 1014.5L1483.1 1015.1L1483.8 1015.6L1484.6 1016.1L1485.5 1016.6L1486.4 1017.0L1487.4 1017.5L1488.5 1017.8L1489.6 1018.2L1490.7 1018.5L1492.0 1018.8L1493.2 1019.1L1494.5 1019.3L1495.8 1019.5L1497.1 1019.6L1498.5 1019.7L1499.8 1019.8L1501.2 1019.8L1508.2 1019.8L1515.2 1019.8L1522.2 1019.8L1529.2 1019.7L1536.2 1019.7L1543.2 1019.6L1550.2 1019.6L1557.3 1019.5L1564.3 1019.4L1571.3 1019.3L1578.3 1019.2L1585.3 1019.1L1592.3 1019.0L1599.3 1018.9L1606.3 1018.8L1613.3 1018.6L1620.3 1018.5L1627.3 1018.3L1634.3 1018.1L1641.3 1018.0L1648.4 1017.8L1655.4 1017.6L1662.4 1017.4L1669.4 1017.1L1676.4 1016.9L1683.4 1016.7L1690.4 1016.4L1697.4 1016.2L1704.4 1015.9L1711.4 1015.7L1718.4 1015.4L1725.4 1015.1L1732.4 1014.8L1739.5 1014.5L1746.5 1014.2L1753.5 1013.8Z" stroke="#00ff66"/><path d="M1723.3 1014.8L1723.3 872.8L1723.2 871.8L1722.9 870.4L1722.5 868.8L1721.8 867.1L1721.0 865.3L1720.0 863.4L1718.8 861.5L1717.4 859.5L1715.9 857.6L1714.1 855.6L1712.2 853.5L1710.1 851.5L1707.8 849.5L1705.4 847.4L1702.7 845.3L1699.9 843.3L1696.8 841.2L1693.6 839.1L1690.3 837.0L1686.7 834.8L1682.9 832.6L1679.0 830.5L1674.9 828.2L1670.6 826.0L1666.1 823.7L1661.4 821.4L1656.6 819.0L1651.5 816.6L1646.3 814.1L1640.9 811.6L1635.3 809.1L1629.6 806.5L1623.6 803.8L1617.5 801.1L1611.2 798.4L1604.7 795.7L1598.0 792.9L1591.1 790.1L1584.1 787.4L1576.8 784.6L1569.4 781.9L1561.8 779.3L1554.0 776.7L1546.1 774.2L1537.9 772.0L1529.6 769.9L1521.1 768.0L1512.4 766.5L1503.5 765.4L1494.5 764.9L1493.4 764.9L1492.4 764.9L1491.4 765.0L1490.4 765.0L1489.3 765.1L1488.3 765.2L1487.3 765.3L1486.4 765.4L1485.4 765.5L1484.5 765.6L1483.5 765.7L1482.6 765.9L1481.7 766.0L1480.9 766.2L1480.0 766.4L1479.2 766.6L1478.5 766.8L1477.7 767.0L1477.0 767.3L1476.3 767.5L1475.7 767.7L1475.1 768.0L1474.5 768.3L1474.0 768.5L1473.5 768.8L1473.0 769.1L1472.6 769.4L1472.2 769.7L1471.9 770.0L1471.6 770.3L1471.3 770.6L1471.1 770.9L1471.0 771.2L1470.9 771.5L1470.8 771.8L1470.8 772.1L1470.8 1012.0L1470.8 1012.5L1471.0 1013.1L1471.2 1013.6L1471.5 1014.1L1471.9 1014.7L1472.4 1015.2L1472.9 1015.7L1473.6 1016.2L1474.3 1016.7L1475.1 1017.1L1476.0 1017.5L1476.9 1017.9L1477.9 1018.3L1479.0 1018.7L1480.1 1019.0L1481.2 1019.3L1482.4 1019.5L1483.7 1019.8L1485.0 1020.0L1486.3 1020.1L1487.6 1020.3L1488.9 1020.3L1490.3 1020.4L1491.7 1020.4L1498.1 1020.4L1504.5 1020.4L1511.0 1020.4L1517.4 1020.3L1523.8 1020.3L1530.3 1020.3L1536.7 1020.2L1543.1 1020.1L1549.6 1020.1L1556.0 1020.0L1562.4 1019.9L1568.9 1019.8L1575.3 1019.7L1581.7 1019.6L1588.2 1019.4L1594.6 1019.3L1601.1 1019.2L1607.5 1019.0L1613.9 1018.8L1620.4 1018.7L1626.8 1018.5L1633.2 1018.3L1639.7 1018.1L1646.1 1017.9L1652.5 1017.7L1659.0 1017.5L1665.4 1017.2L1671.8 1017.0L1678.3 1016.8L1684.7 1016.5L1691.1 1016.2L1697.6 1016.0L1704.0 1015.7L1710.4 1015.4L1716.9 1015.1L1723.3 1014.8Z" stroke="#00ffff"/><path d="M1692.7 1015.4L1692.7 883.7L1692.6 882.8L1692.3 881.5L1691.9 880.0L1691.3 878.4L1690.5 876.7L1689.6 875.0L1688.5 873.2L1687.2 871.3L1685.8 869.5L1684.2 867.6L1682.4 865.7L1680.5 863.8L1678.4 861.9L1676.1 859.9L1673.6 858.0L1671.0 856.0L1668.2 854.1L1665.2 852.1L1662.1 850.1L1658.8 848.1L1655.3 846.1L1651.7 844.0L1647.9 841.9L1643.9 839.8L1639.7 837.7L1635.4 835.5L1630.9 833.2L1626.3 831.0L1621.5 828.7L1616.5 826.3L1611.3 823.9L1606.0 821.5L1600.5 819.0L1594.8 816.5L1588.9 813.9L1582.9 811.4L1576.8 808.8L1570.4 806.2L1563.9 803.6L1557.2 801.0L1550.3 798.4L1543.3 795.9L1536.1 793.5L1528.8 791.2L1521.2 789.1L1513.5 787.1L1505.6 785.4L1497.6 784.0L1489.4 782.9L1481.0 782.5L1480.1 782.5L1479.3 782.5L1478.4 782.5L1477.5 782.6L1476.7 782.6L1475.8 782.7L1475.0 782.8L1474.2 782.9L1473.4 783.0L1472.6 783.1L1471.8 783.2L1471.0 783.4L1470.3 783.5L1469.6 783.7L1468.8 783.8L1468.2 784.0L1467.5 784.2L1466.9 784.4L1466.3 784.6L1465.7 784.8L1465.2 785.0L1464.7 785.3L1464.2 785.5L1463.7 785.8L1463.3 786.0L1462.9 786.3L1462.6 786.5L1462.2 786.8L1462.0 787.1L1461.7 787.4L1461.5 787.6L1461.3 787.9L1461.2 788.2L1461.1 788.5L1461.1 788.8L1461.0 789.1L1461.0 1013.5L1461.1 1014.0L1461.2 1014.5L1461.4 1014.9L1461.8 1015.4L1462.1 1015.8L1462.6 1016.3L1463.2 1016.7L1463.8 1017.1L1464.6 1017.5L1465.4 1017.9L1466.2 1018.3L1467.2 1018.6L1468.2 1018.9L1469.2 1019.2L1470.3 1019.5L1471.5 1019.8L1472.7 1020.0L1473.9 1020.2L1475.2 1020.4L1476.5 1020.5L1477.9 1020.6L1479.2 1020.7L1480.6 1020.7L1481.9 1020.7L1487.8 1020.7L1493.6 1020.7L1499.5 1020.7L1505.3 1020.7L1511.2 1020.6L1517.1 1020.6L1522.9 1020.5L1528.8 1020.5L1534.6 1020.4L1540.5 1020.3L1546.3 1020.2L1552.2 1020.1L1558.0 1020.0L1563.9 1019.9L1569.7 1019.8L1575.6 1019.7L1581.4 1019.5L1587.3 1019.4L1593.1 1019.2L1599.0 1019.1L1604.9 1018.9L1610.7 1018.7L1616.6 1018.6L1622.4 1018.4L1628.3 1018.2L1634.1 1018.0L1640.0 1017.7L1645.8 1017.5L1651.7 1017.3L1657.5 1017.0L1663.4 1016.8L1669.2 1016.5L1675.1 1016.3L1681.0 1016.0L1686.8 1015.7L1692.7 1015.4Z" stroke="#0066ff"/><path d="M1683.4 1016.3L1683.4 888.4L1683.3 887.5L1683.0 886.3L1682.6 884.8L1682.0 883.2L1681.3 881.5L1680.4 879.8L1679.3 878.0L1678.1 876.2L1676.6 874.3L1675.1 872.5L1673.3 870.6L1671.4 868.7L1669.3 866.8L1667.1 864.9L1664.7 863.0L1662.1 861.1L1659.3 859.1L1656.4 857.2L1653.3 855.2L1650.1 853.2L1646.7 851.2L1643.1 849.2L1639.4 847.1L1635.5 845.1L1631.4 842.9L1627.1 840.8L1622.7 838.6L1618.2 836.3L1613.4 834.1L1608.5 831.7L1603.4 829.4L1598.2 827.0L1592.8 824.5L1587.2 822.0L1581.5 819.5L1575.6 817.0L1569.5 814.4L1563.3 811.8L1556.9 809.3L1550.3 806.7L1543.6 804.2L1536.6 801.7L1529.6 799.4L1522.3 797.1L1514.9 795.0L1507.4 793.0L1499.6 791.3L1491.7 789.9L1483.7 788.9L1475.4 788.4L1474.7 788.4L1474.0 788.4L1473.2 788.5L1472.5 788.5L1471.8 788.5L1471.1 788.6L1470.4 788.6L1469.7 788.7L1469.0 788.8L1468.4 788.9L1467.7 789.0L1467.1 789.1L1466.5 789.2L1465.8 789.3L1465.3 789.4L1464.7 789.5L1464.1 789.7L1463.6 789.8L1463.1 790.0L1462.6 790.1L1462.2 790.3L1461.7 790.4L1461.3 790.6L1461.0 790.8L1460.6 791.0L1460.3 791.1L1460.0 791.3L1459.7 791.5L1459.5 791.7L1459.3 791.9L1459.1 792.1L1459.0 792.3L1458.9 792.5L1458.8 792.7L1458.7 792.9L1458.7 793.1L1458.7 1015.1L1458.8 1015.5L1458.9 1015.9L1459.1 1016.3L1459.4 1016.6L1459.8 1017.0L1460.3 1017.4L1460.9 1017.7L1461.5 1018.1L1462.2 1018.4L1463.0 1018.7L1463.9 1019.0L1464.8 1019.3L1465.8 1019.6L1466.9 1019.8L1468.0 1020.0L1469.2 1020.2L1470.4 1020.4L1471.6 1020.6L1472.9 1020.7L1474.2 1020.8L1475.5 1020.9L1476.9 1021.0L1478.2 1021.0L1479.6 1021.0L1485.3 1021.0L1490.9 1021.0L1496.6 1021.0L1502.2 1021.0L1507.9 1021.0L1513.6 1020.9L1519.2 1020.9L1524.9 1020.8L1530.5 1020.8L1536.2 1020.7L1541.9 1020.6L1547.5 1020.5L1553.2 1020.4L1558.9 1020.3L1564.5 1020.2L1570.2 1020.1L1575.8 1020.0L1581.5 1019.9L1587.2 1019.7L1592.8 1019.6L1598.5 1019.4L1604.1 1019.3L1609.8 1019.1L1615.5 1019.0L1621.1 1018.8L1626.8 1018.6L1632.4 1018.4L1638.1 1018.2L1643.8 1018.0L1649.4 1017.8L1655.1 1017.6L1660.7 1017.3L1666.4 1017.1L1672.1 1016.9L1677.7 1016.6L1683.4 1016.3Z" stroke="#3300ff"/><path d="M1682.9 1016.7L1682.9 888.7L1682.8 887.9L1682.6 886.6L1682.2 885.1L1681.6 883.5L1680.8 881.8L1679.9 880.1L1678.8 878.3L1677.6 876.5L1676.2 874.6L1674.6 872.8L1672.8 870.9L1670.9 869.0L1668.9 867.1L1666.6 865.2L1664.2 863.3L1661.6 861.4L1658.9 859.5L1656.0 857.5L1652.9 855.5L1649.6 853.6L1646.2 851.6L1642.7 849.5L1638.9 847.5L1635.0 845.4L1630.9 843.2L1626.7 841.1L1622.3 838.9L1617.7 836.6L1613.0 834.4L1608.1 832.0L1603.0 829.7L1597.7 827.3L1592.3 824.8L1586.8 822.3L1581.0 819.8L1575.1 817.3L1569.0 814.7L1562.8 812.1L1556.4 809.6L1549.8 807.0L1543.1 804.5L1536.2 802.0L1529.1 799.7L1521.9 797.4L1514.5 795.3L1506.9 793.3L1499.2 791.6L1491.3 790.2L1483.2 789.2L1475.0 788.7L1474.2 788.7L1473.5 788.8L1472.8 788.8L1472.1 788.8L1471.3 788.9L1470.6 788.9L1469.9 789.0L1469.3 789.0L1468.6 789.1L1467.9 789.2L1467.3 789.3L1466.6 789.4L1466.0 789.5L1465.4 789.6L1464.8 789.7L1464.2 789.8L1463.7 790.0L1463.2 790.1L1462.6 790.3L1462.2 790.4L1461.7 790.6L1461.3 790.7L1460.9 790.9L1460.5 791.1L1460.1 791.3L1459.8 791.5L1459.5 791.6L1459.3 791.8L1459.0 792.0L1458.8 792.2L1458.7 792.4L1458.5 792.6L1458.4 792.8L1458.3 793.0L1458.3 793.2L1458.3 793.4L1458.3 1015.1L1458.3 1015.5L1458.4 1015.9L1458.7 1016.3L1459.0 1016.6L1459.4 1017.0L1459.8 1017.4L1460.4 1017.7L1461.1 1018.1L1461.8 1018.4L1462.6 1018.7L1463.4 1019.0L1464.4 1019.3L1465.4 1019.6L1466.4 1019.8L1467.5 1020.0L1468.7 1020.2L1469.9 1020.4L1471.2 1020.6L1472.4 1020.7L1473.7 1020.8L1475.1 1020.9L1476.4 1021.0L1477.8 1021.0L1479.1 1021.0L1484.8 1021.0L1490.5 1021.0L1496.1 1021.0L1501.8 1021.0L1507.4 1021.0L1513.1 1020.9L1518.8 1020.9L1524.4 1020.8L1530.1 1020.8L1535.7 1020.7L1541.4 1020.6L1547.1 1020.6L1552.7 1020.5L1558.4 1020.4L1564.0 1020.3L1569.7 1020.2L1575.4 1020.1L1581.0 1019.9L1586.7 1019.8L1592.3 1019.7L1598.0 1019.6L1603.7 1019.4L1609.3 1019.3L1615.0 1019.1L1620.6 1018.9L1626.3 1018.8L1632.0 1018.6L1637.6 1018.4L1643.3 1018.2L1649.0 1018.0L1654.6 1017.8L1660.3 1017.6L1665.9 1017.4L1671.6 1017.1L1677.3 1016.9L1682.9 1016.7Z" stroke="#cc00ff"/><path d="M1682.4 1016.7L1682.4 889.1L1682.4 888.2L1682.1 886.9L1681.7 885.4L1681.1 883.8L1680.4 882.1L1679.5 880.4L1678.4 878.6L1677.1 876.8L1675.7 875.0L1674.1 873.1L1672.4 871.2L1670.5 869.3L1668.4 867.5L1666.2 865.6L1663.8 863.6L1661.2 861.7L1658.5 859.8L1655.6 857.8L1652.5 855.9L1649.3 853.9L1645.8 851.9L1642.3 849.8L1638.5 847.8L1634.6 845.7L1630.6 843.6L1626.3 841.4L1621.9 839.2L1617.4 837.0L1612.7 834.7L1607.8 832.4L1602.7 830.0L1597.5 827.6L1592.1 825.1L1586.5 822.6L1580.8 820.1L1574.9 817.6L1568.8 815.0L1562.6 812.5L1556.2 809.9L1549.7 807.3L1542.9 804.8L1536.0 802.4L1529.0 800.0L1521.8 797.7L1514.4 795.6L1506.8 793.6L1499.1 791.9L1491.2 790.5L1483.2 789.5L1475.0 789.1L1474.2 789.1L1473.5 789.1L1472.8 789.1L1472.1 789.1L1471.3 789.2L1470.6 789.2L1469.9 789.3L1469.3 789.3L1468.6 789.4L1467.9 789.5L1467.3 789.6L1466.6 789.7L1466.0 789.8L1465.4 789.9L1464.8 790.0L1464.2 790.2L1463.7 790.3L1463.2 790.4L1462.6 790.6L1462.2 790.7L1461.7 790.9L1461.3 791.1L1460.9 791.2L1460.5 791.4L1460.1 791.6L1459.8 791.8L1459.5 792.0L1459.3 792.2L1459.0 792.3L1458.8 792.5L1458.7 792.7L1458.5 792.9L1458.4 793.1L1458.3 793.3L1458.3 793.6L1458.3 793.8L1458.3 1015.4L1458.3 1015.8L1458.4 1016.2L1458.7 1016.6L1459.0 1016.9L1459.4 1017.3L1459.8 1017.7L1460.4 1018.0L1461.1 1018.4L1461.8 1018.7L1462.6 1019.0L1463.4 1019.3L1464.4 1019.6L1465.4 1019.9L1466.4 1020.1L1467.5 1020.4L1468.7 1020.6L1469.9 1020.7L1471.2 1020.9L1472.4 1021.0L1473.7 1021.2L1475.1 1021.2L1476.4 1021.3L1477.8 1021.3L1479.1 1021.4L1484.8 1021.4L1490.4 1021.3L1496.1 1021.3L1501.7 1021.3L1507.4 1021.3L1513.0 1021.2L1518.7 1021.2L1524.3 1021.1L1530.0 1021.1L1535.6 1021.0L1541.3 1020.9L1546.9 1020.8L1552.6 1020.7L1558.2 1020.6L1563.9 1020.5L1569.5 1020.4L1575.1 1020.3L1580.8 1020.2L1586.4 1020.1L1592.1 1019.9L1597.7 1019.8L1603.4 1019.6L1609.0 1019.4L1614.7 1019.3L1620.3 1019.1L1626.0 1018.9L1631.6 1018.7L1637.3 1018.5L1642.9 1018.3L1648.6 1018.1L1654.2 1017.9L1659.9 1017.6L1665.5 1017.4L1671.2 1017.2L1676.8 1016.9L1682.4 1016.7Z" stroke="#ff0099"/></g>
<rect x="80.00" y="32.40" width="557.00" height="438.90" fill="none" stroke="#000" stroke-opacity="0.5" stroke-width="1.4"/>
<path d="M80.00 471.30V465.30M80.00 32.40V38.40M191.40 471.30V465.30M191.40 32.40V38.40M302.80 471.30V465.30M302.80 32.40V38.40M414.20 471.30V465.30M414.20 32.40V38.40M525.60 471.30V465.30M525.60 32.40V38.40M637.00 471.30V465.30M637.00 32.40V38.40M80.00 471.30H86.00M637.00 471.30H631.00M80.00 427.41H86.00M637.00 427.41H631.00M80.00 383.52H86.00M637.00 383.52H631.00M80.00 339.63H86.00M637.00 339.63H631.00M80.00 295.74H86.00M637.00 295.74H631.00M80.00 251.85H86.00M637.00 251.85H631.00M80.00 207.96H86.00M637.00 207.96H631.00M80.00 164.07H86.00M637.00 164.07H631.00M80.00 120.18H86.00M637.00 120.18H631.00M80.00 76.29H86.00M637.00 76.29H631.00M80.00 32.40H86.00M637.00 32.40H631.00" stroke="#000" stroke-opacity="0.5" stroke-width="1.4" fill="none"/>
<text transform="translate(79.0,509.3) scale(0.89,1)" text-anchor="middle" class="tk">50</text>
<text transform="translate(190.4,509.3) scale(0.89,1)" text-anchor="middle" class="tk">100</text>
<text transform="translate(301.8,509.3) scale(0.89,1)" text-anchor="middle" class="tk">150</text>
<text transform="translate(413.2,509.3) scale(0.89,1)" text-anchor="middle" class="tk">200</text>
<text transform="translate(524.6,509.3) scale(0.89,1)" text-anchor="middle" class="tk">250</text>
<text transform="translate(636.0,509.3) scale(0.89,1)" text-anchor="middle" class="tk">300</text>
<text transform="translate(73.2,482.7) scale(0.89,1)" text-anchor="end" class="tk">2</text>
<text transform="translate(73.2,394.9) scale(0.89,1)" text-anchor="end" class="tk">6</text>
<text transform="translate(73.2,307.1) scale(0.89,1)" text-anchor="end" class="tk">10</text>
<text transform="translate(73.2,219.4) scale(0.89,1)" text-anchor="end" class="tk">14</text>
<text transform="translate(73.2,131.6) scale(0.89,1)" text-anchor="end" class="tk">18</text>
<text transform="translate(73.2,43.8) scale(0.89,1)" text-anchor="end" class="tk">22</text>
<rect x="754.00" y="32.40" width="557.00" height="438.80" fill="none" stroke="#000" stroke-opacity="0.5" stroke-width="1.4"/>
<path d="M754.00 471.20V465.20M754.00 32.40V38.40M865.40 471.20V465.20M865.40 32.40V38.40M976.80 471.20V465.20M976.80 32.40V38.40M1088.20 471.20V465.20M1088.20 32.40V38.40M1199.60 471.20V465.20M1199.60 32.40V38.40M1311.00 471.20V465.20M1311.00 32.40V38.40M754.00 471.20H760.00M1311.00 471.20H1305.00M754.00 427.32H760.00M1311.00 427.32H1305.00M754.00 383.44H760.00M1311.00 383.44H1305.00M754.00 339.56H760.00M1311.00 339.56H1305.00M754.00 295.68H760.00M1311.00 295.68H1305.00M754.00 251.80H760.00M1311.00 251.80H1305.00M754.00 207.92H760.00M1311.00 207.92H1305.00M754.00 164.04H760.00M1311.00 164.04H1305.00M754.00 120.16H760.00M1311.00 120.16H1305.00M754.00 76.28H760.00M1311.00 76.28H1305.00M754.00 32.40H760.00M1311.00 32.40H1305.00" stroke="#000" stroke-opacity="0.5" stroke-width="1.4" fill="none"/>
<text transform="translate(753.0,509.2) scale(0.89,1)" text-anchor="middle" class="tk">50</text>
<text transform="translate(864.4,509.2) scale(0.89,1)" text-anchor="middle" class="tk">100</text>
<text transform="translate(975.8,509.2) scale(0.89,1)" text-anchor="middle" class="tk">150</text>
<text transform="translate(1087.2,509.2) scale(0.89,1)" text-anchor="middle" class="tk">200</text>
<text transform="translate(1198.6,509.2) scale(0.89,1)" text-anchor="middle" class="tk">250</text>
<text transform="translate(1310.0,509.2) scale(0.89,1)" text-anchor="middle" class="tk">300</text>
<text transform="translate(747.2,482.6) scale(0.89,1)" text-anchor="end" class="tk">2</text>
<text transform="translate(747.2,394.8) scale(0.89,1)" text-anchor="end" class="tk">6</text>
<text transform="translate(747.2,307.1) scale(0.89,1)" text-anchor="end" class="tk">10</text>
<text transform="translate(747.2,219.3) scale(0.89,1)" text-anchor="end" class="tk">14</text>
<text transform="translate(747.2,131.6) scale(0.89,1)" text-anchor="end" class="tk">18</text>
<text transform="translate(747.2,43.8) scale(0.89,1)" text-anchor="end" class="tk">22</text>
<rect x="1424.50" y="32.40" width="557.10" height="438.90" fill="none" stroke="#000" stroke-opacity="0.5" stroke-width="1.4"/>
<path d="M1424.50 471.30V465.30M1424.50 32.40V38.40M1535.92 471.30V465.30M1535.92 32.40V38.40M1647.34 471.30V465.30M1647.34 32.40V38.40M1758.76 471.30V465.30M1758.76 32.40V38.40M1870.18 471.30V465.30M1870.18 32.40V38.40M1981.60 471.30V465.30M1981.60 32.40V38.40M1424.50 471.30H1430.50M1981.60 471.30H1975.60M1424.50 427.41H1430.50M1981.60 427.41H1975.60M1424.50 383.52H1430.50M1981.60 383.52H1975.60M1424.50 339.63H1430.50M1981.60 339.63H1975.60M1424.50 295.74H1430.50M1981.60 295.74H1975.60M1424.50 251.85H1430.50M1981.60 251.85H1975.60M1424.50 207.96H1430.50M1981.60 207.96H1975.60M1424.50 164.07H1430.50M1981.60 164.07H1975.60M1424.50 120.18H1430.50M1981.60 120.18H1975.60M1424.50 76.29H1430.50M1981.60 76.29H1975.60M1424.50 32.40H1430.50M1981.60 32.40H1975.60" stroke="#000" stroke-opacity="0.5" stroke-width="1.4" fill="none"/>
<text transform="translate(1423.5,509.3) scale(0.89,1)" text-anchor="middle" class="tk">50</text>
<text transform="translate(1534.9,509.3) scale(0.89,1)" text-anchor="middle" class="tk">100</text>
<text transform="translate(1646.3,509.3) scale(0.89,1)" text-anchor="middle" class="tk">150</text>
<text transform="translate(1757.8,509.3) scale(0.89,1)" text-anchor="middle" class="tk">200</text>
<text transform="translate(1869.2,509.3) scale(0.89,1)" text-anchor="middle" class="tk">250</text>
<text transform="translate(1980.6,509.3) scale(0.89,1)" text-anchor="middle" class="tk">300</text>
<text transform="translate(1417.7,482.7) scale(0.89,1)" text-anchor="end" class="tk">2</text>
<text transform="translate(1417.7,394.9) scale(0.89,1)" text-anchor="end" class="tk">6</text>
<text transform="translate(1417.7,307.1) scale(0.89,1)" text-anchor="end" class="tk">10</text>
<text transform="translate(1417.7,219.4) scale(0.89,1)" text-anchor="end" class="tk">14</text>
<text transform="translate(1417.7,131.6) scale(0.89,1)" text-anchor="end" class="tk">18</text>
<text transform="translate(1417.7,43.8) scale(0.89,1)" text-anchor="end" class="tk">22</text>
<rect x="79.50" y="595.00" width="556.90" height="438.90" fill="none" stroke="#000" stroke-opacity="0.5" stroke-width="1.4"/>
<path d="M79.50 1033.90V1027.90M79.50 595.00V601.00M172.32 1033.90V1027.90M172.32 595.00V601.00M265.13 1033.90V1027.90M265.13 595.00V601.00M357.95 1033.90V1027.90M357.95 595.00V601.00M450.77 1033.90V1027.90M450.77 595.00V601.00M543.58 1033.90V1027.90M543.58 595.00V601.00M636.40 1033.90V1027.90M636.40 595.00V601.00M79.50 1033.90H85.50M636.40 1033.90H630.40M79.50 971.20H85.50M636.40 971.20H630.40M79.50 908.50H85.50M636.40 908.50H630.40M79.50 845.80H85.50M636.40 845.80H630.40M79.50 783.10H85.50M636.40 783.10H630.40M79.50 720.40H85.50M636.40 720.40H630.40M79.50 657.70H85.50M636.40 657.70H630.40M79.50 595.00H85.50M636.40 595.00H630.40" stroke="#000" stroke-opacity="0.5" stroke-width="1.4" fill="none"/>
<text transform="translate(78.5,1071.9) scale(0.89,1)" text-anchor="middle" class="tk">40</text>
<text transform="translate(171.3,1071.9) scale(0.89,1)" text-anchor="middle" class="tk">60</text>
<text transform="translate(264.1,1071.9) scale(0.89,1)" text-anchor="middle" class="tk">80</text>
<text transform="translate(356.9,1071.9) scale(0.89,1)" text-anchor="middle" class="tk">100</text>
<text transform="translate(449.8,1071.9) scale(0.89,1)" text-anchor="middle" class="tk">120</text>
<text transform="translate(542.6,1071.9) scale(0.89,1)" text-anchor="middle" class="tk">140</text>
<text transform="translate(635.4,1071.9) scale(0.89,1)" text-anchor="middle" class="tk">160</text>
<text transform="translate(72.7,1045.3) scale(0.89,1)" text-anchor="end" class="tk">0</text>
<text transform="translate(72.7,919.9) scale(0.89,1)" text-anchor="end" class="tk">40</text>
<text transform="translate(72.7,794.5) scale(0.89,1)" text-anchor="end" class="tk">80</text>
<text transform="translate(72.7,669.1) scale(0.89,1)" text-anchor="end" class="tk">120</text>
<rect x="751.30" y="595.00" width="557.10" height="438.90" fill="none" stroke="#000" stroke-opacity="0.5" stroke-width="1.4"/>
<path d="M751.30 1033.90V1027.90M751.30 595.00V601.00M844.15 1033.90V1027.90M844.15 595.00V601.00M937.00 1033.90V1027.90M937.00 595.00V601.00M1029.85 1033.90V1027.90M1029.85 595.00V601.00M1122.70 1033.90V1027.90M1122.70 595.00V601.00M1215.55 1033.90V1027.90M1215.55 595.00V601.00M1308.40 1033.90V1027.90M1308.40 595.00V601.00M751.30 1033.90H757.30M1308.40 1033.90H1302.40M751.30 971.20H757.30M1308.40 971.20H1302.40M751.30 908.50H757.30M1308.40 908.50H1302.40M751.30 845.80H757.30M1308.40 845.80H1302.40M751.30 783.10H757.30M1308.40 783.10H1302.40M751.30 720.40H757.30M1308.40 720.40H1302.40M751.30 657.70H757.30M1308.40 657.70H1302.40M751.30 595.00H757.30M1308.40 595.00H1302.40" stroke="#000" stroke-opacity="0.5" stroke-width="1.4" fill="none"/>
<text transform="translate(750.3,1071.9) scale(0.89,1)" text-anchor="middle" class="tk">40</text>
<text transform="translate(843.1,1071.9) scale(0.89,1)" text-anchor="middle" class="tk">60</text>
<text transform="translate(936.0,1071.9) scale(0.89,1)" text-anchor="middle" class="tk">80</text>
<text transform="translate(1028.8,1071.9) scale(0.89,1)" text-anchor="middle" class="tk">100</text>
<text transform="translate(1121.7,1071.9) scale(0.89,1)" text-anchor="middle" class="tk">120</text>
<text transform="translate(1214.6,1071.9) scale(0.89,1)" text-anchor="middle" class="tk">140</text>
<text transform="translate(1307.4,1071.9) scale(0.89,1)" text-anchor="middle" class="tk">160</text>
<text transform="translate(744.5,1045.3) scale(0.89,1)" text-anchor="end" class="tk">0</text>
<text transform="translate(744.5,919.9) scale(0.89,1)" text-anchor="end" class="tk">40</text>
<text transform="translate(744.5,794.5) scale(0.89,1)" text-anchor="end" class="tk">80</text>
<text transform="translate(744.5,669.1) scale(0.89,1)" text-anchor="end" class="tk">120</text>
<rect x="1425.30" y="595.00" width="557.00" height="438.90" fill="none" stroke="#000" stroke-opacity="0.5" stroke-width="1.4"/>
<path d="M1425.30 1033.90V1027.90M1425.30 595.00V601.00M1518.13 1033.90V1027.90M1518.13 595.00V601.00M1610.97 1033.90V1027.90M1610.97 595.00V601.00M1703.80 1033.90V1027.90M1703.80 595.00V601.00M1796.63 1033.90V1027.90M1796.63 595.00V601.00M1889.47 1033.90V1027.90M1889.47 595.00V601.00M1982.30 1033.90V1027.90M1982.30 595.00V601.00M1425.30 1033.90H1431.30M1982.30 1033.90H1976.30M1425.30 971.20H1431.30M1982.30 971.20H1976.30M1425.30 908.50H1431.30M1982.30 908.50H1976.30M1425.30 845.80H1431.30M1982.30 845.80H1976.30M1425.30 783.10H1431.30M1982.30 783.10H1976.30M1425.30 720.40H1431.30M1982.30 720.40H1976.30M1425.30 657.70H1431.30M1982.30 657.70H1976.30M1425.30 595.00H1431.30M1982.30 595.00H1976.30" stroke="#000" stroke-opacity="0.5" stroke-width="1.4" fill="none"/>
<text transform="translate(1424.3,1071.9) scale(0.89,1)" text-anchor="middle" class="tk">40</text>
<text transform="translate(1517.1,1071.9) scale(0.89,1)" text-anchor="middle" class="tk">60</text>
<text transform="translate(1610.0,1071.9) scale(0.89,1)" text-anchor="middle" class="tk">80</text>
<text transform="translate(1702.8,1071.9) scale(0.89,1)" text-anchor="middle" class="tk">100</text>
<text transform="translate(1795.6,1071.9) scale(0.89,1)" text-anchor="middle" class="tk">120</text>
<text transform="translate(1888.5,1071.9) scale(0.89,1)" text-anchor="middle" class="tk">140</text>
<text transform="translate(1981.3,1071.9) scale(0.89,1)" text-anchor="middle" class="tk">160</text>
<text transform="translate(1418.5,1045.3) scale(0.89,1)" text-anchor="end" class="tk">0</text>
<text transform="translate(1418.5,919.9) scale(0.89,1)" text-anchor="end" class="tk">40</text>
<text transform="translate(1418.5,794.5) scale(0.89,1)" text-anchor="end" class="tk">80</text>
<text transform="translate(1418.5,669.1) scale(0.89,1)" text-anchor="end" class="tk">120</text>
<text transform="translate(358.5,539.3) scale(0.94,1)" text-anchor="middle" class="lab">V<tspan font-size="24" dy="11">rv</tspan><tspan dy="-11"> [mL]</tspan></text>
<text transform="translate(24.0,251.8) rotate(-90)" text-anchor="middle" class="lab">P<tspan font-size="24" dy="11">rv</tspan><tspan dy="-11"> [mmHg]</tspan></text>
<text x="575.0" y="79.7" class="pl">a<tspan dy="8.2" font-size="33">1</tspan></text>
<text transform="translate(1032.5,539.2) scale(0.94,1)" text-anchor="middle" class="lab">V<tspan font-size="24" dy="11">rv</tspan><tspan dy="-11"> [mL]</tspan></text>
<text transform="translate(698.0,251.8) rotate(-90)" text-anchor="middle" class="lab">P<tspan font-size="24" dy="11">rv</tspan><tspan dy="-11"> [mmHg]</tspan></text>
<text x="1253.0" y="79.7" class="pl">b<tspan dy="8.2" font-size="33">1</tspan></text>
<text transform="translate(1703.0,539.3) scale(0.94,1)" text-anchor="middle" class="lab">V<tspan font-size="24" dy="11">rv</tspan><tspan dy="-11"> [mL]</tspan></text>
<text transform="translate(1368.5,251.8) rotate(-90)" text-anchor="middle" class="lab">P<tspan font-size="24" dy="11">rv</tspan><tspan dy="-11"> [mmHg]</tspan></text>
<text x="1920.4" y="79.7" class="pl">c<tspan dy="8.2" font-size="33">1</tspan></text>
<text transform="translate(357.9,1101.9) scale(0.94,1)" text-anchor="middle" class="lab">V<tspan font-size="24" dy="11">lv</tspan><tspan dy="-11"> [mL]</tspan></text>
<text transform="translate(23.5,814.5) rotate(-90)" text-anchor="middle" class="lab">P<tspan font-size="24" dy="11">lv</tspan><tspan dy="-11"> [mmHg]</tspan></text>
<text x="574.3" y="641.0" class="pl">a<tspan dy="8.2" font-size="33">2</tspan></text>
<text transform="translate(1029.8,1101.9) scale(0.94,1)" text-anchor="middle" class="lab">V<tspan font-size="24" dy="11">lv</tspan><tspan dy="-11"> [mL]</tspan></text>
<text transform="translate(695.3,814.5) rotate(-90)" text-anchor="middle" class="lab">P<tspan font-size="24" dy="11">lv</tspan><tspan dy="-11"> [mmHg]</tspan></text>
<text x="1250.2" y="641.0" class="pl">b<tspan dy="8.2" font-size="33">2</tspan></text>
<text transform="translate(1703.8,1101.9) scale(0.94,1)" text-anchor="middle" class="lab">V<tspan font-size="24" dy="11">lv</tspan><tspan dy="-11"> [mL]</tspan></text>
<text transform="translate(1369.3,814.5) rotate(-90)" text-anchor="middle" class="lab">P<tspan font-size="24" dy="11">lv</tspan><tspan dy="-11"> [mmHg]</tspan></text>
<text x="1919.8" y="641.0" class="pl">c<tspan dy="8.2" font-size="33">2</tspan></text>
<rect x="814.1" y="1135.7" width="382.5" height="34.7" fill="#000"/>
<rect x="850.4" y="1138.2" width="31.8" height="29.7" fill="#ff0000"/>
<rect x="885.1" y="1138.2" width="31.8" height="29.7" fill="#ff9900"/>
<rect x="919.9" y="1138.2" width="31.8" height="29.7" fill="#ccff00"/>
<rect x="954.7" y="1138.2" width="31.8" height="29.7" fill="#33ff00"/>
<rect x="989.5" y="1138.2" width="31.8" height="29.7" fill="#00ff66"/>
<rect x="1024.2" y="1138.2" width="31.8" height="29.7" fill="#00ffff"/>
<rect x="1059.0" y="1138.2" width="31.8" height="29.7" fill="#0066ff"/>
<rect x="1093.8" y="1138.2" width="31.8" height="29.7" fill="#3300ff"/>
<rect x="1128.6" y="1138.2" width="31.8" height="29.7" fill="#cc00ff"/>
<rect x="1163.3" y="1138.2" width="31.8" height="29.7" fill="#ff0099"/>
<path d="M831.5 1170.4V1178.4" stroke="#000" stroke-width="2"/>
<path d="M1005.3 1170.4V1178.4" stroke="#000" stroke-width="2"/>
<path d="M1179.2 1170.4V1178.4" stroke="#000" stroke-width="2"/>
<text transform="translate(834,1210.3) scale(0.955,1)" text-anchor="middle" class="tk">p=0%</text>
<text transform="translate(1005.7,1210.3) scale(0.955,1)" text-anchor="middle" class="tk">50%</text>
<text transform="translate(1179,1210.3) scale(0.955,1)" text-anchor="middle" class="tk">100%</text>
<path d="M767.0 818.9L881.1 610.4" stroke="#000" stroke-width="3" stroke-dasharray="6.5 10" fill="none"/>
<path d="M1237.3 1006L1281.8 1001.7" stroke="#000" stroke-width="3" stroke-dasharray="6.5 10" fill="none"/>
<text transform="translate(881.5,637.5) scale(0.925,1)" class="lab" style="font-size:35px">ESPVR</text>
<text transform="translate(1183.5,748.5) scale(0.945,1)" class="lab" style="font-size:35px">EDPVR</text>
<path d="M1245 757L1268.5 975" stroke="#000" stroke-width="1.2" fill="none"/>
<path d="M1271.6 992L1263.6 972.5L1277.5 971Z" fill="#000"/>
</svg></body></html>
